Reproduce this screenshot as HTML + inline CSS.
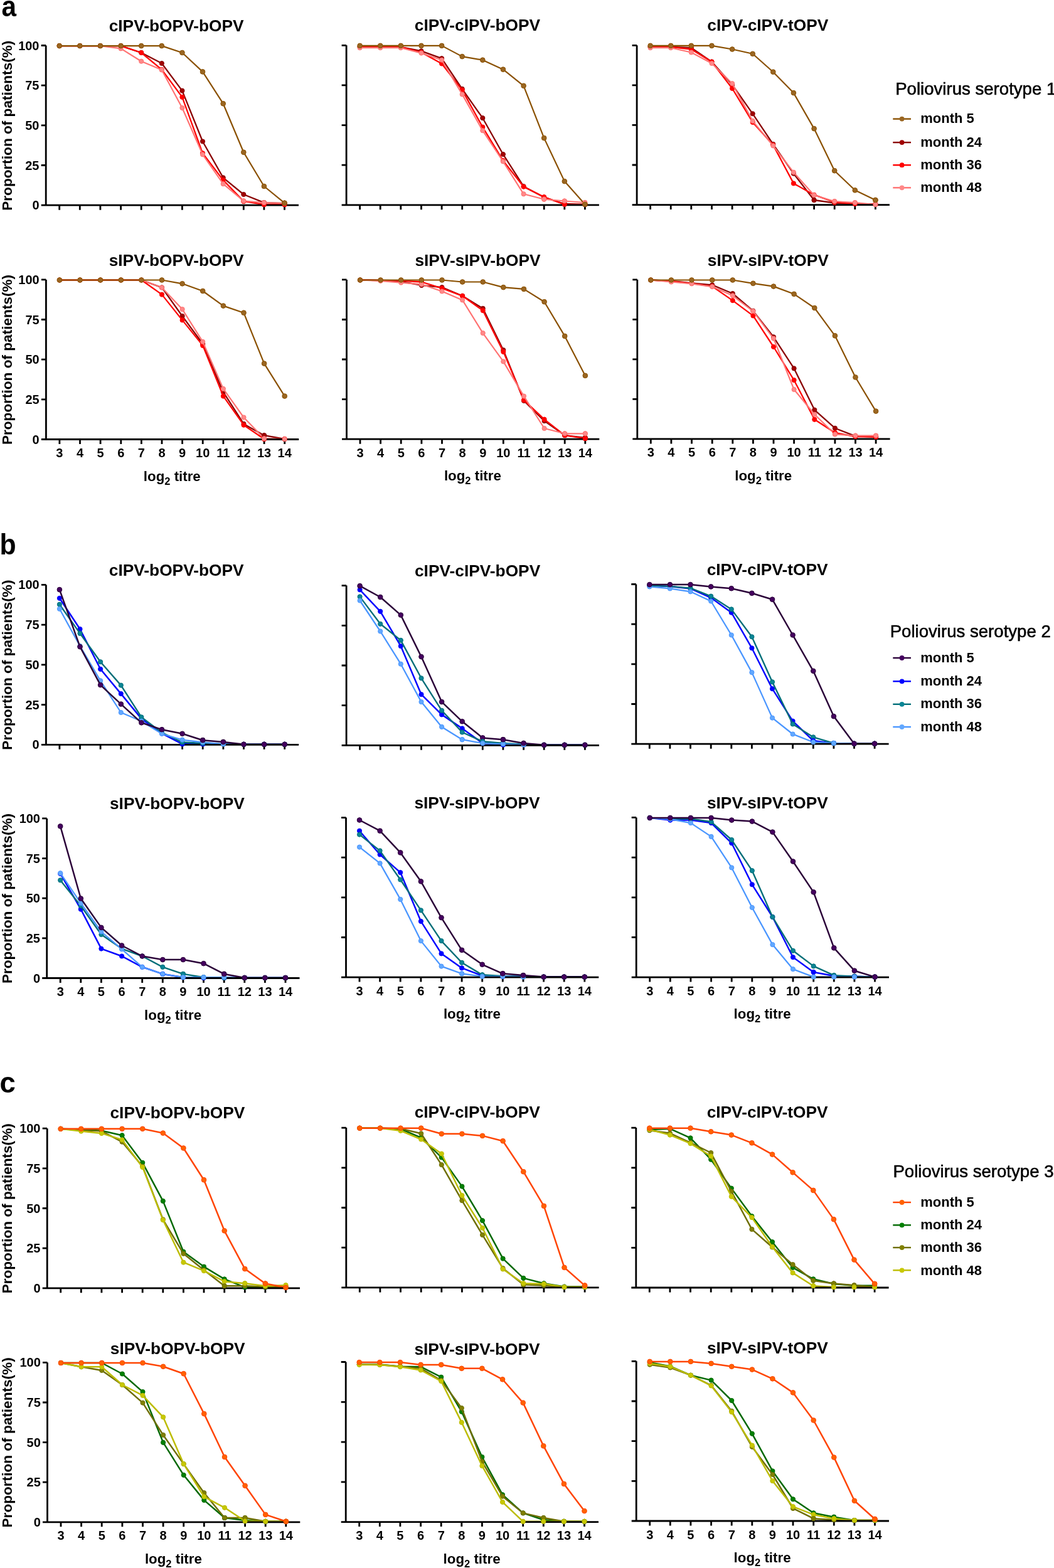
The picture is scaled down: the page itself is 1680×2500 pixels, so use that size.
<!DOCTYPE html><html><head><meta charset="utf-8"><style>html,body{margin:0;padding:0;background:#fff;}svg{display:block;}text{font-family:"Liberation Sans",Arial,sans-serif;}</style></head><body>
<svg width="1680" height="2500" viewBox="0 0 1680 2500">
<rect width="1680" height="2500" fill="#fff"/>
<g><text x="281.1" y="49.8" font-size="26.3" font-weight="bold" text-anchor="middle">cIPV-bOPV-bOPV</text><text x="62.5" y="79.5" font-size="20" font-weight="bold" text-anchor="end">100</text><text x="62.5" y="143.2" font-size="20" font-weight="bold" text-anchor="end">75</text><text x="62.5" y="206.8" font-size="20" font-weight="bold" text-anchor="end">50</text><text x="62.5" y="270.5" font-size="20" font-weight="bold" text-anchor="end">25</text><text x="62.5" y="334.2" font-size="20" font-weight="bold" text-anchor="end">0</text><text transform="translate(19 200.2) rotate(-90)" font-size="22.6" font-weight="bold" text-anchor="middle">Proportion of patients(%)</text><polyline points="94.7,73.1 127.3,73.1 159.9,73.1 192.6,73.1 225.2,84 257.8,101 290.4,144.6 323,225.5 355.7,283.3 388.3,310 420.9,323.1 453.5,324.2" fill="none" stroke="#8a0000" stroke-width="2.3" stroke-linejoin="round"/><circle cx="94.7" cy="73.1" r="3.5999999999999996" fill="#a00000" stroke="#8a0000" stroke-width="1"/><circle cx="127.3" cy="73.1" r="3.5999999999999996" fill="#a00000" stroke="#8a0000" stroke-width="1"/><circle cx="159.9" cy="73.1" r="3.5999999999999996" fill="#a00000" stroke="#8a0000" stroke-width="1"/><circle cx="192.6" cy="73.1" r="3.5999999999999996" fill="#a00000" stroke="#8a0000" stroke-width="1"/><circle cx="225.2" cy="84" r="3.5999999999999996" fill="#a00000" stroke="#8a0000" stroke-width="1"/><circle cx="257.8" cy="101" r="3.5999999999999996" fill="#a00000" stroke="#8a0000" stroke-width="1"/><circle cx="290.4" cy="144.6" r="3.5999999999999996" fill="#a00000" stroke="#8a0000" stroke-width="1"/><circle cx="323" cy="225.5" r="3.5999999999999996" fill="#a00000" stroke="#8a0000" stroke-width="1"/><circle cx="355.7" cy="283.3" r="3.5999999999999996" fill="#a00000" stroke="#8a0000" stroke-width="1"/><circle cx="388.3" cy="310" r="3.5999999999999996" fill="#a00000" stroke="#8a0000" stroke-width="1"/><circle cx="420.9" cy="323.1" r="3.5999999999999996" fill="#a00000" stroke="#8a0000" stroke-width="1"/><circle cx="453.5" cy="324.2" r="3.5999999999999996" fill="#a00000" stroke="#8a0000" stroke-width="1"/><polyline points="94.7,73.1 127.3,73.1 159.9,73.1 192.6,73.1 225.2,84 257.8,110.9 290.4,154.8 323,244.3 355.7,287.1 388.3,320.9 420.9,326.2 453.5,326.2" fill="none" stroke="#ff0000" stroke-width="2.3" stroke-linejoin="round"/><circle cx="94.7" cy="73.1" r="3.5999999999999996" fill="#ff0000" stroke="#ff0000" stroke-width="1"/><circle cx="127.3" cy="73.1" r="3.5999999999999996" fill="#ff0000" stroke="#ff0000" stroke-width="1"/><circle cx="159.9" cy="73.1" r="3.5999999999999996" fill="#ff0000" stroke="#ff0000" stroke-width="1"/><circle cx="192.6" cy="73.1" r="3.5999999999999996" fill="#ff0000" stroke="#ff0000" stroke-width="1"/><circle cx="225.2" cy="84" r="3.5999999999999996" fill="#ff0000" stroke="#ff0000" stroke-width="1"/><circle cx="257.8" cy="110.9" r="3.5999999999999996" fill="#ff0000" stroke="#ff0000" stroke-width="1"/><circle cx="290.4" cy="154.8" r="3.5999999999999996" fill="#ff0000" stroke="#ff0000" stroke-width="1"/><circle cx="323" cy="244.3" r="3.5999999999999996" fill="#ff0000" stroke="#ff0000" stroke-width="1"/><circle cx="355.7" cy="287.1" r="3.5999999999999996" fill="#ff0000" stroke="#ff0000" stroke-width="1"/><circle cx="388.3" cy="320.9" r="3.5999999999999996" fill="#ff0000" stroke="#ff0000" stroke-width="1"/><circle cx="420.9" cy="326.2" r="3.5999999999999996" fill="#ff0000" stroke="#ff0000" stroke-width="1"/><circle cx="453.5" cy="326.2" r="3.5999999999999996" fill="#ff0000" stroke="#ff0000" stroke-width="1"/><polyline points="94.7,73.1 127.3,73.1 159.9,73.1 192.6,77.4 225.2,97.7 257.8,111.4 290.4,172 323,246.3 355.7,293.2 388.3,320.4 420.9,323.1 453.5,324.2" fill="none" stroke="#ff7272" stroke-width="2.2" stroke-linejoin="round"/><circle cx="94.7" cy="73.1" r="3.5999999999999996" fill="#ff8888" stroke="#ff7272" stroke-width="1"/><circle cx="127.3" cy="73.1" r="3.5999999999999996" fill="#ff8888" stroke="#ff7272" stroke-width="1"/><circle cx="159.9" cy="73.1" r="3.5999999999999996" fill="#ff8888" stroke="#ff7272" stroke-width="1"/><circle cx="192.6" cy="77.4" r="3.5999999999999996" fill="#ff8888" stroke="#ff7272" stroke-width="1"/><circle cx="225.2" cy="97.7" r="3.5999999999999996" fill="#ff8888" stroke="#ff7272" stroke-width="1"/><circle cx="257.8" cy="111.4" r="3.5999999999999996" fill="#ff8888" stroke="#ff7272" stroke-width="1"/><circle cx="290.4" cy="172" r="3.5999999999999996" fill="#ff8888" stroke="#ff7272" stroke-width="1"/><circle cx="323" cy="246.3" r="3.5999999999999996" fill="#ff8888" stroke="#ff7272" stroke-width="1"/><circle cx="355.7" cy="293.2" r="3.5999999999999996" fill="#ff8888" stroke="#ff7272" stroke-width="1"/><circle cx="388.3" cy="320.4" r="3.5999999999999996" fill="#ff8888" stroke="#ff7272" stroke-width="1"/><circle cx="420.9" cy="323.1" r="3.5999999999999996" fill="#ff8888" stroke="#ff7272" stroke-width="1"/><circle cx="453.5" cy="324.2" r="3.5999999999999996" fill="#ff8888" stroke="#ff7272" stroke-width="1"/><polyline points="94.7,73.1 127.3,73.1 159.9,73.1 192.6,73.1 225.2,73.1 257.8,73.1 290.4,84 323,114.4 355.7,165.2 388.3,242.8 420.9,297 453.5,323.7" fill="none" stroke="#8a5000" stroke-width="2.2" stroke-linejoin="round"/><circle cx="94.7" cy="73.1" r="3.8499999999999996" fill="#9a6622" stroke="#8a5000" stroke-width="1"/><circle cx="127.3" cy="73.1" r="3.8499999999999996" fill="#9a6622" stroke="#8a5000" stroke-width="1"/><circle cx="159.9" cy="73.1" r="3.8499999999999996" fill="#9a6622" stroke="#8a5000" stroke-width="1"/><circle cx="192.6" cy="73.1" r="3.8499999999999996" fill="#9a6622" stroke="#8a5000" stroke-width="1"/><circle cx="225.2" cy="73.1" r="3.8499999999999996" fill="#9a6622" stroke="#8a5000" stroke-width="1"/><circle cx="257.8" cy="73.1" r="3.8499999999999996" fill="#9a6622" stroke="#8a5000" stroke-width="1"/><circle cx="290.4" cy="84" r="3.8499999999999996" fill="#9a6622" stroke="#8a5000" stroke-width="1"/><circle cx="323" cy="114.4" r="3.8499999999999996" fill="#9a6622" stroke="#8a5000" stroke-width="1"/><circle cx="355.7" cy="165.2" r="3.8499999999999996" fill="#9a6622" stroke="#8a5000" stroke-width="1"/><circle cx="388.3" cy="242.8" r="3.8499999999999996" fill="#9a6622" stroke="#8a5000" stroke-width="1"/><circle cx="420.9" cy="297" r="3.8499999999999996" fill="#9a6622" stroke="#8a5000" stroke-width="1"/><circle cx="453.5" cy="323.7" r="3.8499999999999996" fill="#9a6622" stroke="#8a5000" stroke-width="1"/><path d="M73.2 72.5V327.2M65.7 327.2H476M65.7 72.5H73.2M65.7 136.2H73.2M65.7 199.8H73.2M65.7 263.5H73.2M94.7 327.2V334.7M127.3 327.2V334.7M159.9 327.2V334.7M192.6 327.2V334.7M225.2 327.2V334.7M257.8 327.2V334.7M290.4 327.2V334.7M323 327.2V334.7M355.7 327.2V334.7M388.3 327.2V334.7M420.9 327.2V334.7M453.5 327.2V334.7" stroke="#000" stroke-width="2.8" fill="none"/><circle cx="420.9" cy="323.1" r="3.5999999999999996" fill="#a00000" stroke="#8a0000" stroke-width="1"/><circle cx="453.5" cy="324.2" r="3.5999999999999996" fill="#a00000" stroke="#8a0000" stroke-width="1"/><circle cx="388.3" cy="320.9" r="3.5999999999999996" fill="#ff0000" stroke="#ff0000" stroke-width="1"/><circle cx="420.9" cy="326.2" r="3.5999999999999996" fill="#ff0000" stroke="#ff0000" stroke-width="1"/><circle cx="453.5" cy="326.2" r="3.5999999999999996" fill="#ff0000" stroke="#ff0000" stroke-width="1"/><circle cx="388.3" cy="320.4" r="3.5999999999999996" fill="#ff8888" stroke="#ff7272" stroke-width="1"/><circle cx="420.9" cy="323.1" r="3.5999999999999996" fill="#ff8888" stroke="#ff7272" stroke-width="1"/><circle cx="453.5" cy="324.2" r="3.5999999999999996" fill="#ff8888" stroke="#ff7272" stroke-width="1"/><circle cx="453.5" cy="323.7" r="3.8499999999999996" fill="#9a6622" stroke="#8a5000" stroke-width="1"/></g>
<g><text x="760.9" y="48.9" font-size="26.3" font-weight="bold" text-anchor="middle">cIPV-cIPV-bOPV</text><polyline points="573.6,74.9 606.2,74.9 638.8,74.9 671.5,81.3 704.1,93.2 736.7,141.8 769.3,188.2 801.9,246 834.6,297.2 867.2,314.6 899.8,325 932.4,325.8" fill="none" stroke="#8a0000" stroke-width="2.3" stroke-linejoin="round"/><circle cx="573.6" cy="74.9" r="3.5999999999999996" fill="#a00000" stroke="#8a0000" stroke-width="1"/><circle cx="606.2" cy="74.9" r="3.5999999999999996" fill="#a00000" stroke="#8a0000" stroke-width="1"/><circle cx="638.8" cy="74.9" r="3.5999999999999996" fill="#a00000" stroke="#8a0000" stroke-width="1"/><circle cx="671.5" cy="81.3" r="3.5999999999999996" fill="#a00000" stroke="#8a0000" stroke-width="1"/><circle cx="704.1" cy="93.2" r="3.5999999999999996" fill="#a00000" stroke="#8a0000" stroke-width="1"/><circle cx="736.7" cy="141.8" r="3.5999999999999996" fill="#a00000" stroke="#8a0000" stroke-width="1"/><circle cx="769.3" cy="188.2" r="3.5999999999999996" fill="#a00000" stroke="#8a0000" stroke-width="1"/><circle cx="801.9" cy="246" r="3.5999999999999996" fill="#a00000" stroke="#8a0000" stroke-width="1"/><circle cx="834.6" cy="297.2" r="3.5999999999999996" fill="#a00000" stroke="#8a0000" stroke-width="1"/><circle cx="867.2" cy="314.6" r="3.5999999999999996" fill="#a00000" stroke="#8a0000" stroke-width="1"/><circle cx="899.8" cy="325" r="3.5999999999999996" fill="#a00000" stroke="#8a0000" stroke-width="1"/><circle cx="932.4" cy="325.8" r="3.5999999999999996" fill="#a00000" stroke="#8a0000" stroke-width="1"/><polyline points="573.6,74.9 606.2,74.9 638.8,74.9 671.5,83.5 704.1,101.5 736.7,143.6 769.3,202.6 801.9,256.1 834.6,297.7 867.2,314.1 899.8,325.8 932.4,325.8" fill="none" stroke="#ff0000" stroke-width="2.3" stroke-linejoin="round"/><circle cx="573.6" cy="74.9" r="3.5999999999999996" fill="#ff0000" stroke="#ff0000" stroke-width="1"/><circle cx="606.2" cy="74.9" r="3.5999999999999996" fill="#ff0000" stroke="#ff0000" stroke-width="1"/><circle cx="638.8" cy="74.9" r="3.5999999999999996" fill="#ff0000" stroke="#ff0000" stroke-width="1"/><circle cx="671.5" cy="83.5" r="3.5999999999999996" fill="#ff0000" stroke="#ff0000" stroke-width="1"/><circle cx="704.1" cy="101.5" r="3.5999999999999996" fill="#ff0000" stroke="#ff0000" stroke-width="1"/><circle cx="736.7" cy="143.6" r="3.5999999999999996" fill="#ff0000" stroke="#ff0000" stroke-width="1"/><circle cx="769.3" cy="202.6" r="3.5999999999999996" fill="#ff0000" stroke="#ff0000" stroke-width="1"/><circle cx="801.9" cy="256.1" r="3.5999999999999996" fill="#ff0000" stroke="#ff0000" stroke-width="1"/><circle cx="834.6" cy="297.7" r="3.5999999999999996" fill="#ff0000" stroke="#ff0000" stroke-width="1"/><circle cx="867.2" cy="314.1" r="3.5999999999999996" fill="#ff0000" stroke="#ff0000" stroke-width="1"/><circle cx="899.8" cy="325.8" r="3.5999999999999996" fill="#ff0000" stroke="#ff0000" stroke-width="1"/><circle cx="932.4" cy="325.8" r="3.5999999999999996" fill="#ff0000" stroke="#ff0000" stroke-width="1"/><polyline points="573.6,76.2 606.2,76.2 638.8,76.2 671.5,84.6 704.1,95.7 736.7,150.4 769.3,208.2 801.9,257.4 834.6,309.3 867.2,317.7 899.8,320.5 932.4,323" fill="none" stroke="#ff7272" stroke-width="2.2" stroke-linejoin="round"/><circle cx="573.6" cy="76.2" r="3.5999999999999996" fill="#ff8888" stroke="#ff7272" stroke-width="1"/><circle cx="606.2" cy="76.2" r="3.5999999999999996" fill="#ff8888" stroke="#ff7272" stroke-width="1"/><circle cx="638.8" cy="76.2" r="3.5999999999999996" fill="#ff8888" stroke="#ff7272" stroke-width="1"/><circle cx="671.5" cy="84.6" r="3.5999999999999996" fill="#ff8888" stroke="#ff7272" stroke-width="1"/><circle cx="704.1" cy="95.7" r="3.5999999999999996" fill="#ff8888" stroke="#ff7272" stroke-width="1"/><circle cx="736.7" cy="150.4" r="3.5999999999999996" fill="#ff8888" stroke="#ff7272" stroke-width="1"/><circle cx="769.3" cy="208.2" r="3.5999999999999996" fill="#ff8888" stroke="#ff7272" stroke-width="1"/><circle cx="801.9" cy="257.4" r="3.5999999999999996" fill="#ff8888" stroke="#ff7272" stroke-width="1"/><circle cx="834.6" cy="309.3" r="3.5999999999999996" fill="#ff8888" stroke="#ff7272" stroke-width="1"/><circle cx="867.2" cy="317.7" r="3.5999999999999996" fill="#ff8888" stroke="#ff7272" stroke-width="1"/><circle cx="899.8" cy="320.5" r="3.5999999999999996" fill="#ff8888" stroke="#ff7272" stroke-width="1"/><circle cx="932.4" cy="323" r="3.5999999999999996" fill="#ff8888" stroke="#ff7272" stroke-width="1"/><polyline points="573.6,72.9 606.2,72.9 638.8,72.9 671.5,72.9 704.1,72.9 736.7,90.1 769.3,95.7 801.9,110.7 834.6,136.8 867.2,220.1 899.8,289.1 932.4,325.8" fill="none" stroke="#8a5000" stroke-width="2.2" stroke-linejoin="round"/><circle cx="573.6" cy="72.9" r="3.8499999999999996" fill="#9a6622" stroke="#8a5000" stroke-width="1"/><circle cx="606.2" cy="72.9" r="3.8499999999999996" fill="#9a6622" stroke="#8a5000" stroke-width="1"/><circle cx="638.8" cy="72.9" r="3.8499999999999996" fill="#9a6622" stroke="#8a5000" stroke-width="1"/><circle cx="671.5" cy="72.9" r="3.8499999999999996" fill="#9a6622" stroke="#8a5000" stroke-width="1"/><circle cx="704.1" cy="72.9" r="3.8499999999999996" fill="#9a6622" stroke="#8a5000" stroke-width="1"/><circle cx="736.7" cy="90.1" r="3.8499999999999996" fill="#9a6622" stroke="#8a5000" stroke-width="1"/><circle cx="769.3" cy="95.7" r="3.8499999999999996" fill="#9a6622" stroke="#8a5000" stroke-width="1"/><circle cx="801.9" cy="110.7" r="3.8499999999999996" fill="#9a6622" stroke="#8a5000" stroke-width="1"/><circle cx="834.6" cy="136.8" r="3.8499999999999996" fill="#9a6622" stroke="#8a5000" stroke-width="1"/><circle cx="867.2" cy="220.1" r="3.8499999999999996" fill="#9a6622" stroke="#8a5000" stroke-width="1"/><circle cx="899.8" cy="289.1" r="3.8499999999999996" fill="#9a6622" stroke="#8a5000" stroke-width="1"/><circle cx="932.4" cy="325.8" r="3.8499999999999996" fill="#9a6622" stroke="#8a5000" stroke-width="1"/><path d="M552.1 72.3V326.8M544.6 326.8H954.9M544.6 72.3H552.1M544.6 135.9H552.1M544.6 199.6H552.1M544.6 263.2H552.1M573.6 326.8V334.3M606.2 326.8V334.3M638.8 326.8V334.3M671.5 326.8V334.3M704.1 326.8V334.3M736.7 326.8V334.3M769.3 326.8V334.3M801.9 326.8V334.3M834.6 326.8V334.3M867.2 326.8V334.3M899.8 326.8V334.3M932.4 326.8V334.3" stroke="#000" stroke-width="2.8" fill="none"/><circle cx="899.8" cy="325" r="3.5999999999999996" fill="#a00000" stroke="#8a0000" stroke-width="1"/><circle cx="932.4" cy="325.8" r="3.5999999999999996" fill="#a00000" stroke="#8a0000" stroke-width="1"/><circle cx="899.8" cy="325.8" r="3.5999999999999996" fill="#ff0000" stroke="#ff0000" stroke-width="1"/><circle cx="932.4" cy="325.8" r="3.5999999999999996" fill="#ff0000" stroke="#ff0000" stroke-width="1"/><circle cx="867.2" cy="317.7" r="3.5999999999999996" fill="#ff8888" stroke="#ff7272" stroke-width="1"/><circle cx="899.8" cy="320.5" r="3.5999999999999996" fill="#ff8888" stroke="#ff7272" stroke-width="1"/><circle cx="932.4" cy="323" r="3.5999999999999996" fill="#ff8888" stroke="#ff7272" stroke-width="1"/><circle cx="932.4" cy="325.8" r="3.8499999999999996" fill="#9a6622" stroke="#8a5000" stroke-width="1"/></g>
<g><text x="1223.8" y="48.9" font-size="26.3" font-weight="bold" text-anchor="middle">cIPV-cIPV-tOPV</text><polyline points="1036.6,74.9 1069.2,74.9 1101.8,76.2 1134.5,98.5 1167.1,134.9 1199.7,181.3 1232.3,229.9 1264.9,276.7 1297.6,319 1330.2,323.6 1362.8,324.8 1395.4,325.6" fill="none" stroke="#8a0000" stroke-width="2.3" stroke-linejoin="round"/><circle cx="1036.6" cy="74.9" r="3.5999999999999996" fill="#a00000" stroke="#8a0000" stroke-width="1"/><circle cx="1069.2" cy="74.9" r="3.5999999999999996" fill="#a00000" stroke="#8a0000" stroke-width="1"/><circle cx="1101.8" cy="76.2" r="3.5999999999999996" fill="#a00000" stroke="#8a0000" stroke-width="1"/><circle cx="1134.5" cy="98.5" r="3.5999999999999996" fill="#a00000" stroke="#8a0000" stroke-width="1"/><circle cx="1167.1" cy="134.9" r="3.5999999999999996" fill="#a00000" stroke="#8a0000" stroke-width="1"/><circle cx="1199.7" cy="181.3" r="3.5999999999999996" fill="#a00000" stroke="#8a0000" stroke-width="1"/><circle cx="1232.3" cy="229.9" r="3.5999999999999996" fill="#a00000" stroke="#8a0000" stroke-width="1"/><circle cx="1264.9" cy="276.7" r="3.5999999999999996" fill="#a00000" stroke="#8a0000" stroke-width="1"/><circle cx="1297.6" cy="319" r="3.5999999999999996" fill="#a00000" stroke="#8a0000" stroke-width="1"/><circle cx="1330.2" cy="323.6" r="3.5999999999999996" fill="#a00000" stroke="#8a0000" stroke-width="1"/><circle cx="1362.8" cy="324.8" r="3.5999999999999996" fill="#a00000" stroke="#8a0000" stroke-width="1"/><circle cx="1395.4" cy="325.6" r="3.5999999999999996" fill="#a00000" stroke="#8a0000" stroke-width="1"/><polyline points="1036.6,74.9 1069.2,74.9 1101.8,78.5 1134.5,98.5 1167.1,141 1199.7,194.9 1232.3,231.2 1264.9,292.4 1297.6,310.7 1330.2,322.3 1362.8,324.8 1395.4,325.6" fill="none" stroke="#ff0000" stroke-width="2.3" stroke-linejoin="round"/><circle cx="1036.6" cy="74.9" r="3.5999999999999996" fill="#ff0000" stroke="#ff0000" stroke-width="1"/><circle cx="1069.2" cy="74.9" r="3.5999999999999996" fill="#ff0000" stroke="#ff0000" stroke-width="1"/><circle cx="1101.8" cy="78.5" r="3.5999999999999996" fill="#ff0000" stroke="#ff0000" stroke-width="1"/><circle cx="1134.5" cy="98.5" r="3.5999999999999996" fill="#ff0000" stroke="#ff0000" stroke-width="1"/><circle cx="1167.1" cy="141" r="3.5999999999999996" fill="#ff0000" stroke="#ff0000" stroke-width="1"/><circle cx="1199.7" cy="194.9" r="3.5999999999999996" fill="#ff0000" stroke="#ff0000" stroke-width="1"/><circle cx="1232.3" cy="231.2" r="3.5999999999999996" fill="#ff0000" stroke="#ff0000" stroke-width="1"/><circle cx="1264.9" cy="292.4" r="3.5999999999999996" fill="#ff0000" stroke="#ff0000" stroke-width="1"/><circle cx="1297.6" cy="310.7" r="3.5999999999999996" fill="#ff0000" stroke="#ff0000" stroke-width="1"/><circle cx="1330.2" cy="322.3" r="3.5999999999999996" fill="#ff0000" stroke="#ff0000" stroke-width="1"/><circle cx="1362.8" cy="324.8" r="3.5999999999999996" fill="#ff0000" stroke="#ff0000" stroke-width="1"/><circle cx="1395.4" cy="325.6" r="3.5999999999999996" fill="#ff0000" stroke="#ff0000" stroke-width="1"/><polyline points="1036.6,76.2 1069.2,76.2 1101.8,83.5 1134.5,101 1167.1,133.2 1199.7,192.9 1232.3,232.4 1264.9,274.7 1297.6,311.2 1330.2,321 1362.8,323.1 1395.4,326.1" fill="none" stroke="#ff7272" stroke-width="2.2" stroke-linejoin="round"/><circle cx="1036.6" cy="76.2" r="3.5999999999999996" fill="#ff8888" stroke="#ff7272" stroke-width="1"/><circle cx="1069.2" cy="76.2" r="3.5999999999999996" fill="#ff8888" stroke="#ff7272" stroke-width="1"/><circle cx="1101.8" cy="83.5" r="3.5999999999999996" fill="#ff8888" stroke="#ff7272" stroke-width="1"/><circle cx="1134.5" cy="101" r="3.5999999999999996" fill="#ff8888" stroke="#ff7272" stroke-width="1"/><circle cx="1167.1" cy="133.2" r="3.5999999999999996" fill="#ff8888" stroke="#ff7272" stroke-width="1"/><circle cx="1199.7" cy="192.9" r="3.5999999999999996" fill="#ff8888" stroke="#ff7272" stroke-width="1"/><circle cx="1232.3" cy="232.4" r="3.5999999999999996" fill="#ff8888" stroke="#ff7272" stroke-width="1"/><circle cx="1264.9" cy="274.7" r="3.5999999999999996" fill="#ff8888" stroke="#ff7272" stroke-width="1"/><circle cx="1297.6" cy="311.2" r="3.5999999999999996" fill="#ff8888" stroke="#ff7272" stroke-width="1"/><circle cx="1330.2" cy="321" r="3.5999999999999996" fill="#ff8888" stroke="#ff7272" stroke-width="1"/><circle cx="1362.8" cy="323.1" r="3.5999999999999996" fill="#ff8888" stroke="#ff7272" stroke-width="1"/><circle cx="1395.4" cy="326.1" r="3.5999999999999996" fill="#ff8888" stroke="#ff7272" stroke-width="1"/><polyline points="1036.6,72.9 1069.2,72.9 1101.8,72.9 1134.5,72.9 1167.1,78.5 1199.7,85.8 1232.3,114.7 1264.9,148.1 1297.6,205.1 1330.2,272.2 1362.8,303.3 1395.4,319" fill="none" stroke="#8a5000" stroke-width="2.2" stroke-linejoin="round"/><circle cx="1036.6" cy="72.9" r="3.8499999999999996" fill="#9a6622" stroke="#8a5000" stroke-width="1"/><circle cx="1069.2" cy="72.9" r="3.8499999999999996" fill="#9a6622" stroke="#8a5000" stroke-width="1"/><circle cx="1101.8" cy="72.9" r="3.8499999999999996" fill="#9a6622" stroke="#8a5000" stroke-width="1"/><circle cx="1134.5" cy="72.9" r="3.8499999999999996" fill="#9a6622" stroke="#8a5000" stroke-width="1"/><circle cx="1167.1" cy="78.5" r="3.8499999999999996" fill="#9a6622" stroke="#8a5000" stroke-width="1"/><circle cx="1199.7" cy="85.8" r="3.8499999999999996" fill="#9a6622" stroke="#8a5000" stroke-width="1"/><circle cx="1232.3" cy="114.7" r="3.8499999999999996" fill="#9a6622" stroke="#8a5000" stroke-width="1"/><circle cx="1264.9" cy="148.1" r="3.8499999999999996" fill="#9a6622" stroke="#8a5000" stroke-width="1"/><circle cx="1297.6" cy="205.1" r="3.8499999999999996" fill="#9a6622" stroke="#8a5000" stroke-width="1"/><circle cx="1330.2" cy="272.2" r="3.8499999999999996" fill="#9a6622" stroke="#8a5000" stroke-width="1"/><circle cx="1362.8" cy="303.3" r="3.8499999999999996" fill="#9a6622" stroke="#8a5000" stroke-width="1"/><circle cx="1395.4" cy="319" r="3.8499999999999996" fill="#9a6622" stroke="#8a5000" stroke-width="1"/><path d="M1015.1 72.3V326.6M1007.6 326.6H1417.9M1007.6 72.3H1015.1M1007.6 135.9H1015.1M1007.6 199.4H1015.1M1007.6 263H1015.1M1036.6 326.6V334.1M1069.2 326.6V334.1M1101.8 326.6V334.1M1134.5 326.6V334.1M1167.1 326.6V334.1M1199.7 326.6V334.1M1232.3 326.6V334.1M1264.9 326.6V334.1M1297.6 326.6V334.1M1330.2 326.6V334.1M1362.8 326.6V334.1M1395.4 326.6V334.1" stroke="#000" stroke-width="2.8" fill="none"/><circle cx="1297.6" cy="319" r="3.5999999999999996" fill="#a00000" stroke="#8a0000" stroke-width="1"/><circle cx="1330.2" cy="323.6" r="3.5999999999999996" fill="#a00000" stroke="#8a0000" stroke-width="1"/><circle cx="1362.8" cy="324.8" r="3.5999999999999996" fill="#a00000" stroke="#8a0000" stroke-width="1"/><circle cx="1395.4" cy="325.6" r="3.5999999999999996" fill="#a00000" stroke="#8a0000" stroke-width="1"/><circle cx="1330.2" cy="322.3" r="3.5999999999999996" fill="#ff0000" stroke="#ff0000" stroke-width="1"/><circle cx="1362.8" cy="324.8" r="3.5999999999999996" fill="#ff0000" stroke="#ff0000" stroke-width="1"/><circle cx="1395.4" cy="325.6" r="3.5999999999999996" fill="#ff0000" stroke="#ff0000" stroke-width="1"/><circle cx="1330.2" cy="321" r="3.5999999999999996" fill="#ff8888" stroke="#ff7272" stroke-width="1"/><circle cx="1362.8" cy="323.1" r="3.5999999999999996" fill="#ff8888" stroke="#ff7272" stroke-width="1"/><circle cx="1395.4" cy="326.1" r="3.5999999999999996" fill="#ff8888" stroke="#ff7272" stroke-width="1"/><circle cx="1395.4" cy="319" r="3.8499999999999996" fill="#9a6622" stroke="#8a5000" stroke-width="1"/></g>
<g><text x="281.1" y="424.1" font-size="26.3" font-weight="bold" text-anchor="middle">sIPV-bOPV-bOPV</text><text x="62.7" y="452.9" font-size="20" font-weight="bold" text-anchor="end">100</text><text x="62.7" y="516.5" font-size="20" font-weight="bold" text-anchor="end">75</text><text x="62.7" y="580.2" font-size="20" font-weight="bold" text-anchor="end">50</text><text x="62.7" y="643.9" font-size="20" font-weight="bold" text-anchor="end">25</text><text x="62.7" y="707.5" font-size="20" font-weight="bold" text-anchor="end">0</text><text transform="translate(19 573.5) rotate(-90)" font-size="22.6" font-weight="bold" text-anchor="middle">Proportion of patients(%)</text><text x="94.9" y="729" font-size="20" font-weight="bold" text-anchor="middle">3</text><text x="127.5" y="729" font-size="20" font-weight="bold" text-anchor="middle">4</text><text x="160.1" y="729" font-size="20" font-weight="bold" text-anchor="middle">5</text><text x="192.8" y="729" font-size="20" font-weight="bold" text-anchor="middle">6</text><text x="225.4" y="729" font-size="20" font-weight="bold" text-anchor="middle">7</text><text x="258" y="729" font-size="20" font-weight="bold" text-anchor="middle">8</text><text x="290.6" y="729" font-size="20" font-weight="bold" text-anchor="middle">9</text><text x="323.2" y="729" font-size="20" font-weight="bold" text-anchor="middle">10</text><text x="355.9" y="729" font-size="20" font-weight="bold" text-anchor="middle">11</text><text x="388.5" y="729" font-size="20" font-weight="bold" text-anchor="middle">12</text><text x="421.1" y="729" font-size="20" font-weight="bold" text-anchor="middle">13</text><text x="453.7" y="729" font-size="20" font-weight="bold" text-anchor="middle">14</text><text x="274.3" y="766.7" font-size="22.3" font-weight="bold" text-anchor="middle">log<tspan font-size="16.5" dy="5.8">2</tspan><tspan dy="-5.8"> titre</tspan></text><polyline points="94.9,446.5 127.5,446.5 160.1,446.5 192.8,446.5 225.4,446.5 258,458.4 290.6,504 323.2,548.2 355.9,625.2 388.5,675.9 421.1,694.2 453.7,700" fill="none" stroke="#8a0000" stroke-width="2.3" stroke-linejoin="round"/><circle cx="94.9" cy="446.5" r="3.5999999999999996" fill="#a00000" stroke="#8a0000" stroke-width="1"/><circle cx="127.5" cy="446.5" r="3.5999999999999996" fill="#a00000" stroke="#8a0000" stroke-width="1"/><circle cx="160.1" cy="446.5" r="3.5999999999999996" fill="#a00000" stroke="#8a0000" stroke-width="1"/><circle cx="192.8" cy="446.5" r="3.5999999999999996" fill="#a00000" stroke="#8a0000" stroke-width="1"/><circle cx="225.4" cy="446.5" r="3.5999999999999996" fill="#a00000" stroke="#8a0000" stroke-width="1"/><circle cx="258" cy="458.4" r="3.5999999999999996" fill="#a00000" stroke="#8a0000" stroke-width="1"/><circle cx="290.6" cy="504" r="3.5999999999999996" fill="#a00000" stroke="#8a0000" stroke-width="1"/><circle cx="323.2" cy="548.2" r="3.5999999999999996" fill="#a00000" stroke="#8a0000" stroke-width="1"/><circle cx="355.9" cy="625.2" r="3.5999999999999996" fill="#a00000" stroke="#8a0000" stroke-width="1"/><circle cx="388.5" cy="675.9" r="3.5999999999999996" fill="#a00000" stroke="#8a0000" stroke-width="1"/><circle cx="421.1" cy="694.2" r="3.5999999999999996" fill="#a00000" stroke="#8a0000" stroke-width="1"/><circle cx="453.7" cy="700" r="3.5999999999999996" fill="#a00000" stroke="#8a0000" stroke-width="1"/><polyline points="94.9,446.5 127.5,446.5 160.1,446.5 192.8,446.5 225.4,446.5 258,469.6 290.6,510.4 323.2,550.9 355.9,631.6 388.5,677.7 421.1,700 453.7,700" fill="none" stroke="#ff0000" stroke-width="2.3" stroke-linejoin="round"/><circle cx="94.9" cy="446.5" r="3.5999999999999996" fill="#ff0000" stroke="#ff0000" stroke-width="1"/><circle cx="127.5" cy="446.5" r="3.5999999999999996" fill="#ff0000" stroke="#ff0000" stroke-width="1"/><circle cx="160.1" cy="446.5" r="3.5999999999999996" fill="#ff0000" stroke="#ff0000" stroke-width="1"/><circle cx="192.8" cy="446.5" r="3.5999999999999996" fill="#ff0000" stroke="#ff0000" stroke-width="1"/><circle cx="225.4" cy="446.5" r="3.5999999999999996" fill="#ff0000" stroke="#ff0000" stroke-width="1"/><circle cx="258" cy="469.6" r="3.5999999999999996" fill="#ff0000" stroke="#ff0000" stroke-width="1"/><circle cx="290.6" cy="510.4" r="3.5999999999999996" fill="#ff0000" stroke="#ff0000" stroke-width="1"/><circle cx="323.2" cy="550.9" r="3.5999999999999996" fill="#ff0000" stroke="#ff0000" stroke-width="1"/><circle cx="355.9" cy="631.6" r="3.5999999999999996" fill="#ff0000" stroke="#ff0000" stroke-width="1"/><circle cx="388.5" cy="677.7" r="3.5999999999999996" fill="#ff0000" stroke="#ff0000" stroke-width="1"/><circle cx="421.1" cy="700" r="3.5999999999999996" fill="#ff0000" stroke="#ff0000" stroke-width="1"/><circle cx="453.7" cy="700" r="3.5999999999999996" fill="#ff0000" stroke="#ff0000" stroke-width="1"/><polyline points="94.9,446.5 127.5,446.5 160.1,446.5 192.8,446.5 225.4,446.5 258,458.4 290.6,493.1 323.2,544.9 355.9,619.9 388.5,665.5 421.1,699.2 453.7,700" fill="none" stroke="#ff7272" stroke-width="2.2" stroke-linejoin="round"/><circle cx="94.9" cy="446.5" r="3.5999999999999996" fill="#ff8888" stroke="#ff7272" stroke-width="1"/><circle cx="127.5" cy="446.5" r="3.5999999999999996" fill="#ff8888" stroke="#ff7272" stroke-width="1"/><circle cx="160.1" cy="446.5" r="3.5999999999999996" fill="#ff8888" stroke="#ff7272" stroke-width="1"/><circle cx="192.8" cy="446.5" r="3.5999999999999996" fill="#ff8888" stroke="#ff7272" stroke-width="1"/><circle cx="225.4" cy="446.5" r="3.5999999999999996" fill="#ff8888" stroke="#ff7272" stroke-width="1"/><circle cx="258" cy="458.4" r="3.5999999999999996" fill="#ff8888" stroke="#ff7272" stroke-width="1"/><circle cx="290.6" cy="493.1" r="3.5999999999999996" fill="#ff8888" stroke="#ff7272" stroke-width="1"/><circle cx="323.2" cy="544.9" r="3.5999999999999996" fill="#ff8888" stroke="#ff7272" stroke-width="1"/><circle cx="355.9" cy="619.9" r="3.5999999999999996" fill="#ff8888" stroke="#ff7272" stroke-width="1"/><circle cx="388.5" cy="665.5" r="3.5999999999999996" fill="#ff8888" stroke="#ff7272" stroke-width="1"/><circle cx="421.1" cy="699.2" r="3.5999999999999996" fill="#ff8888" stroke="#ff7272" stroke-width="1"/><circle cx="453.7" cy="700" r="3.5999999999999996" fill="#ff8888" stroke="#ff7272" stroke-width="1"/><polyline points="94.9,446.5 127.5,446.5 160.1,446.5 192.8,446.5 225.4,446.5 258,446.5 290.6,452.3 323.2,464 355.9,487.6 388.5,498.7 421.1,579.6 453.7,631.6" fill="none" stroke="#8a5000" stroke-width="2.2" stroke-linejoin="round"/><circle cx="94.9" cy="446.5" r="3.8499999999999996" fill="#9a6622" stroke="#8a5000" stroke-width="1"/><circle cx="127.5" cy="446.5" r="3.8499999999999996" fill="#9a6622" stroke="#8a5000" stroke-width="1"/><circle cx="160.1" cy="446.5" r="3.8499999999999996" fill="#9a6622" stroke="#8a5000" stroke-width="1"/><circle cx="192.8" cy="446.5" r="3.8499999999999996" fill="#9a6622" stroke="#8a5000" stroke-width="1"/><circle cx="225.4" cy="446.5" r="3.8499999999999996" fill="#9a6622" stroke="#8a5000" stroke-width="1"/><circle cx="258" cy="446.5" r="3.8499999999999996" fill="#9a6622" stroke="#8a5000" stroke-width="1"/><circle cx="290.6" cy="452.3" r="3.8499999999999996" fill="#9a6622" stroke="#8a5000" stroke-width="1"/><circle cx="323.2" cy="464" r="3.8499999999999996" fill="#9a6622" stroke="#8a5000" stroke-width="1"/><circle cx="355.9" cy="487.6" r="3.8499999999999996" fill="#9a6622" stroke="#8a5000" stroke-width="1"/><circle cx="388.5" cy="498.7" r="3.8499999999999996" fill="#9a6622" stroke="#8a5000" stroke-width="1"/><circle cx="421.1" cy="579.6" r="3.8499999999999996" fill="#9a6622" stroke="#8a5000" stroke-width="1"/><circle cx="453.7" cy="631.6" r="3.8499999999999996" fill="#9a6622" stroke="#8a5000" stroke-width="1"/><path d="M73.4 445.9V700.5M65.9 700.5H476.2M65.9 445.9H73.4M65.9 509.5H73.4M65.9 573.2H73.4M65.9 636.9H73.4M94.9 700.5V708M127.5 700.5V708M160.1 700.5V708M192.8 700.5V708M225.4 700.5V708M258 700.5V708M290.6 700.5V708M323.2 700.5V708M355.9 700.5V708M388.5 700.5V708M421.1 700.5V708M453.7 700.5V708" stroke="#000" stroke-width="2.8" fill="none"/><circle cx="421.1" cy="694.2" r="3.5999999999999996" fill="#a00000" stroke="#8a0000" stroke-width="1"/><circle cx="453.7" cy="700" r="3.5999999999999996" fill="#a00000" stroke="#8a0000" stroke-width="1"/><circle cx="421.1" cy="700" r="3.5999999999999996" fill="#ff0000" stroke="#ff0000" stroke-width="1"/><circle cx="453.7" cy="700" r="3.5999999999999996" fill="#ff0000" stroke="#ff0000" stroke-width="1"/><circle cx="421.1" cy="699.2" r="3.5999999999999996" fill="#ff8888" stroke="#ff7272" stroke-width="1"/><circle cx="453.7" cy="700" r="3.5999999999999996" fill="#ff8888" stroke="#ff7272" stroke-width="1"/></g>
<g><text x="761.5" y="424.3" font-size="26.3" font-weight="bold" text-anchor="middle">sIPV-sIPV-bOPV</text><text x="574" y="728.7" font-size="20" font-weight="bold" text-anchor="middle">3</text><text x="606.6" y="728.7" font-size="20" font-weight="bold" text-anchor="middle">4</text><text x="639.2" y="728.7" font-size="20" font-weight="bold" text-anchor="middle">5</text><text x="671.9" y="728.7" font-size="20" font-weight="bold" text-anchor="middle">6</text><text x="704.5" y="728.7" font-size="20" font-weight="bold" text-anchor="middle">7</text><text x="737.1" y="728.7" font-size="20" font-weight="bold" text-anchor="middle">8</text><text x="769.7" y="728.7" font-size="20" font-weight="bold" text-anchor="middle">9</text><text x="802.3" y="728.7" font-size="20" font-weight="bold" text-anchor="middle">10</text><text x="835" y="728.7" font-size="20" font-weight="bold" text-anchor="middle">11</text><text x="867.6" y="728.7" font-size="20" font-weight="bold" text-anchor="middle">12</text><text x="900.2" y="728.7" font-size="20" font-weight="bold" text-anchor="middle">13</text><text x="932.8" y="728.7" font-size="20" font-weight="bold" text-anchor="middle">14</text><text x="753.4" y="766.4" font-size="22.3" font-weight="bold" text-anchor="middle">log<tspan font-size="16.5" dy="5.8">2</tspan><tspan dy="-5.8"> titre</tspan></text><polyline points="574,446.5 606.6,447 639.2,448.8 671.9,454.9 704.5,458.1 737.1,471.8 769.7,491.8 802.3,558.2 835,638.9 867.6,671.1 900.2,694.1 932.8,697.9" fill="none" stroke="#8a0000" stroke-width="2.3" stroke-linejoin="round"/><circle cx="574" cy="446.5" r="3.5999999999999996" fill="#a00000" stroke="#8a0000" stroke-width="1"/><circle cx="606.6" cy="447" r="3.5999999999999996" fill="#a00000" stroke="#8a0000" stroke-width="1"/><circle cx="639.2" cy="448.8" r="3.5999999999999996" fill="#a00000" stroke="#8a0000" stroke-width="1"/><circle cx="671.9" cy="454.9" r="3.5999999999999996" fill="#a00000" stroke="#8a0000" stroke-width="1"/><circle cx="704.5" cy="458.1" r="3.5999999999999996" fill="#a00000" stroke="#8a0000" stroke-width="1"/><circle cx="737.1" cy="471.8" r="3.5999999999999996" fill="#a00000" stroke="#8a0000" stroke-width="1"/><circle cx="769.7" cy="491.8" r="3.5999999999999996" fill="#a00000" stroke="#8a0000" stroke-width="1"/><circle cx="802.3" cy="558.2" r="3.5999999999999996" fill="#a00000" stroke="#8a0000" stroke-width="1"/><circle cx="835" cy="638.9" r="3.5999999999999996" fill="#a00000" stroke="#8a0000" stroke-width="1"/><circle cx="867.6" cy="671.1" r="3.5999999999999996" fill="#a00000" stroke="#8a0000" stroke-width="1"/><circle cx="900.2" cy="694.1" r="3.5999999999999996" fill="#a00000" stroke="#8a0000" stroke-width="1"/><circle cx="932.8" cy="697.9" r="3.5999999999999996" fill="#a00000" stroke="#8a0000" stroke-width="1"/><polyline points="574,446.5 606.6,447 639.2,447.5 671.9,449.5 704.5,459.7 737.1,471.8 769.7,495.1 802.3,560.9 835,637.9 867.6,668.6 900.2,694.1 932.8,699.2" fill="none" stroke="#ff0000" stroke-width="2.3" stroke-linejoin="round"/><circle cx="574" cy="446.5" r="3.5999999999999996" fill="#ff0000" stroke="#ff0000" stroke-width="1"/><circle cx="606.6" cy="447" r="3.5999999999999996" fill="#ff0000" stroke="#ff0000" stroke-width="1"/><circle cx="639.2" cy="447.5" r="3.5999999999999996" fill="#ff0000" stroke="#ff0000" stroke-width="1"/><circle cx="671.9" cy="449.5" r="3.5999999999999996" fill="#ff0000" stroke="#ff0000" stroke-width="1"/><circle cx="704.5" cy="459.7" r="3.5999999999999996" fill="#ff0000" stroke="#ff0000" stroke-width="1"/><circle cx="737.1" cy="471.8" r="3.5999999999999996" fill="#ff0000" stroke="#ff0000" stroke-width="1"/><circle cx="769.7" cy="495.1" r="3.5999999999999996" fill="#ff0000" stroke="#ff0000" stroke-width="1"/><circle cx="802.3" cy="560.9" r="3.5999999999999996" fill="#ff0000" stroke="#ff0000" stroke-width="1"/><circle cx="835" cy="637.9" r="3.5999999999999996" fill="#ff0000" stroke="#ff0000" stroke-width="1"/><circle cx="867.6" cy="668.6" r="3.5999999999999996" fill="#ff0000" stroke="#ff0000" stroke-width="1"/><circle cx="900.2" cy="694.1" r="3.5999999999999996" fill="#ff0000" stroke="#ff0000" stroke-width="1"/><circle cx="932.8" cy="699.2" r="3.5999999999999996" fill="#ff0000" stroke="#ff0000" stroke-width="1"/><polyline points="574,446.5 606.6,447.8 639.2,450.6 671.9,453.3 704.5,464.5 737.1,478.4 769.7,531.1 802.3,576.4 835,631.6 867.6,683 900.2,691.3 932.8,691.3" fill="none" stroke="#ff7272" stroke-width="2.2" stroke-linejoin="round"/><circle cx="574" cy="446.5" r="3.5999999999999996" fill="#ff8888" stroke="#ff7272" stroke-width="1"/><circle cx="606.6" cy="447.8" r="3.5999999999999996" fill="#ff8888" stroke="#ff7272" stroke-width="1"/><circle cx="639.2" cy="450.6" r="3.5999999999999996" fill="#ff8888" stroke="#ff7272" stroke-width="1"/><circle cx="671.9" cy="453.3" r="3.5999999999999996" fill="#ff8888" stroke="#ff7272" stroke-width="1"/><circle cx="704.5" cy="464.5" r="3.5999999999999996" fill="#ff8888" stroke="#ff7272" stroke-width="1"/><circle cx="737.1" cy="478.4" r="3.5999999999999996" fill="#ff8888" stroke="#ff7272" stroke-width="1"/><circle cx="769.7" cy="531.1" r="3.5999999999999996" fill="#ff8888" stroke="#ff7272" stroke-width="1"/><circle cx="802.3" cy="576.4" r="3.5999999999999996" fill="#ff8888" stroke="#ff7272" stroke-width="1"/><circle cx="835" cy="631.6" r="3.5999999999999996" fill="#ff8888" stroke="#ff7272" stroke-width="1"/><circle cx="867.6" cy="683" r="3.5999999999999996" fill="#ff8888" stroke="#ff7272" stroke-width="1"/><circle cx="900.2" cy="691.3" r="3.5999999999999996" fill="#ff8888" stroke="#ff7272" stroke-width="1"/><circle cx="932.8" cy="691.3" r="3.5999999999999996" fill="#ff8888" stroke="#ff7272" stroke-width="1"/><polyline points="574,446.5 606.6,446.5 639.2,446.5 671.9,446.5 704.5,446.5 737.1,449.5 769.7,449.5 802.3,458.1 835,460.9 867.6,481.2 900.2,535.9 932.8,598.9" fill="none" stroke="#8a5000" stroke-width="2.2" stroke-linejoin="round"/><circle cx="574" cy="446.5" r="3.8499999999999996" fill="#9a6622" stroke="#8a5000" stroke-width="1"/><circle cx="606.6" cy="446.5" r="3.8499999999999996" fill="#9a6622" stroke="#8a5000" stroke-width="1"/><circle cx="639.2" cy="446.5" r="3.8499999999999996" fill="#9a6622" stroke="#8a5000" stroke-width="1"/><circle cx="671.9" cy="446.5" r="3.8499999999999996" fill="#9a6622" stroke="#8a5000" stroke-width="1"/><circle cx="704.5" cy="446.5" r="3.8499999999999996" fill="#9a6622" stroke="#8a5000" stroke-width="1"/><circle cx="737.1" cy="449.5" r="3.8499999999999996" fill="#9a6622" stroke="#8a5000" stroke-width="1"/><circle cx="769.7" cy="449.5" r="3.8499999999999996" fill="#9a6622" stroke="#8a5000" stroke-width="1"/><circle cx="802.3" cy="458.1" r="3.8499999999999996" fill="#9a6622" stroke="#8a5000" stroke-width="1"/><circle cx="835" cy="460.9" r="3.8499999999999996" fill="#9a6622" stroke="#8a5000" stroke-width="1"/><circle cx="867.6" cy="481.2" r="3.8499999999999996" fill="#9a6622" stroke="#8a5000" stroke-width="1"/><circle cx="900.2" cy="535.9" r="3.8499999999999996" fill="#9a6622" stroke="#8a5000" stroke-width="1"/><circle cx="932.8" cy="598.9" r="3.8499999999999996" fill="#9a6622" stroke="#8a5000" stroke-width="1"/><path d="M552.5 445.9V700.2M545 700.2H955.3M545 445.9H552.5M545 509.5H552.5M545 573H552.5M545 636.6H552.5M574 700.2V707.7M606.6 700.2V707.7M639.2 700.2V707.7M671.9 700.2V707.7M704.5 700.2V707.7M737.1 700.2V707.7M769.7 700.2V707.7M802.3 700.2V707.7M835 700.2V707.7M867.6 700.2V707.7M900.2 700.2V707.7M932.8 700.2V707.7" stroke="#000" stroke-width="2.8" fill="none"/><circle cx="900.2" cy="694.1" r="3.5999999999999996" fill="#a00000" stroke="#8a0000" stroke-width="1"/><circle cx="932.8" cy="697.9" r="3.5999999999999996" fill="#a00000" stroke="#8a0000" stroke-width="1"/><circle cx="900.2" cy="694.1" r="3.5999999999999996" fill="#ff0000" stroke="#ff0000" stroke-width="1"/><circle cx="932.8" cy="699.2" r="3.5999999999999996" fill="#ff0000" stroke="#ff0000" stroke-width="1"/><circle cx="900.2" cy="691.3" r="3.5999999999999996" fill="#ff8888" stroke="#ff7272" stroke-width="1"/><circle cx="932.8" cy="691.3" r="3.5999999999999996" fill="#ff8888" stroke="#ff7272" stroke-width="1"/></g>
<g><text x="1224.3" y="424.3" font-size="26.3" font-weight="bold" text-anchor="middle">sIPV-sIPV-tOPV</text><text x="1037.3" y="728.4" font-size="20" font-weight="bold" text-anchor="middle">3</text><text x="1069.9" y="728.4" font-size="20" font-weight="bold" text-anchor="middle">4</text><text x="1102.5" y="728.4" font-size="20" font-weight="bold" text-anchor="middle">5</text><text x="1135.2" y="728.4" font-size="20" font-weight="bold" text-anchor="middle">6</text><text x="1167.8" y="728.4" font-size="20" font-weight="bold" text-anchor="middle">7</text><text x="1200.4" y="728.4" font-size="20" font-weight="bold" text-anchor="middle">8</text><text x="1233" y="728.4" font-size="20" font-weight="bold" text-anchor="middle">9</text><text x="1265.6" y="728.4" font-size="20" font-weight="bold" text-anchor="middle">10</text><text x="1298.3" y="728.4" font-size="20" font-weight="bold" text-anchor="middle">11</text><text x="1330.9" y="728.4" font-size="20" font-weight="bold" text-anchor="middle">12</text><text x="1363.5" y="728.4" font-size="20" font-weight="bold" text-anchor="middle">13</text><text x="1396.1" y="728.4" font-size="20" font-weight="bold" text-anchor="middle">14</text><text x="1216.7" y="766.1" font-size="22.3" font-weight="bold" text-anchor="middle">log<tspan font-size="16.5" dy="5.8">2</tspan><tspan dy="-5.8"> titre</tspan></text><polyline points="1037.3,446.5 1069.9,447.8 1102.5,451.3 1135.2,454.3 1167.8,468 1200.4,495.6 1233,537.3 1265.6,587.4 1298.3,653.6 1330.9,682.7 1363.5,695.4 1396.1,696.6" fill="none" stroke="#8a0000" stroke-width="2.3" stroke-linejoin="round"/><circle cx="1037.3" cy="446.5" r="3.5999999999999996" fill="#a00000" stroke="#8a0000" stroke-width="1"/><circle cx="1069.9" cy="447.8" r="3.5999999999999996" fill="#a00000" stroke="#8a0000" stroke-width="1"/><circle cx="1102.5" cy="451.3" r="3.5999999999999996" fill="#a00000" stroke="#8a0000" stroke-width="1"/><circle cx="1135.2" cy="454.3" r="3.5999999999999996" fill="#a00000" stroke="#8a0000" stroke-width="1"/><circle cx="1167.8" cy="468" r="3.5999999999999996" fill="#a00000" stroke="#8a0000" stroke-width="1"/><circle cx="1200.4" cy="495.6" r="3.5999999999999996" fill="#a00000" stroke="#8a0000" stroke-width="1"/><circle cx="1233" cy="537.3" r="3.5999999999999996" fill="#a00000" stroke="#8a0000" stroke-width="1"/><circle cx="1265.6" cy="587.4" r="3.5999999999999996" fill="#a00000" stroke="#8a0000" stroke-width="1"/><circle cx="1298.3" cy="653.6" r="3.5999999999999996" fill="#a00000" stroke="#8a0000" stroke-width="1"/><circle cx="1330.9" cy="682.7" r="3.5999999999999996" fill="#a00000" stroke="#8a0000" stroke-width="1"/><circle cx="1363.5" cy="695.4" r="3.5999999999999996" fill="#a00000" stroke="#8a0000" stroke-width="1"/><circle cx="1396.1" cy="696.6" r="3.5999999999999996" fill="#a00000" stroke="#8a0000" stroke-width="1"/><polyline points="1037.3,446.5 1069.9,448.5 1102.5,451.8 1135.2,456.6 1167.8,479.1 1200.4,503.4 1233,553 1265.6,606.1 1298.3,668.8 1330.9,690 1363.5,696.1 1396.1,696.6" fill="none" stroke="#ff0000" stroke-width="2.3" stroke-linejoin="round"/><circle cx="1037.3" cy="446.5" r="3.5999999999999996" fill="#ff0000" stroke="#ff0000" stroke-width="1"/><circle cx="1069.9" cy="448.5" r="3.5999999999999996" fill="#ff0000" stroke="#ff0000" stroke-width="1"/><circle cx="1102.5" cy="451.8" r="3.5999999999999996" fill="#ff0000" stroke="#ff0000" stroke-width="1"/><circle cx="1135.2" cy="456.6" r="3.5999999999999996" fill="#ff0000" stroke="#ff0000" stroke-width="1"/><circle cx="1167.8" cy="479.1" r="3.5999999999999996" fill="#ff0000" stroke="#ff0000" stroke-width="1"/><circle cx="1200.4" cy="503.4" r="3.5999999999999996" fill="#ff0000" stroke="#ff0000" stroke-width="1"/><circle cx="1233" cy="553" r="3.5999999999999996" fill="#ff0000" stroke="#ff0000" stroke-width="1"/><circle cx="1265.6" cy="606.1" r="3.5999999999999996" fill="#ff0000" stroke="#ff0000" stroke-width="1"/><circle cx="1298.3" cy="668.8" r="3.5999999999999996" fill="#ff0000" stroke="#ff0000" stroke-width="1"/><circle cx="1330.9" cy="690" r="3.5999999999999996" fill="#ff0000" stroke="#ff0000" stroke-width="1"/><circle cx="1363.5" cy="696.1" r="3.5999999999999996" fill="#ff0000" stroke="#ff0000" stroke-width="1"/><circle cx="1396.1" cy="696.6" r="3.5999999999999996" fill="#ff0000" stroke="#ff0000" stroke-width="1"/><polyline points="1037.3,446.5 1069.9,449.5 1102.5,452.3 1135.2,457.1 1167.8,471.3 1200.4,496.1 1233,539.6 1265.6,621 1298.3,660.7 1330.9,692.3 1363.5,694.6 1396.1,694.6" fill="none" stroke="#ff7272" stroke-width="2.2" stroke-linejoin="round"/><circle cx="1037.3" cy="446.5" r="3.5999999999999996" fill="#ff8888" stroke="#ff7272" stroke-width="1"/><circle cx="1069.9" cy="449.5" r="3.5999999999999996" fill="#ff8888" stroke="#ff7272" stroke-width="1"/><circle cx="1102.5" cy="452.3" r="3.5999999999999996" fill="#ff8888" stroke="#ff7272" stroke-width="1"/><circle cx="1135.2" cy="457.1" r="3.5999999999999996" fill="#ff8888" stroke="#ff7272" stroke-width="1"/><circle cx="1167.8" cy="471.3" r="3.5999999999999996" fill="#ff8888" stroke="#ff7272" stroke-width="1"/><circle cx="1200.4" cy="496.1" r="3.5999999999999996" fill="#ff8888" stroke="#ff7272" stroke-width="1"/><circle cx="1233" cy="539.6" r="3.5999999999999996" fill="#ff8888" stroke="#ff7272" stroke-width="1"/><circle cx="1265.6" cy="621" r="3.5999999999999996" fill="#ff8888" stroke="#ff7272" stroke-width="1"/><circle cx="1298.3" cy="660.7" r="3.5999999999999996" fill="#ff8888" stroke="#ff7272" stroke-width="1"/><circle cx="1330.9" cy="692.3" r="3.5999999999999996" fill="#ff8888" stroke="#ff7272" stroke-width="1"/><circle cx="1363.5" cy="694.6" r="3.5999999999999996" fill="#ff8888" stroke="#ff7272" stroke-width="1"/><circle cx="1396.1" cy="694.6" r="3.5999999999999996" fill="#ff8888" stroke="#ff7272" stroke-width="1"/><polyline points="1037.3,446.5 1069.9,446.5 1102.5,446.5 1135.2,446.5 1167.8,446.5 1200.4,451.8 1233,456.6 1265.6,468.8 1298.3,491 1330.9,535.3 1363.5,601.5 1396.1,655.6" fill="none" stroke="#8a5000" stroke-width="2.2" stroke-linejoin="round"/><circle cx="1037.3" cy="446.5" r="3.8499999999999996" fill="#9a6622" stroke="#8a5000" stroke-width="1"/><circle cx="1069.9" cy="446.5" r="3.8499999999999996" fill="#9a6622" stroke="#8a5000" stroke-width="1"/><circle cx="1102.5" cy="446.5" r="3.8499999999999996" fill="#9a6622" stroke="#8a5000" stroke-width="1"/><circle cx="1135.2" cy="446.5" r="3.8499999999999996" fill="#9a6622" stroke="#8a5000" stroke-width="1"/><circle cx="1167.8" cy="446.5" r="3.8499999999999996" fill="#9a6622" stroke="#8a5000" stroke-width="1"/><circle cx="1200.4" cy="451.8" r="3.8499999999999996" fill="#9a6622" stroke="#8a5000" stroke-width="1"/><circle cx="1233" cy="456.6" r="3.8499999999999996" fill="#9a6622" stroke="#8a5000" stroke-width="1"/><circle cx="1265.6" cy="468.8" r="3.8499999999999996" fill="#9a6622" stroke="#8a5000" stroke-width="1"/><circle cx="1298.3" cy="491" r="3.8499999999999996" fill="#9a6622" stroke="#8a5000" stroke-width="1"/><circle cx="1330.9" cy="535.3" r="3.8499999999999996" fill="#9a6622" stroke="#8a5000" stroke-width="1"/><circle cx="1363.5" cy="601.5" r="3.8499999999999996" fill="#9a6622" stroke="#8a5000" stroke-width="1"/><circle cx="1396.1" cy="655.6" r="3.8499999999999996" fill="#9a6622" stroke="#8a5000" stroke-width="1"/><path d="M1015.8 445.9V699.9M1008.3 699.9H1418.6M1008.3 445.9H1015.8M1008.3 509.4H1015.8M1008.3 572.9H1015.8M1008.3 636.4H1015.8M1037.3 699.9V707.4M1069.9 699.9V707.4M1102.5 699.9V707.4M1135.2 699.9V707.4M1167.8 699.9V707.4M1200.4 699.9V707.4M1233 699.9V707.4M1265.6 699.9V707.4M1298.3 699.9V707.4M1330.9 699.9V707.4M1363.5 699.9V707.4M1396.1 699.9V707.4" stroke="#000" stroke-width="2.8" fill="none"/><circle cx="1363.5" cy="695.4" r="3.5999999999999996" fill="#a00000" stroke="#8a0000" stroke-width="1"/><circle cx="1396.1" cy="696.6" r="3.5999999999999996" fill="#a00000" stroke="#8a0000" stroke-width="1"/><circle cx="1330.9" cy="690" r="3.5999999999999996" fill="#ff0000" stroke="#ff0000" stroke-width="1"/><circle cx="1363.5" cy="696.1" r="3.5999999999999996" fill="#ff0000" stroke="#ff0000" stroke-width="1"/><circle cx="1396.1" cy="696.6" r="3.5999999999999996" fill="#ff0000" stroke="#ff0000" stroke-width="1"/><circle cx="1330.9" cy="692.3" r="3.5999999999999996" fill="#ff8888" stroke="#ff7272" stroke-width="1"/><circle cx="1363.5" cy="694.6" r="3.5999999999999996" fill="#ff8888" stroke="#ff7272" stroke-width="1"/><circle cx="1396.1" cy="694.6" r="3.5999999999999996" fill="#ff8888" stroke="#ff7272" stroke-width="1"/></g>
<g><text x="281.2" y="917.8" font-size="26.3" font-weight="bold" text-anchor="middle">cIPV-bOPV-bOPV</text><text x="62.7" y="939.4" font-size="20" font-weight="bold" text-anchor="end">100</text><text x="62.7" y="1003.1" font-size="20" font-weight="bold" text-anchor="end">75</text><text x="62.7" y="1066.8" font-size="20" font-weight="bold" text-anchor="end">50</text><text x="62.7" y="1130.6" font-size="20" font-weight="bold" text-anchor="end">25</text><text x="62.7" y="1194.3" font-size="20" font-weight="bold" text-anchor="end">0</text><text transform="translate(19 1060.1) rotate(-90)" font-size="22.6" font-weight="bold" text-anchor="middle">Proportion of patients(%)</text><polyline points="94.9,953.8 127.5,1003 160.1,1066.8 192.8,1106.1 225.4,1145.9 258,1169.3 290.6,1186.3 323.2,1186.3 355.9,1186.3 388.5,1186.8 421.1,1186.8 453.7,1186.8" fill="none" stroke="#0000ff" stroke-width="2.5" stroke-linejoin="round"/><circle cx="94.9" cy="953.8" r="3.5999999999999996" fill="#0000ff" stroke="#0000ff" stroke-width="1"/><circle cx="127.5" cy="1003" r="3.5999999999999996" fill="#0000ff" stroke="#0000ff" stroke-width="1"/><circle cx="160.1" cy="1066.8" r="3.5999999999999996" fill="#0000ff" stroke="#0000ff" stroke-width="1"/><circle cx="192.8" cy="1106.1" r="3.5999999999999996" fill="#0000ff" stroke="#0000ff" stroke-width="1"/><circle cx="225.4" cy="1145.9" r="3.5999999999999996" fill="#0000ff" stroke="#0000ff" stroke-width="1"/><circle cx="258" cy="1169.3" r="3.5999999999999996" fill="#0000ff" stroke="#0000ff" stroke-width="1"/><circle cx="290.6" cy="1186.3" r="3.5999999999999996" fill="#0000ff" stroke="#0000ff" stroke-width="1"/><circle cx="323.2" cy="1186.3" r="3.5999999999999996" fill="#0000ff" stroke="#0000ff" stroke-width="1"/><circle cx="355.9" cy="1186.3" r="3.5999999999999996" fill="#0000ff" stroke="#0000ff" stroke-width="1"/><circle cx="388.5" cy="1186.8" r="3.5999999999999996" fill="#0000ff" stroke="#0000ff" stroke-width="1"/><circle cx="421.1" cy="1186.8" r="3.5999999999999996" fill="#0000ff" stroke="#0000ff" stroke-width="1"/><circle cx="453.7" cy="1186.8" r="3.5999999999999996" fill="#0000ff" stroke="#0000ff" stroke-width="1"/><polyline points="94.9,963.7 127.5,1009.9 160.1,1055.3 192.8,1092.6 225.4,1143.4 258,1168 290.6,1183.5 323.2,1185 355.9,1186.3 388.5,1186.8 421.1,1186.8 453.7,1186.8" fill="none" stroke="#006e78" stroke-width="2.4" stroke-linejoin="round"/><circle cx="94.9" cy="963.7" r="3.5999999999999996" fill="#0a8595" stroke="#006e78" stroke-width="1"/><circle cx="127.5" cy="1009.9" r="3.5999999999999996" fill="#0a8595" stroke="#006e78" stroke-width="1"/><circle cx="160.1" cy="1055.3" r="3.5999999999999996" fill="#0a8595" stroke="#006e78" stroke-width="1"/><circle cx="192.8" cy="1092.6" r="3.5999999999999996" fill="#0a8595" stroke="#006e78" stroke-width="1"/><circle cx="225.4" cy="1143.4" r="3.5999999999999996" fill="#0a8595" stroke="#006e78" stroke-width="1"/><circle cx="258" cy="1168" r="3.5999999999999996" fill="#0a8595" stroke="#006e78" stroke-width="1"/><circle cx="290.6" cy="1183.5" r="3.5999999999999996" fill="#0a8595" stroke="#006e78" stroke-width="1"/><circle cx="323.2" cy="1185" r="3.5999999999999996" fill="#0a8595" stroke="#006e78" stroke-width="1"/><circle cx="355.9" cy="1186.3" r="3.5999999999999996" fill="#0a8595" stroke="#006e78" stroke-width="1"/><circle cx="388.5" cy="1186.8" r="3.5999999999999996" fill="#0a8595" stroke="#006e78" stroke-width="1"/><circle cx="421.1" cy="1186.8" r="3.5999999999999996" fill="#0a8595" stroke="#006e78" stroke-width="1"/><circle cx="453.7" cy="1186.8" r="3.5999999999999996" fill="#0a8595" stroke="#006e78" stroke-width="1"/><polyline points="94.9,970.8 127.5,1030 160.1,1085.3 192.8,1136 225.4,1149.7 258,1170 290.6,1179.7 323.2,1183.5 355.9,1186.3 388.5,1186.8 421.1,1186.8 453.7,1186.8" fill="none" stroke="#4a96ff" stroke-width="2.3" stroke-linejoin="round"/><circle cx="94.9" cy="970.8" r="3.5999999999999996" fill="#62a8ff" stroke="#4a96ff" stroke-width="1"/><circle cx="127.5" cy="1030" r="3.5999999999999996" fill="#62a8ff" stroke="#4a96ff" stroke-width="1"/><circle cx="160.1" cy="1085.3" r="3.5999999999999996" fill="#62a8ff" stroke="#4a96ff" stroke-width="1"/><circle cx="192.8" cy="1136" r="3.5999999999999996" fill="#62a8ff" stroke="#4a96ff" stroke-width="1"/><circle cx="225.4" cy="1149.7" r="3.5999999999999996" fill="#62a8ff" stroke="#4a96ff" stroke-width="1"/><circle cx="258" cy="1170" r="3.5999999999999996" fill="#62a8ff" stroke="#4a96ff" stroke-width="1"/><circle cx="290.6" cy="1179.7" r="3.5999999999999996" fill="#62a8ff" stroke="#4a96ff" stroke-width="1"/><circle cx="323.2" cy="1183.5" r="3.5999999999999996" fill="#62a8ff" stroke="#4a96ff" stroke-width="1"/><circle cx="355.9" cy="1186.3" r="3.5999999999999996" fill="#62a8ff" stroke="#4a96ff" stroke-width="1"/><circle cx="388.5" cy="1186.8" r="3.5999999999999996" fill="#62a8ff" stroke="#4a96ff" stroke-width="1"/><circle cx="421.1" cy="1186.8" r="3.5999999999999996" fill="#62a8ff" stroke="#4a96ff" stroke-width="1"/><circle cx="453.7" cy="1186.8" r="3.5999999999999996" fill="#62a8ff" stroke="#4a96ff" stroke-width="1"/><polyline points="94.9,940.1 127.5,1031.2 160.1,1092.1 192.8,1122.6 225.4,1152.3 258,1163.2 290.6,1169.8 323.2,1180.2 355.9,1183 388.5,1186.8 421.1,1186.8 453.7,1186.8" fill="none" stroke="#2a0038" stroke-width="2.5" stroke-linejoin="round"/><circle cx="94.9" cy="940.1" r="3.8499999999999996" fill="#45005f" stroke="#2a0038" stroke-width="1"/><circle cx="127.5" cy="1031.2" r="3.8499999999999996" fill="#45005f" stroke="#2a0038" stroke-width="1"/><circle cx="160.1" cy="1092.1" r="3.8499999999999996" fill="#45005f" stroke="#2a0038" stroke-width="1"/><circle cx="192.8" cy="1122.6" r="3.8499999999999996" fill="#45005f" stroke="#2a0038" stroke-width="1"/><circle cx="225.4" cy="1152.3" r="3.8499999999999996" fill="#45005f" stroke="#2a0038" stroke-width="1"/><circle cx="258" cy="1163.2" r="3.8499999999999996" fill="#45005f" stroke="#2a0038" stroke-width="1"/><circle cx="290.6" cy="1169.8" r="3.8499999999999996" fill="#45005f" stroke="#2a0038" stroke-width="1"/><circle cx="323.2" cy="1180.2" r="3.8499999999999996" fill="#45005f" stroke="#2a0038" stroke-width="1"/><circle cx="355.9" cy="1183" r="3.8499999999999996" fill="#45005f" stroke="#2a0038" stroke-width="1"/><circle cx="388.5" cy="1186.8" r="3.8499999999999996" fill="#45005f" stroke="#2a0038" stroke-width="1"/><circle cx="421.1" cy="1186.8" r="3.8499999999999996" fill="#45005f" stroke="#2a0038" stroke-width="1"/><circle cx="453.7" cy="1186.8" r="3.8499999999999996" fill="#45005f" stroke="#2a0038" stroke-width="1"/><path d="M73.4 932.4V1187.3M65.9 1187.3H476.2M65.9 932.4H73.4M65.9 996.1H73.4M65.9 1059.8H73.4M65.9 1123.6H73.4M94.9 1187.3V1194.8M127.5 1187.3V1194.8M160.1 1187.3V1194.8M192.8 1187.3V1194.8M225.4 1187.3V1194.8M258 1187.3V1194.8M290.6 1187.3V1194.8M323.2 1187.3V1194.8M355.9 1187.3V1194.8M388.5 1187.3V1194.8M421.1 1187.3V1194.8M453.7 1187.3V1194.8" stroke="#000" stroke-width="2.8" fill="none"/><circle cx="290.6" cy="1186.3" r="3.5999999999999996" fill="#0000ff" stroke="#0000ff" stroke-width="1"/><circle cx="323.2" cy="1186.3" r="3.5999999999999996" fill="#0000ff" stroke="#0000ff" stroke-width="1"/><circle cx="355.9" cy="1186.3" r="3.5999999999999996" fill="#0000ff" stroke="#0000ff" stroke-width="1"/><circle cx="388.5" cy="1186.8" r="3.5999999999999996" fill="#0000ff" stroke="#0000ff" stroke-width="1"/><circle cx="421.1" cy="1186.8" r="3.5999999999999996" fill="#0000ff" stroke="#0000ff" stroke-width="1"/><circle cx="453.7" cy="1186.8" r="3.5999999999999996" fill="#0000ff" stroke="#0000ff" stroke-width="1"/><circle cx="290.6" cy="1183.5" r="3.5999999999999996" fill="#0a8595" stroke="#006e78" stroke-width="1"/><circle cx="323.2" cy="1185" r="3.5999999999999996" fill="#0a8595" stroke="#006e78" stroke-width="1"/><circle cx="355.9" cy="1186.3" r="3.5999999999999996" fill="#0a8595" stroke="#006e78" stroke-width="1"/><circle cx="388.5" cy="1186.8" r="3.5999999999999996" fill="#0a8595" stroke="#006e78" stroke-width="1"/><circle cx="421.1" cy="1186.8" r="3.5999999999999996" fill="#0a8595" stroke="#006e78" stroke-width="1"/><circle cx="453.7" cy="1186.8" r="3.5999999999999996" fill="#0a8595" stroke="#006e78" stroke-width="1"/><circle cx="290.6" cy="1179.7" r="3.5999999999999996" fill="#62a8ff" stroke="#4a96ff" stroke-width="1"/><circle cx="323.2" cy="1183.5" r="3.5999999999999996" fill="#62a8ff" stroke="#4a96ff" stroke-width="1"/><circle cx="355.9" cy="1186.3" r="3.5999999999999996" fill="#62a8ff" stroke="#4a96ff" stroke-width="1"/><circle cx="388.5" cy="1186.8" r="3.5999999999999996" fill="#62a8ff" stroke="#4a96ff" stroke-width="1"/><circle cx="421.1" cy="1186.8" r="3.5999999999999996" fill="#62a8ff" stroke="#4a96ff" stroke-width="1"/><circle cx="453.7" cy="1186.8" r="3.5999999999999996" fill="#62a8ff" stroke="#4a96ff" stroke-width="1"/><circle cx="323.2" cy="1180.2" r="3.8499999999999996" fill="#45005f" stroke="#2a0038" stroke-width="1"/><circle cx="355.9" cy="1183" r="3.8499999999999996" fill="#45005f" stroke="#2a0038" stroke-width="1"/><circle cx="388.5" cy="1186.8" r="3.8499999999999996" fill="#45005f" stroke="#2a0038" stroke-width="1"/><circle cx="421.1" cy="1186.8" r="3.8499999999999996" fill="#45005f" stroke="#2a0038" stroke-width="1"/><circle cx="453.7" cy="1186.8" r="3.8499999999999996" fill="#45005f" stroke="#2a0038" stroke-width="1"/></g>
<g><text x="761.1" y="919.2" font-size="26.3" font-weight="bold" text-anchor="middle">cIPV-cIPV-bOPV</text><polyline points="573.6,940.3 606.2,974.8 638.8,1030.1 671.5,1107.2 704.1,1139.4 736.7,1161.4 769.3,1185 801.9,1187.5 834.6,1187.5 867.2,1187.8 899.8,1187.8 932.4,1187.8" fill="none" stroke="#0000ff" stroke-width="2.5" stroke-linejoin="round"/><circle cx="573.6" cy="940.3" r="3.5999999999999996" fill="#0000ff" stroke="#0000ff" stroke-width="1"/><circle cx="606.2" cy="974.8" r="3.5999999999999996" fill="#0000ff" stroke="#0000ff" stroke-width="1"/><circle cx="638.8" cy="1030.1" r="3.5999999999999996" fill="#0000ff" stroke="#0000ff" stroke-width="1"/><circle cx="671.5" cy="1107.2" r="3.5999999999999996" fill="#0000ff" stroke="#0000ff" stroke-width="1"/><circle cx="704.1" cy="1139.4" r="3.5999999999999996" fill="#0000ff" stroke="#0000ff" stroke-width="1"/><circle cx="736.7" cy="1161.4" r="3.5999999999999996" fill="#0000ff" stroke="#0000ff" stroke-width="1"/><circle cx="769.3" cy="1185" r="3.5999999999999996" fill="#0000ff" stroke="#0000ff" stroke-width="1"/><circle cx="801.9" cy="1187.5" r="3.5999999999999996" fill="#0000ff" stroke="#0000ff" stroke-width="1"/><circle cx="834.6" cy="1187.5" r="3.5999999999999996" fill="#0000ff" stroke="#0000ff" stroke-width="1"/><circle cx="867.2" cy="1187.8" r="3.5999999999999996" fill="#0000ff" stroke="#0000ff" stroke-width="1"/><circle cx="899.8" cy="1187.8" r="3.5999999999999996" fill="#0000ff" stroke="#0000ff" stroke-width="1"/><circle cx="932.4" cy="1187.8" r="3.5999999999999996" fill="#0000ff" stroke="#0000ff" stroke-width="1"/><polyline points="573.6,951.4 606.2,994.8 638.8,1020.9 671.5,1081.3 704.1,1132.8 736.7,1167.5 769.3,1182.2 801.9,1185 834.6,1186.8 867.2,1187.8 899.8,1187.8 932.4,1187.8" fill="none" stroke="#006e78" stroke-width="2.4" stroke-linejoin="round"/><circle cx="573.6" cy="951.4" r="3.5999999999999996" fill="#0a8595" stroke="#006e78" stroke-width="1"/><circle cx="606.2" cy="994.8" r="3.5999999999999996" fill="#0a8595" stroke="#006e78" stroke-width="1"/><circle cx="638.8" cy="1020.9" r="3.5999999999999996" fill="#0a8595" stroke="#006e78" stroke-width="1"/><circle cx="671.5" cy="1081.3" r="3.5999999999999996" fill="#0a8595" stroke="#006e78" stroke-width="1"/><circle cx="704.1" cy="1132.8" r="3.5999999999999996" fill="#0a8595" stroke="#006e78" stroke-width="1"/><circle cx="736.7" cy="1167.5" r="3.5999999999999996" fill="#0a8595" stroke="#006e78" stroke-width="1"/><circle cx="769.3" cy="1182.2" r="3.5999999999999996" fill="#0a8595" stroke="#006e78" stroke-width="1"/><circle cx="801.9" cy="1185" r="3.5999999999999996" fill="#0a8595" stroke="#006e78" stroke-width="1"/><circle cx="834.6" cy="1186.8" r="3.5999999999999996" fill="#0a8595" stroke="#006e78" stroke-width="1"/><circle cx="867.2" cy="1187.8" r="3.5999999999999996" fill="#0a8595" stroke="#006e78" stroke-width="1"/><circle cx="899.8" cy="1187.8" r="3.5999999999999996" fill="#0a8595" stroke="#006e78" stroke-width="1"/><circle cx="932.4" cy="1187.8" r="3.5999999999999996" fill="#0a8595" stroke="#006e78" stroke-width="1"/><polyline points="573.6,957.5 606.2,1006.5 638.8,1058.7 671.5,1119.1 704.1,1158.9 736.7,1179.2 769.3,1185 801.9,1186.3 834.6,1187.5 867.2,1187.8 899.8,1187.8 932.4,1187.8" fill="none" stroke="#4a96ff" stroke-width="2.3" stroke-linejoin="round"/><circle cx="573.6" cy="957.5" r="3.5999999999999996" fill="#62a8ff" stroke="#4a96ff" stroke-width="1"/><circle cx="606.2" cy="1006.5" r="3.5999999999999996" fill="#62a8ff" stroke="#4a96ff" stroke-width="1"/><circle cx="638.8" cy="1058.7" r="3.5999999999999996" fill="#62a8ff" stroke="#4a96ff" stroke-width="1"/><circle cx="671.5" cy="1119.1" r="3.5999999999999996" fill="#62a8ff" stroke="#4a96ff" stroke-width="1"/><circle cx="704.1" cy="1158.9" r="3.5999999999999996" fill="#62a8ff" stroke="#4a96ff" stroke-width="1"/><circle cx="736.7" cy="1179.2" r="3.5999999999999996" fill="#62a8ff" stroke="#4a96ff" stroke-width="1"/><circle cx="769.3" cy="1185" r="3.5999999999999996" fill="#62a8ff" stroke="#4a96ff" stroke-width="1"/><circle cx="801.9" cy="1186.3" r="3.5999999999999996" fill="#62a8ff" stroke="#4a96ff" stroke-width="1"/><circle cx="834.6" cy="1187.5" r="3.5999999999999996" fill="#62a8ff" stroke="#4a96ff" stroke-width="1"/><circle cx="867.2" cy="1187.8" r="3.5999999999999996" fill="#62a8ff" stroke="#4a96ff" stroke-width="1"/><circle cx="899.8" cy="1187.8" r="3.5999999999999996" fill="#62a8ff" stroke="#4a96ff" stroke-width="1"/><circle cx="932.4" cy="1187.8" r="3.5999999999999996" fill="#62a8ff" stroke="#4a96ff" stroke-width="1"/><polyline points="573.6,934.2 606.2,952 638.8,980.6 671.5,1047.1 704.1,1119.1 736.7,1150.3 769.3,1176.4 801.9,1179.2 834.6,1185 867.2,1187.8 899.8,1187.8 932.4,1187.8" fill="none" stroke="#2a0038" stroke-width="2.5" stroke-linejoin="round"/><circle cx="573.6" cy="934.2" r="3.8499999999999996" fill="#45005f" stroke="#2a0038" stroke-width="1"/><circle cx="606.2" cy="952" r="3.8499999999999996" fill="#45005f" stroke="#2a0038" stroke-width="1"/><circle cx="638.8" cy="980.6" r="3.8499999999999996" fill="#45005f" stroke="#2a0038" stroke-width="1"/><circle cx="671.5" cy="1047.1" r="3.8499999999999996" fill="#45005f" stroke="#2a0038" stroke-width="1"/><circle cx="704.1" cy="1119.1" r="3.8499999999999996" fill="#45005f" stroke="#2a0038" stroke-width="1"/><circle cx="736.7" cy="1150.3" r="3.8499999999999996" fill="#45005f" stroke="#2a0038" stroke-width="1"/><circle cx="769.3" cy="1176.4" r="3.8499999999999996" fill="#45005f" stroke="#2a0038" stroke-width="1"/><circle cx="801.9" cy="1179.2" r="3.8499999999999996" fill="#45005f" stroke="#2a0038" stroke-width="1"/><circle cx="834.6" cy="1185" r="3.8499999999999996" fill="#45005f" stroke="#2a0038" stroke-width="1"/><circle cx="867.2" cy="1187.8" r="3.8499999999999996" fill="#45005f" stroke="#2a0038" stroke-width="1"/><circle cx="899.8" cy="1187.8" r="3.8499999999999996" fill="#45005f" stroke="#2a0038" stroke-width="1"/><circle cx="932.4" cy="1187.8" r="3.8499999999999996" fill="#45005f" stroke="#2a0038" stroke-width="1"/><path d="M552.1 933.6V1188.3M544.6 1188.3H954.9M544.6 933.6H552.1M544.6 997.3H552.1M544.6 1061H552.1M544.6 1124.6H552.1M573.6 1188.3V1195.8M606.2 1188.3V1195.8M638.8 1188.3V1195.8M671.5 1188.3V1195.8M704.1 1188.3V1195.8M736.7 1188.3V1195.8M769.3 1188.3V1195.8M801.9 1188.3V1195.8M834.6 1188.3V1195.8M867.2 1188.3V1195.8M899.8 1188.3V1195.8M932.4 1188.3V1195.8" stroke="#000" stroke-width="2.8" fill="none"/><circle cx="769.3" cy="1185" r="3.5999999999999996" fill="#0000ff" stroke="#0000ff" stroke-width="1"/><circle cx="801.9" cy="1187.5" r="3.5999999999999996" fill="#0000ff" stroke="#0000ff" stroke-width="1"/><circle cx="834.6" cy="1187.5" r="3.5999999999999996" fill="#0000ff" stroke="#0000ff" stroke-width="1"/><circle cx="867.2" cy="1187.8" r="3.5999999999999996" fill="#0000ff" stroke="#0000ff" stroke-width="1"/><circle cx="899.8" cy="1187.8" r="3.5999999999999996" fill="#0000ff" stroke="#0000ff" stroke-width="1"/><circle cx="932.4" cy="1187.8" r="3.5999999999999996" fill="#0000ff" stroke="#0000ff" stroke-width="1"/><circle cx="769.3" cy="1182.2" r="3.5999999999999996" fill="#0a8595" stroke="#006e78" stroke-width="1"/><circle cx="801.9" cy="1185" r="3.5999999999999996" fill="#0a8595" stroke="#006e78" stroke-width="1"/><circle cx="834.6" cy="1186.8" r="3.5999999999999996" fill="#0a8595" stroke="#006e78" stroke-width="1"/><circle cx="867.2" cy="1187.8" r="3.5999999999999996" fill="#0a8595" stroke="#006e78" stroke-width="1"/><circle cx="899.8" cy="1187.8" r="3.5999999999999996" fill="#0a8595" stroke="#006e78" stroke-width="1"/><circle cx="932.4" cy="1187.8" r="3.5999999999999996" fill="#0a8595" stroke="#006e78" stroke-width="1"/><circle cx="736.7" cy="1179.2" r="3.5999999999999996" fill="#62a8ff" stroke="#4a96ff" stroke-width="1"/><circle cx="769.3" cy="1185" r="3.5999999999999996" fill="#62a8ff" stroke="#4a96ff" stroke-width="1"/><circle cx="801.9" cy="1186.3" r="3.5999999999999996" fill="#62a8ff" stroke="#4a96ff" stroke-width="1"/><circle cx="834.6" cy="1187.5" r="3.5999999999999996" fill="#62a8ff" stroke="#4a96ff" stroke-width="1"/><circle cx="867.2" cy="1187.8" r="3.5999999999999996" fill="#62a8ff" stroke="#4a96ff" stroke-width="1"/><circle cx="899.8" cy="1187.8" r="3.5999999999999996" fill="#62a8ff" stroke="#4a96ff" stroke-width="1"/><circle cx="932.4" cy="1187.8" r="3.5999999999999996" fill="#62a8ff" stroke="#4a96ff" stroke-width="1"/><circle cx="801.9" cy="1179.2" r="3.8499999999999996" fill="#45005f" stroke="#2a0038" stroke-width="1"/><circle cx="834.6" cy="1185" r="3.8499999999999996" fill="#45005f" stroke="#2a0038" stroke-width="1"/><circle cx="867.2" cy="1187.8" r="3.8499999999999996" fill="#45005f" stroke="#2a0038" stroke-width="1"/><circle cx="899.8" cy="1187.8" r="3.8499999999999996" fill="#45005f" stroke="#2a0038" stroke-width="1"/><circle cx="932.4" cy="1187.8" r="3.8499999999999996" fill="#45005f" stroke="#2a0038" stroke-width="1"/></g>
<g><text x="1223.1" y="917.3" font-size="26.3" font-weight="bold" text-anchor="middle">cIPV-cIPV-tOPV</text><polyline points="1035.3,933.6 1067.9,934.9 1100.5,938.4 1133.2,953.1 1165.8,976.7 1198.4,1033.3 1231,1098.2 1263.6,1149.7 1296.3,1181.1 1328.9,1184.9 1361.5,1185.7 1394.1,1185.7" fill="none" stroke="#0000ff" stroke-width="2.5" stroke-linejoin="round"/><circle cx="1035.3" cy="933.6" r="3.5999999999999996" fill="#0000ff" stroke="#0000ff" stroke-width="1"/><circle cx="1067.9" cy="934.9" r="3.5999999999999996" fill="#0000ff" stroke="#0000ff" stroke-width="1"/><circle cx="1100.5" cy="938.4" r="3.5999999999999996" fill="#0000ff" stroke="#0000ff" stroke-width="1"/><circle cx="1133.2" cy="953.1" r="3.5999999999999996" fill="#0000ff" stroke="#0000ff" stroke-width="1"/><circle cx="1165.8" cy="976.7" r="3.5999999999999996" fill="#0000ff" stroke="#0000ff" stroke-width="1"/><circle cx="1198.4" cy="1033.3" r="3.5999999999999996" fill="#0000ff" stroke="#0000ff" stroke-width="1"/><circle cx="1231" cy="1098.2" r="3.5999999999999996" fill="#0000ff" stroke="#0000ff" stroke-width="1"/><circle cx="1263.6" cy="1149.7" r="3.5999999999999996" fill="#0000ff" stroke="#0000ff" stroke-width="1"/><circle cx="1296.3" cy="1181.1" r="3.5999999999999996" fill="#0000ff" stroke="#0000ff" stroke-width="1"/><circle cx="1328.9" cy="1184.9" r="3.5999999999999996" fill="#0000ff" stroke="#0000ff" stroke-width="1"/><circle cx="1361.5" cy="1185.7" r="3.5999999999999996" fill="#0000ff" stroke="#0000ff" stroke-width="1"/><circle cx="1394.1" cy="1185.7" r="3.5999999999999996" fill="#0000ff" stroke="#0000ff" stroke-width="1"/><polyline points="1035.3,933.6 1067.9,934.9 1100.5,937.7 1133.2,950.6 1165.8,971.4 1198.4,1015.3 1231,1087.3 1263.6,1154.5 1296.3,1175.3 1328.9,1184.9 1361.5,1185.7 1394.1,1185.7" fill="none" stroke="#006e78" stroke-width="2.4" stroke-linejoin="round"/><circle cx="1035.3" cy="933.6" r="3.5999999999999996" fill="#0a8595" stroke="#006e78" stroke-width="1"/><circle cx="1067.9" cy="934.9" r="3.5999999999999996" fill="#0a8595" stroke="#006e78" stroke-width="1"/><circle cx="1100.5" cy="937.7" r="3.5999999999999996" fill="#0a8595" stroke="#006e78" stroke-width="1"/><circle cx="1133.2" cy="950.6" r="3.5999999999999996" fill="#0a8595" stroke="#006e78" stroke-width="1"/><circle cx="1165.8" cy="971.4" r="3.5999999999999996" fill="#0a8595" stroke="#006e78" stroke-width="1"/><circle cx="1198.4" cy="1015.3" r="3.5999999999999996" fill="#0a8595" stroke="#006e78" stroke-width="1"/><circle cx="1231" cy="1087.3" r="3.5999999999999996" fill="#0a8595" stroke="#006e78" stroke-width="1"/><circle cx="1263.6" cy="1154.5" r="3.5999999999999996" fill="#0a8595" stroke="#006e78" stroke-width="1"/><circle cx="1296.3" cy="1175.3" r="3.5999999999999996" fill="#0a8595" stroke="#006e78" stroke-width="1"/><circle cx="1328.9" cy="1184.9" r="3.5999999999999996" fill="#0a8595" stroke="#006e78" stroke-width="1"/><circle cx="1361.5" cy="1185.7" r="3.5999999999999996" fill="#0a8595" stroke="#006e78" stroke-width="1"/><circle cx="1394.1" cy="1185.7" r="3.5999999999999996" fill="#0a8595" stroke="#006e78" stroke-width="1"/><polyline points="1035.3,935.4 1067.9,938.4 1100.5,943.3 1133.2,958.5 1165.8,1012.5 1198.4,1072.1 1231,1144.6 1263.6,1170.5 1296.3,1183.2 1328.9,1184.9 1361.5,1185.7 1394.1,1185.7" fill="none" stroke="#4a96ff" stroke-width="2.3" stroke-linejoin="round"/><circle cx="1035.3" cy="935.4" r="3.5999999999999996" fill="#62a8ff" stroke="#4a96ff" stroke-width="1"/><circle cx="1067.9" cy="938.4" r="3.5999999999999996" fill="#62a8ff" stroke="#4a96ff" stroke-width="1"/><circle cx="1100.5" cy="943.3" r="3.5999999999999996" fill="#62a8ff" stroke="#4a96ff" stroke-width="1"/><circle cx="1133.2" cy="958.5" r="3.5999999999999996" fill="#62a8ff" stroke="#4a96ff" stroke-width="1"/><circle cx="1165.8" cy="1012.5" r="3.5999999999999996" fill="#62a8ff" stroke="#4a96ff" stroke-width="1"/><circle cx="1198.4" cy="1072.1" r="3.5999999999999996" fill="#62a8ff" stroke="#4a96ff" stroke-width="1"/><circle cx="1231" cy="1144.6" r="3.5999999999999996" fill="#62a8ff" stroke="#4a96ff" stroke-width="1"/><circle cx="1263.6" cy="1170.5" r="3.5999999999999996" fill="#62a8ff" stroke="#4a96ff" stroke-width="1"/><circle cx="1296.3" cy="1183.2" r="3.5999999999999996" fill="#62a8ff" stroke="#4a96ff" stroke-width="1"/><circle cx="1328.9" cy="1184.9" r="3.5999999999999996" fill="#62a8ff" stroke="#4a96ff" stroke-width="1"/><circle cx="1361.5" cy="1185.7" r="3.5999999999999996" fill="#62a8ff" stroke="#4a96ff" stroke-width="1"/><circle cx="1394.1" cy="1185.7" r="3.5999999999999996" fill="#62a8ff" stroke="#4a96ff" stroke-width="1"/><polyline points="1035.3,932.1 1067.9,932.1 1100.5,932.1 1133.2,935.4 1165.8,938.2 1198.4,945.8 1231,955.7 1263.6,1012.5 1296.3,1069.8 1328.9,1142.1 1361.5,1185.7 1394.1,1185.7" fill="none" stroke="#2a0038" stroke-width="2.5" stroke-linejoin="round"/><circle cx="1035.3" cy="932.1" r="3.8499999999999996" fill="#45005f" stroke="#2a0038" stroke-width="1"/><circle cx="1067.9" cy="932.1" r="3.8499999999999996" fill="#45005f" stroke="#2a0038" stroke-width="1"/><circle cx="1100.5" cy="932.1" r="3.8499999999999996" fill="#45005f" stroke="#2a0038" stroke-width="1"/><circle cx="1133.2" cy="935.4" r="3.8499999999999996" fill="#45005f" stroke="#2a0038" stroke-width="1"/><circle cx="1165.8" cy="938.2" r="3.8499999999999996" fill="#45005f" stroke="#2a0038" stroke-width="1"/><circle cx="1198.4" cy="945.8" r="3.8499999999999996" fill="#45005f" stroke="#2a0038" stroke-width="1"/><circle cx="1231" cy="955.7" r="3.8499999999999996" fill="#45005f" stroke="#2a0038" stroke-width="1"/><circle cx="1263.6" cy="1012.5" r="3.8499999999999996" fill="#45005f" stroke="#2a0038" stroke-width="1"/><circle cx="1296.3" cy="1069.8" r="3.8499999999999996" fill="#45005f" stroke="#2a0038" stroke-width="1"/><circle cx="1328.9" cy="1142.1" r="3.8499999999999996" fill="#45005f" stroke="#2a0038" stroke-width="1"/><circle cx="1361.5" cy="1185.7" r="3.8499999999999996" fill="#45005f" stroke="#2a0038" stroke-width="1"/><circle cx="1394.1" cy="1185.7" r="3.8499999999999996" fill="#45005f" stroke="#2a0038" stroke-width="1"/><path d="M1013.8 931.5V1186.2M1006.3 1186.2H1416.6M1006.3 931.5H1013.8M1006.3 995.2H1013.8M1006.3 1058.8H1013.8M1006.3 1122.5H1013.8M1035.3 1186.2V1193.7M1067.9 1186.2V1193.7M1100.5 1186.2V1193.7M1133.2 1186.2V1193.7M1165.8 1186.2V1193.7M1198.4 1186.2V1193.7M1231 1186.2V1193.7M1263.6 1186.2V1193.7M1296.3 1186.2V1193.7M1328.9 1186.2V1193.7M1361.5 1186.2V1193.7M1394.1 1186.2V1193.7" stroke="#000" stroke-width="2.8" fill="none"/><circle cx="1296.3" cy="1181.1" r="3.5999999999999996" fill="#0000ff" stroke="#0000ff" stroke-width="1"/><circle cx="1328.9" cy="1184.9" r="3.5999999999999996" fill="#0000ff" stroke="#0000ff" stroke-width="1"/><circle cx="1361.5" cy="1185.7" r="3.5999999999999996" fill="#0000ff" stroke="#0000ff" stroke-width="1"/><circle cx="1394.1" cy="1185.7" r="3.5999999999999996" fill="#0000ff" stroke="#0000ff" stroke-width="1"/><circle cx="1328.9" cy="1184.9" r="3.5999999999999996" fill="#0a8595" stroke="#006e78" stroke-width="1"/><circle cx="1361.5" cy="1185.7" r="3.5999999999999996" fill="#0a8595" stroke="#006e78" stroke-width="1"/><circle cx="1394.1" cy="1185.7" r="3.5999999999999996" fill="#0a8595" stroke="#006e78" stroke-width="1"/><circle cx="1296.3" cy="1183.2" r="3.5999999999999996" fill="#62a8ff" stroke="#4a96ff" stroke-width="1"/><circle cx="1328.9" cy="1184.9" r="3.5999999999999996" fill="#62a8ff" stroke="#4a96ff" stroke-width="1"/><circle cx="1361.5" cy="1185.7" r="3.5999999999999996" fill="#62a8ff" stroke="#4a96ff" stroke-width="1"/><circle cx="1394.1" cy="1185.7" r="3.5999999999999996" fill="#62a8ff" stroke="#4a96ff" stroke-width="1"/><circle cx="1361.5" cy="1185.7" r="3.8499999999999996" fill="#45005f" stroke="#2a0038" stroke-width="1"/><circle cx="1394.1" cy="1185.7" r="3.8499999999999996" fill="#45005f" stroke="#2a0038" stroke-width="1"/></g>
<g><text x="282.4" y="1290.3" font-size="26.3" font-weight="bold" text-anchor="middle">sIPV-bOPV-bOPV</text><text x="64" y="1311.9" font-size="20" font-weight="bold" text-anchor="end">100</text><text x="64" y="1375.6" font-size="20" font-weight="bold" text-anchor="end">75</text><text x="64" y="1439.2" font-size="20" font-weight="bold" text-anchor="end">50</text><text x="64" y="1502.8" font-size="20" font-weight="bold" text-anchor="end">25</text><text x="64" y="1566.5" font-size="20" font-weight="bold" text-anchor="end">0</text><text transform="translate(19 1432.5) rotate(-90)" font-size="22.6" font-weight="bold" text-anchor="middle">Proportion of patients(%)</text><text x="96.2" y="1588" font-size="20" font-weight="bold" text-anchor="middle">3</text><text x="128.8" y="1588" font-size="20" font-weight="bold" text-anchor="middle">4</text><text x="161.4" y="1588" font-size="20" font-weight="bold" text-anchor="middle">5</text><text x="194.1" y="1588" font-size="20" font-weight="bold" text-anchor="middle">6</text><text x="226.7" y="1588" font-size="20" font-weight="bold" text-anchor="middle">7</text><text x="259.3" y="1588" font-size="20" font-weight="bold" text-anchor="middle">8</text><text x="291.9" y="1588" font-size="20" font-weight="bold" text-anchor="middle">9</text><text x="324.5" y="1588" font-size="20" font-weight="bold" text-anchor="middle">10</text><text x="357.2" y="1588" font-size="20" font-weight="bold" text-anchor="middle">11</text><text x="389.8" y="1588" font-size="20" font-weight="bold" text-anchor="middle">12</text><text x="422.4" y="1588" font-size="20" font-weight="bold" text-anchor="middle">13</text><text x="455" y="1588" font-size="20" font-weight="bold" text-anchor="middle">14</text><text x="275.6" y="1625.7" font-size="22.3" font-weight="bold" text-anchor="middle">log<tspan font-size="16.5" dy="5.8">2</tspan><tspan dy="-5.8"> titre</tspan></text><polyline points="96.2,1393 128.8,1449.7 161.4,1512.6 194.1,1524.5 226.7,1541.8 259.3,1552.9 291.9,1558.2 324.5,1559 357.2,1559 389.8,1559 422.4,1559 455,1559" fill="none" stroke="#0000ff" stroke-width="2.5" stroke-linejoin="round"/><circle cx="96.2" cy="1393" r="3.5999999999999996" fill="#0000ff" stroke="#0000ff" stroke-width="1"/><circle cx="128.8" cy="1449.7" r="3.5999999999999996" fill="#0000ff" stroke="#0000ff" stroke-width="1"/><circle cx="161.4" cy="1512.6" r="3.5999999999999996" fill="#0000ff" stroke="#0000ff" stroke-width="1"/><circle cx="194.1" cy="1524.5" r="3.5999999999999996" fill="#0000ff" stroke="#0000ff" stroke-width="1"/><circle cx="226.7" cy="1541.8" r="3.5999999999999996" fill="#0000ff" stroke="#0000ff" stroke-width="1"/><circle cx="259.3" cy="1552.9" r="3.5999999999999996" fill="#0000ff" stroke="#0000ff" stroke-width="1"/><circle cx="291.9" cy="1558.2" r="3.5999999999999996" fill="#0000ff" stroke="#0000ff" stroke-width="1"/><circle cx="324.5" cy="1559" r="3.5999999999999996" fill="#0000ff" stroke="#0000ff" stroke-width="1"/><circle cx="357.2" cy="1559" r="3.5999999999999996" fill="#0000ff" stroke="#0000ff" stroke-width="1"/><circle cx="389.8" cy="1559" r="3.5999999999999996" fill="#0000ff" stroke="#0000ff" stroke-width="1"/><circle cx="422.4" cy="1559" r="3.5999999999999996" fill="#0000ff" stroke="#0000ff" stroke-width="1"/><circle cx="455" cy="1559" r="3.5999999999999996" fill="#0000ff" stroke="#0000ff" stroke-width="1"/><polyline points="96.2,1403.4 128.8,1444.2 161.4,1490 194.1,1512.6 226.7,1524.5 259.3,1541.8 291.9,1552.9 324.5,1558.2 357.2,1559 389.8,1559 422.4,1559 455,1559" fill="none" stroke="#006e78" stroke-width="2.4" stroke-linejoin="round"/><circle cx="96.2" cy="1403.4" r="3.5999999999999996" fill="#0a8595" stroke="#006e78" stroke-width="1"/><circle cx="128.8" cy="1444.2" r="3.5999999999999996" fill="#0a8595" stroke="#006e78" stroke-width="1"/><circle cx="161.4" cy="1490" r="3.5999999999999996" fill="#0a8595" stroke="#006e78" stroke-width="1"/><circle cx="194.1" cy="1512.6" r="3.5999999999999996" fill="#0a8595" stroke="#006e78" stroke-width="1"/><circle cx="226.7" cy="1524.5" r="3.5999999999999996" fill="#0a8595" stroke="#006e78" stroke-width="1"/><circle cx="259.3" cy="1541.8" r="3.5999999999999996" fill="#0a8595" stroke="#006e78" stroke-width="1"/><circle cx="291.9" cy="1552.9" r="3.5999999999999996" fill="#0a8595" stroke="#006e78" stroke-width="1"/><circle cx="324.5" cy="1558.2" r="3.5999999999999996" fill="#0a8595" stroke="#006e78" stroke-width="1"/><circle cx="357.2" cy="1559" r="3.5999999999999996" fill="#0a8595" stroke="#006e78" stroke-width="1"/><circle cx="389.8" cy="1559" r="3.5999999999999996" fill="#0a8595" stroke="#006e78" stroke-width="1"/><circle cx="422.4" cy="1559" r="3.5999999999999996" fill="#0a8595" stroke="#006e78" stroke-width="1"/><circle cx="455" cy="1559" r="3.5999999999999996" fill="#0a8595" stroke="#006e78" stroke-width="1"/><polyline points="96.2,1392.2 128.8,1439.9 161.4,1485.5 194.1,1513.4 226.7,1541.8 259.3,1552.9 291.9,1558.2 324.5,1558.2 357.2,1558.2 389.8,1559 422.4,1559 455,1559" fill="none" stroke="#4a96ff" stroke-width="2.3" stroke-linejoin="round"/><circle cx="96.2" cy="1392.2" r="3.5999999999999996" fill="#62a8ff" stroke="#4a96ff" stroke-width="1"/><circle cx="128.8" cy="1439.9" r="3.5999999999999996" fill="#62a8ff" stroke="#4a96ff" stroke-width="1"/><circle cx="161.4" cy="1485.5" r="3.5999999999999996" fill="#62a8ff" stroke="#4a96ff" stroke-width="1"/><circle cx="194.1" cy="1513.4" r="3.5999999999999996" fill="#62a8ff" stroke="#4a96ff" stroke-width="1"/><circle cx="226.7" cy="1541.8" r="3.5999999999999996" fill="#62a8ff" stroke="#4a96ff" stroke-width="1"/><circle cx="259.3" cy="1552.9" r="3.5999999999999996" fill="#62a8ff" stroke="#4a96ff" stroke-width="1"/><circle cx="291.9" cy="1558.2" r="3.5999999999999996" fill="#62a8ff" stroke="#4a96ff" stroke-width="1"/><circle cx="324.5" cy="1558.2" r="3.5999999999999996" fill="#62a8ff" stroke="#4a96ff" stroke-width="1"/><circle cx="357.2" cy="1558.2" r="3.5999999999999996" fill="#62a8ff" stroke="#4a96ff" stroke-width="1"/><circle cx="389.8" cy="1559" r="3.5999999999999996" fill="#62a8ff" stroke="#4a96ff" stroke-width="1"/><circle cx="422.4" cy="1559" r="3.5999999999999996" fill="#62a8ff" stroke="#4a96ff" stroke-width="1"/><circle cx="455" cy="1559" r="3.5999999999999996" fill="#62a8ff" stroke="#4a96ff" stroke-width="1"/><polyline points="96.2,1317.4 128.8,1432.5 161.4,1478.9 194.1,1507.5 226.7,1524.5 259.3,1530.1 291.9,1530.1 324.5,1536.2 357.2,1552.9 389.8,1559 422.4,1559 455,1559" fill="none" stroke="#2a0038" stroke-width="2.5" stroke-linejoin="round"/><circle cx="96.2" cy="1317.4" r="3.8499999999999996" fill="#45005f" stroke="#2a0038" stroke-width="1"/><circle cx="128.8" cy="1432.5" r="3.8499999999999996" fill="#45005f" stroke="#2a0038" stroke-width="1"/><circle cx="161.4" cy="1478.9" r="3.8499999999999996" fill="#45005f" stroke="#2a0038" stroke-width="1"/><circle cx="194.1" cy="1507.5" r="3.8499999999999996" fill="#45005f" stroke="#2a0038" stroke-width="1"/><circle cx="226.7" cy="1524.5" r="3.8499999999999996" fill="#45005f" stroke="#2a0038" stroke-width="1"/><circle cx="259.3" cy="1530.1" r="3.8499999999999996" fill="#45005f" stroke="#2a0038" stroke-width="1"/><circle cx="291.9" cy="1530.1" r="3.8499999999999996" fill="#45005f" stroke="#2a0038" stroke-width="1"/><circle cx="324.5" cy="1536.2" r="3.8499999999999996" fill="#45005f" stroke="#2a0038" stroke-width="1"/><circle cx="357.2" cy="1552.9" r="3.8499999999999996" fill="#45005f" stroke="#2a0038" stroke-width="1"/><circle cx="389.8" cy="1559" r="3.8499999999999996" fill="#45005f" stroke="#2a0038" stroke-width="1"/><circle cx="422.4" cy="1559" r="3.8499999999999996" fill="#45005f" stroke="#2a0038" stroke-width="1"/><circle cx="455" cy="1559" r="3.8499999999999996" fill="#45005f" stroke="#2a0038" stroke-width="1"/><path d="M74.7 1304.9V1559.5M67.2 1559.5H477.5M67.2 1304.9H74.7M67.2 1368.6H74.7M67.2 1432.2H74.7M67.2 1495.8H74.7M96.2 1559.5V1567M128.8 1559.5V1567M161.4 1559.5V1567M194.1 1559.5V1567M226.7 1559.5V1567M259.3 1559.5V1567M291.9 1559.5V1567M324.5 1559.5V1567M357.2 1559.5V1567M389.8 1559.5V1567M422.4 1559.5V1567M455 1559.5V1567" stroke="#000" stroke-width="2.8" fill="none"/><circle cx="259.3" cy="1552.9" r="3.5999999999999996" fill="#0000ff" stroke="#0000ff" stroke-width="1"/><circle cx="291.9" cy="1558.2" r="3.5999999999999996" fill="#0000ff" stroke="#0000ff" stroke-width="1"/><circle cx="324.5" cy="1559" r="3.5999999999999996" fill="#0000ff" stroke="#0000ff" stroke-width="1"/><circle cx="357.2" cy="1559" r="3.5999999999999996" fill="#0000ff" stroke="#0000ff" stroke-width="1"/><circle cx="389.8" cy="1559" r="3.5999999999999996" fill="#0000ff" stroke="#0000ff" stroke-width="1"/><circle cx="422.4" cy="1559" r="3.5999999999999996" fill="#0000ff" stroke="#0000ff" stroke-width="1"/><circle cx="455" cy="1559" r="3.5999999999999996" fill="#0000ff" stroke="#0000ff" stroke-width="1"/><circle cx="291.9" cy="1552.9" r="3.5999999999999996" fill="#0a8595" stroke="#006e78" stroke-width="1"/><circle cx="324.5" cy="1558.2" r="3.5999999999999996" fill="#0a8595" stroke="#006e78" stroke-width="1"/><circle cx="357.2" cy="1559" r="3.5999999999999996" fill="#0a8595" stroke="#006e78" stroke-width="1"/><circle cx="389.8" cy="1559" r="3.5999999999999996" fill="#0a8595" stroke="#006e78" stroke-width="1"/><circle cx="422.4" cy="1559" r="3.5999999999999996" fill="#0a8595" stroke="#006e78" stroke-width="1"/><circle cx="455" cy="1559" r="3.5999999999999996" fill="#0a8595" stroke="#006e78" stroke-width="1"/><circle cx="259.3" cy="1552.9" r="3.5999999999999996" fill="#62a8ff" stroke="#4a96ff" stroke-width="1"/><circle cx="291.9" cy="1558.2" r="3.5999999999999996" fill="#62a8ff" stroke="#4a96ff" stroke-width="1"/><circle cx="324.5" cy="1558.2" r="3.5999999999999996" fill="#62a8ff" stroke="#4a96ff" stroke-width="1"/><circle cx="357.2" cy="1558.2" r="3.5999999999999996" fill="#62a8ff" stroke="#4a96ff" stroke-width="1"/><circle cx="389.8" cy="1559" r="3.5999999999999996" fill="#62a8ff" stroke="#4a96ff" stroke-width="1"/><circle cx="422.4" cy="1559" r="3.5999999999999996" fill="#62a8ff" stroke="#4a96ff" stroke-width="1"/><circle cx="455" cy="1559" r="3.5999999999999996" fill="#62a8ff" stroke="#4a96ff" stroke-width="1"/><circle cx="357.2" cy="1552.9" r="3.8499999999999996" fill="#45005f" stroke="#2a0038" stroke-width="1"/><circle cx="389.8" cy="1559" r="3.8499999999999996" fill="#45005f" stroke="#2a0038" stroke-width="1"/><circle cx="422.4" cy="1559" r="3.8499999999999996" fill="#45005f" stroke="#2a0038" stroke-width="1"/><circle cx="455" cy="1559" r="3.8499999999999996" fill="#45005f" stroke="#2a0038" stroke-width="1"/></g>
<g><text x="760.5" y="1289.3" font-size="26.3" font-weight="bold" text-anchor="middle">sIPV-sIPV-bOPV</text><text x="573" y="1586.6" font-size="20" font-weight="bold" text-anchor="middle">3</text><text x="605.6" y="1586.6" font-size="20" font-weight="bold" text-anchor="middle">4</text><text x="638.2" y="1586.6" font-size="20" font-weight="bold" text-anchor="middle">5</text><text x="670.9" y="1586.6" font-size="20" font-weight="bold" text-anchor="middle">6</text><text x="703.5" y="1586.6" font-size="20" font-weight="bold" text-anchor="middle">7</text><text x="736.1" y="1586.6" font-size="20" font-weight="bold" text-anchor="middle">8</text><text x="768.7" y="1586.6" font-size="20" font-weight="bold" text-anchor="middle">9</text><text x="801.3" y="1586.6" font-size="20" font-weight="bold" text-anchor="middle">10</text><text x="834" y="1586.6" font-size="20" font-weight="bold" text-anchor="middle">11</text><text x="866.6" y="1586.6" font-size="20" font-weight="bold" text-anchor="middle">12</text><text x="899.2" y="1586.6" font-size="20" font-weight="bold" text-anchor="middle">13</text><text x="931.8" y="1586.6" font-size="20" font-weight="bold" text-anchor="middle">14</text><text x="752.4" y="1624.3" font-size="22.3" font-weight="bold" text-anchor="middle">log<tspan font-size="16.5" dy="5.8">2</tspan><tspan dy="-5.8"> titre</tspan></text><polyline points="573,1324.7 605.6,1362.5 638.2,1391.1 670.9,1468.9 703.5,1520.4 736.1,1543.4 768.7,1555.6 801.3,1556.8 834,1556.8 866.6,1557.6 899.2,1557.6 931.8,1557.6" fill="none" stroke="#0000ff" stroke-width="2.5" stroke-linejoin="round"/><circle cx="573" cy="1324.7" r="3.5999999999999996" fill="#0000ff" stroke="#0000ff" stroke-width="1"/><circle cx="605.6" cy="1362.5" r="3.5999999999999996" fill="#0000ff" stroke="#0000ff" stroke-width="1"/><circle cx="638.2" cy="1391.1" r="3.5999999999999996" fill="#0000ff" stroke="#0000ff" stroke-width="1"/><circle cx="670.9" cy="1468.9" r="3.5999999999999996" fill="#0000ff" stroke="#0000ff" stroke-width="1"/><circle cx="703.5" cy="1520.4" r="3.5999999999999996" fill="#0000ff" stroke="#0000ff" stroke-width="1"/><circle cx="736.1" cy="1543.4" r="3.5999999999999996" fill="#0000ff" stroke="#0000ff" stroke-width="1"/><circle cx="768.7" cy="1555.6" r="3.5999999999999996" fill="#0000ff" stroke="#0000ff" stroke-width="1"/><circle cx="801.3" cy="1556.8" r="3.5999999999999996" fill="#0000ff" stroke="#0000ff" stroke-width="1"/><circle cx="834" cy="1556.8" r="3.5999999999999996" fill="#0000ff" stroke="#0000ff" stroke-width="1"/><circle cx="866.6" cy="1557.6" r="3.5999999999999996" fill="#0000ff" stroke="#0000ff" stroke-width="1"/><circle cx="899.2" cy="1557.6" r="3.5999999999999996" fill="#0000ff" stroke="#0000ff" stroke-width="1"/><circle cx="931.8" cy="1557.6" r="3.5999999999999996" fill="#0000ff" stroke="#0000ff" stroke-width="1"/><polyline points="573,1330.6 605.6,1356.4 638.2,1402.5 670.9,1451.4 703.5,1500.1 736.1,1534.8 768.7,1554.3 801.3,1556.1 834,1556.8 866.6,1557.6 899.2,1557.6 931.8,1557.6" fill="none" stroke="#006e78" stroke-width="2.4" stroke-linejoin="round"/><circle cx="573" cy="1330.6" r="3.5999999999999996" fill="#0a8595" stroke="#006e78" stroke-width="1"/><circle cx="605.6" cy="1356.4" r="3.5999999999999996" fill="#0a8595" stroke="#006e78" stroke-width="1"/><circle cx="638.2" cy="1402.5" r="3.5999999999999996" fill="#0a8595" stroke="#006e78" stroke-width="1"/><circle cx="670.9" cy="1451.4" r="3.5999999999999996" fill="#0a8595" stroke="#006e78" stroke-width="1"/><circle cx="703.5" cy="1500.1" r="3.5999999999999996" fill="#0a8595" stroke="#006e78" stroke-width="1"/><circle cx="736.1" cy="1534.8" r="3.5999999999999996" fill="#0a8595" stroke="#006e78" stroke-width="1"/><circle cx="768.7" cy="1554.3" r="3.5999999999999996" fill="#0a8595" stroke="#006e78" stroke-width="1"/><circle cx="801.3" cy="1556.1" r="3.5999999999999996" fill="#0a8595" stroke="#006e78" stroke-width="1"/><circle cx="834" cy="1556.8" r="3.5999999999999996" fill="#0a8595" stroke="#006e78" stroke-width="1"/><circle cx="866.6" cy="1557.6" r="3.5999999999999996" fill="#0a8595" stroke="#006e78" stroke-width="1"/><circle cx="899.2" cy="1557.6" r="3.5999999999999996" fill="#0a8595" stroke="#006e78" stroke-width="1"/><circle cx="931.8" cy="1557.6" r="3.5999999999999996" fill="#0a8595" stroke="#006e78" stroke-width="1"/><polyline points="573,1350.6 605.6,1376.4 638.2,1433.9 670.9,1500.1 703.5,1540.6 736.1,1552.3 768.7,1556.8 801.3,1556.8 834,1557.6 866.6,1557.6 899.2,1557.6 931.8,1557.6" fill="none" stroke="#4a96ff" stroke-width="2.3" stroke-linejoin="round"/><circle cx="573" cy="1350.6" r="3.5999999999999996" fill="#62a8ff" stroke="#4a96ff" stroke-width="1"/><circle cx="605.6" cy="1376.4" r="3.5999999999999996" fill="#62a8ff" stroke="#4a96ff" stroke-width="1"/><circle cx="638.2" cy="1433.9" r="3.5999999999999996" fill="#62a8ff" stroke="#4a96ff" stroke-width="1"/><circle cx="670.9" cy="1500.1" r="3.5999999999999996" fill="#62a8ff" stroke="#4a96ff" stroke-width="1"/><circle cx="703.5" cy="1540.6" r="3.5999999999999996" fill="#62a8ff" stroke="#4a96ff" stroke-width="1"/><circle cx="736.1" cy="1552.3" r="3.5999999999999996" fill="#62a8ff" stroke="#4a96ff" stroke-width="1"/><circle cx="768.7" cy="1556.8" r="3.5999999999999996" fill="#62a8ff" stroke="#4a96ff" stroke-width="1"/><circle cx="801.3" cy="1556.8" r="3.5999999999999996" fill="#62a8ff" stroke="#4a96ff" stroke-width="1"/><circle cx="834" cy="1557.6" r="3.5999999999999996" fill="#62a8ff" stroke="#4a96ff" stroke-width="1"/><circle cx="866.6" cy="1557.6" r="3.5999999999999996" fill="#62a8ff" stroke="#4a96ff" stroke-width="1"/><circle cx="899.2" cy="1557.6" r="3.5999999999999996" fill="#62a8ff" stroke="#4a96ff" stroke-width="1"/><circle cx="931.8" cy="1557.6" r="3.5999999999999996" fill="#62a8ff" stroke="#4a96ff" stroke-width="1"/><polyline points="573,1307.5 605.6,1324.7 638.2,1359.4 670.9,1405.3 703.5,1463.1 736.1,1514.8 768.7,1537.8 801.3,1552.3 834,1555.1 866.6,1557.6 899.2,1557.6 931.8,1557.6" fill="none" stroke="#2a0038" stroke-width="2.5" stroke-linejoin="round"/><circle cx="573" cy="1307.5" r="3.8499999999999996" fill="#45005f" stroke="#2a0038" stroke-width="1"/><circle cx="605.6" cy="1324.7" r="3.8499999999999996" fill="#45005f" stroke="#2a0038" stroke-width="1"/><circle cx="638.2" cy="1359.4" r="3.8499999999999996" fill="#45005f" stroke="#2a0038" stroke-width="1"/><circle cx="670.9" cy="1405.3" r="3.8499999999999996" fill="#45005f" stroke="#2a0038" stroke-width="1"/><circle cx="703.5" cy="1463.1" r="3.8499999999999996" fill="#45005f" stroke="#2a0038" stroke-width="1"/><circle cx="736.1" cy="1514.8" r="3.8499999999999996" fill="#45005f" stroke="#2a0038" stroke-width="1"/><circle cx="768.7" cy="1537.8" r="3.8499999999999996" fill="#45005f" stroke="#2a0038" stroke-width="1"/><circle cx="801.3" cy="1552.3" r="3.8499999999999996" fill="#45005f" stroke="#2a0038" stroke-width="1"/><circle cx="834" cy="1555.1" r="3.8499999999999996" fill="#45005f" stroke="#2a0038" stroke-width="1"/><circle cx="866.6" cy="1557.6" r="3.8499999999999996" fill="#45005f" stroke="#2a0038" stroke-width="1"/><circle cx="899.2" cy="1557.6" r="3.8499999999999996" fill="#45005f" stroke="#2a0038" stroke-width="1"/><circle cx="931.8" cy="1557.6" r="3.8499999999999996" fill="#45005f" stroke="#2a0038" stroke-width="1"/><path d="M551.5 1303.6V1558.1M544 1558.1H954.3M544 1303.6H551.5M544 1367.2H551.5M544 1430.8H551.5M544 1494.5H551.5M573 1558.1V1565.6M605.6 1558.1V1565.6M638.2 1558.1V1565.6M670.9 1558.1V1565.6M703.5 1558.1V1565.6M736.1 1558.1V1565.6M768.7 1558.1V1565.6M801.3 1558.1V1565.6M834 1558.1V1565.6M866.6 1558.1V1565.6M899.2 1558.1V1565.6M931.8 1558.1V1565.6" stroke="#000" stroke-width="2.8" fill="none"/><circle cx="768.7" cy="1555.6" r="3.5999999999999996" fill="#0000ff" stroke="#0000ff" stroke-width="1"/><circle cx="801.3" cy="1556.8" r="3.5999999999999996" fill="#0000ff" stroke="#0000ff" stroke-width="1"/><circle cx="834" cy="1556.8" r="3.5999999999999996" fill="#0000ff" stroke="#0000ff" stroke-width="1"/><circle cx="866.6" cy="1557.6" r="3.5999999999999996" fill="#0000ff" stroke="#0000ff" stroke-width="1"/><circle cx="899.2" cy="1557.6" r="3.5999999999999996" fill="#0000ff" stroke="#0000ff" stroke-width="1"/><circle cx="931.8" cy="1557.6" r="3.5999999999999996" fill="#0000ff" stroke="#0000ff" stroke-width="1"/><circle cx="768.7" cy="1554.3" r="3.5999999999999996" fill="#0a8595" stroke="#006e78" stroke-width="1"/><circle cx="801.3" cy="1556.1" r="3.5999999999999996" fill="#0a8595" stroke="#006e78" stroke-width="1"/><circle cx="834" cy="1556.8" r="3.5999999999999996" fill="#0a8595" stroke="#006e78" stroke-width="1"/><circle cx="866.6" cy="1557.6" r="3.5999999999999996" fill="#0a8595" stroke="#006e78" stroke-width="1"/><circle cx="899.2" cy="1557.6" r="3.5999999999999996" fill="#0a8595" stroke="#006e78" stroke-width="1"/><circle cx="931.8" cy="1557.6" r="3.5999999999999996" fill="#0a8595" stroke="#006e78" stroke-width="1"/><circle cx="736.1" cy="1552.3" r="3.5999999999999996" fill="#62a8ff" stroke="#4a96ff" stroke-width="1"/><circle cx="768.7" cy="1556.8" r="3.5999999999999996" fill="#62a8ff" stroke="#4a96ff" stroke-width="1"/><circle cx="801.3" cy="1556.8" r="3.5999999999999996" fill="#62a8ff" stroke="#4a96ff" stroke-width="1"/><circle cx="834" cy="1557.6" r="3.5999999999999996" fill="#62a8ff" stroke="#4a96ff" stroke-width="1"/><circle cx="866.6" cy="1557.6" r="3.5999999999999996" fill="#62a8ff" stroke="#4a96ff" stroke-width="1"/><circle cx="899.2" cy="1557.6" r="3.5999999999999996" fill="#62a8ff" stroke="#4a96ff" stroke-width="1"/><circle cx="931.8" cy="1557.6" r="3.5999999999999996" fill="#62a8ff" stroke="#4a96ff" stroke-width="1"/><circle cx="801.3" cy="1552.3" r="3.8499999999999996" fill="#45005f" stroke="#2a0038" stroke-width="1"/><circle cx="834" cy="1555.1" r="3.8499999999999996" fill="#45005f" stroke="#2a0038" stroke-width="1"/><circle cx="866.6" cy="1557.6" r="3.8499999999999996" fill="#45005f" stroke="#2a0038" stroke-width="1"/><circle cx="899.2" cy="1557.6" r="3.8499999999999996" fill="#45005f" stroke="#2a0038" stroke-width="1"/><circle cx="931.8" cy="1557.6" r="3.8499999999999996" fill="#45005f" stroke="#2a0038" stroke-width="1"/></g>
<g><text x="1223.4" y="1289.3" font-size="26.3" font-weight="bold" text-anchor="middle">sIPV-sIPV-tOPV</text><text x="1035.7" y="1586.6" font-size="20" font-weight="bold" text-anchor="middle">3</text><text x="1068.3" y="1586.6" font-size="20" font-weight="bold" text-anchor="middle">4</text><text x="1100.9" y="1586.6" font-size="20" font-weight="bold" text-anchor="middle">5</text><text x="1133.6" y="1586.6" font-size="20" font-weight="bold" text-anchor="middle">6</text><text x="1166.2" y="1586.6" font-size="20" font-weight="bold" text-anchor="middle">7</text><text x="1198.8" y="1586.6" font-size="20" font-weight="bold" text-anchor="middle">8</text><text x="1231.4" y="1586.6" font-size="20" font-weight="bold" text-anchor="middle">9</text><text x="1264" y="1586.6" font-size="20" font-weight="bold" text-anchor="middle">10</text><text x="1296.7" y="1586.6" font-size="20" font-weight="bold" text-anchor="middle">11</text><text x="1329.3" y="1586.6" font-size="20" font-weight="bold" text-anchor="middle">12</text><text x="1361.9" y="1586.6" font-size="20" font-weight="bold" text-anchor="middle">13</text><text x="1394.5" y="1586.6" font-size="20" font-weight="bold" text-anchor="middle">14</text><text x="1215.1" y="1624.3" font-size="22.3" font-weight="bold" text-anchor="middle">log<tspan font-size="16.5" dy="5.8">2</tspan><tspan dy="-5.8"> titre</tspan></text><polyline points="1035.7,1304 1068.3,1307.6 1100.9,1307.6 1133.6,1312.1 1166.2,1344.3 1198.8,1410.3 1231.4,1462 1264,1526.2 1296.7,1550 1329.3,1556.1 1361.9,1556.8 1394.5,1557.6" fill="none" stroke="#0000ff" stroke-width="2.5" stroke-linejoin="round"/><circle cx="1035.7" cy="1304" r="3.5999999999999996" fill="#0000ff" stroke="#0000ff" stroke-width="1"/><circle cx="1068.3" cy="1307.6" r="3.5999999999999996" fill="#0000ff" stroke="#0000ff" stroke-width="1"/><circle cx="1100.9" cy="1307.6" r="3.5999999999999996" fill="#0000ff" stroke="#0000ff" stroke-width="1"/><circle cx="1133.6" cy="1312.1" r="3.5999999999999996" fill="#0000ff" stroke="#0000ff" stroke-width="1"/><circle cx="1166.2" cy="1344.3" r="3.5999999999999996" fill="#0000ff" stroke="#0000ff" stroke-width="1"/><circle cx="1198.8" cy="1410.3" r="3.5999999999999996" fill="#0000ff" stroke="#0000ff" stroke-width="1"/><circle cx="1231.4" cy="1462" r="3.5999999999999996" fill="#0000ff" stroke="#0000ff" stroke-width="1"/><circle cx="1264" cy="1526.2" r="3.5999999999999996" fill="#0000ff" stroke="#0000ff" stroke-width="1"/><circle cx="1296.7" cy="1550" r="3.5999999999999996" fill="#0000ff" stroke="#0000ff" stroke-width="1"/><circle cx="1329.3" cy="1556.1" r="3.5999999999999996" fill="#0000ff" stroke="#0000ff" stroke-width="1"/><circle cx="1361.9" cy="1556.8" r="3.5999999999999996" fill="#0000ff" stroke="#0000ff" stroke-width="1"/><circle cx="1394.5" cy="1557.6" r="3.5999999999999996" fill="#0000ff" stroke="#0000ff" stroke-width="1"/><polyline points="1035.7,1304 1068.3,1305.5 1100.9,1305.5 1133.6,1310.3 1166.2,1339 1198.8,1388.2 1231.4,1462 1264,1515.8 1296.7,1540.4 1329.3,1555.1 1361.9,1556.8 1394.5,1557.6" fill="none" stroke="#006e78" stroke-width="2.4" stroke-linejoin="round"/><circle cx="1035.7" cy="1304" r="3.5999999999999996" fill="#0a8595" stroke="#006e78" stroke-width="1"/><circle cx="1068.3" cy="1305.5" r="3.5999999999999996" fill="#0a8595" stroke="#006e78" stroke-width="1"/><circle cx="1100.9" cy="1305.5" r="3.5999999999999996" fill="#0a8595" stroke="#006e78" stroke-width="1"/><circle cx="1133.6" cy="1310.3" r="3.5999999999999996" fill="#0a8595" stroke="#006e78" stroke-width="1"/><circle cx="1166.2" cy="1339" r="3.5999999999999996" fill="#0a8595" stroke="#006e78" stroke-width="1"/><circle cx="1198.8" cy="1388.2" r="3.5999999999999996" fill="#0a8595" stroke="#006e78" stroke-width="1"/><circle cx="1231.4" cy="1462" r="3.5999999999999996" fill="#0a8595" stroke="#006e78" stroke-width="1"/><circle cx="1264" cy="1515.8" r="3.5999999999999996" fill="#0a8595" stroke="#006e78" stroke-width="1"/><circle cx="1296.7" cy="1540.4" r="3.5999999999999996" fill="#0a8595" stroke="#006e78" stroke-width="1"/><circle cx="1329.3" cy="1555.1" r="3.5999999999999996" fill="#0a8595" stroke="#006e78" stroke-width="1"/><circle cx="1361.9" cy="1556.8" r="3.5999999999999996" fill="#0a8595" stroke="#006e78" stroke-width="1"/><circle cx="1394.5" cy="1557.6" r="3.5999999999999996" fill="#0a8595" stroke="#006e78" stroke-width="1"/><polyline points="1035.7,1304 1068.3,1306 1100.9,1312.1 1133.6,1333.9 1166.2,1383.4 1198.8,1447 1231.4,1506.1 1264,1545.2 1296.7,1557.6 1329.3,1557.6 1361.9,1557.6 1394.5,1557.6" fill="none" stroke="#4a96ff" stroke-width="2.3" stroke-linejoin="round"/><circle cx="1035.7" cy="1304" r="3.5999999999999996" fill="#62a8ff" stroke="#4a96ff" stroke-width="1"/><circle cx="1068.3" cy="1306" r="3.5999999999999996" fill="#62a8ff" stroke="#4a96ff" stroke-width="1"/><circle cx="1100.9" cy="1312.1" r="3.5999999999999996" fill="#62a8ff" stroke="#4a96ff" stroke-width="1"/><circle cx="1133.6" cy="1333.9" r="3.5999999999999996" fill="#62a8ff" stroke="#4a96ff" stroke-width="1"/><circle cx="1166.2" cy="1383.4" r="3.5999999999999996" fill="#62a8ff" stroke="#4a96ff" stroke-width="1"/><circle cx="1198.8" cy="1447" r="3.5999999999999996" fill="#62a8ff" stroke="#4a96ff" stroke-width="1"/><circle cx="1231.4" cy="1506.1" r="3.5999999999999996" fill="#62a8ff" stroke="#4a96ff" stroke-width="1"/><circle cx="1264" cy="1545.2" r="3.5999999999999996" fill="#62a8ff" stroke="#4a96ff" stroke-width="1"/><circle cx="1296.7" cy="1557.6" r="3.5999999999999996" fill="#62a8ff" stroke="#4a96ff" stroke-width="1"/><circle cx="1329.3" cy="1557.6" r="3.5999999999999996" fill="#62a8ff" stroke="#4a96ff" stroke-width="1"/><circle cx="1361.9" cy="1557.6" r="3.5999999999999996" fill="#62a8ff" stroke="#4a96ff" stroke-width="1"/><circle cx="1394.5" cy="1557.6" r="3.5999999999999996" fill="#62a8ff" stroke="#4a96ff" stroke-width="1"/><polyline points="1035.7,1304 1068.3,1304 1100.9,1304 1133.6,1304 1166.2,1307.6 1198.8,1309.6 1231.4,1326.6 1264,1373.5 1296.7,1422.4 1329.3,1511.4 1361.9,1547.7 1394.5,1557.6" fill="none" stroke="#2a0038" stroke-width="2.5" stroke-linejoin="round"/><circle cx="1035.7" cy="1304" r="3.8499999999999996" fill="#45005f" stroke="#2a0038" stroke-width="1"/><circle cx="1068.3" cy="1304" r="3.8499999999999996" fill="#45005f" stroke="#2a0038" stroke-width="1"/><circle cx="1100.9" cy="1304" r="3.8499999999999996" fill="#45005f" stroke="#2a0038" stroke-width="1"/><circle cx="1133.6" cy="1304" r="3.8499999999999996" fill="#45005f" stroke="#2a0038" stroke-width="1"/><circle cx="1166.2" cy="1307.6" r="3.8499999999999996" fill="#45005f" stroke="#2a0038" stroke-width="1"/><circle cx="1198.8" cy="1309.6" r="3.8499999999999996" fill="#45005f" stroke="#2a0038" stroke-width="1"/><circle cx="1231.4" cy="1326.6" r="3.8499999999999996" fill="#45005f" stroke="#2a0038" stroke-width="1"/><circle cx="1264" cy="1373.5" r="3.8499999999999996" fill="#45005f" stroke="#2a0038" stroke-width="1"/><circle cx="1296.7" cy="1422.4" r="3.8499999999999996" fill="#45005f" stroke="#2a0038" stroke-width="1"/><circle cx="1329.3" cy="1511.4" r="3.8499999999999996" fill="#45005f" stroke="#2a0038" stroke-width="1"/><circle cx="1361.9" cy="1547.7" r="3.8499999999999996" fill="#45005f" stroke="#2a0038" stroke-width="1"/><circle cx="1394.5" cy="1557.6" r="3.8499999999999996" fill="#45005f" stroke="#2a0038" stroke-width="1"/><path d="M1014.2 1303.4V1558.1M1006.7 1558.1H1417M1006.7 1303.4H1014.2M1006.7 1367.1H1014.2M1006.7 1430.8H1014.2M1006.7 1494.4H1014.2M1035.7 1558.1V1565.6M1068.3 1558.1V1565.6M1100.9 1558.1V1565.6M1133.6 1558.1V1565.6M1166.2 1558.1V1565.6M1198.8 1558.1V1565.6M1231.4 1558.1V1565.6M1264 1558.1V1565.6M1296.7 1558.1V1565.6M1329.3 1558.1V1565.6M1361.9 1558.1V1565.6M1394.5 1558.1V1565.6" stroke="#000" stroke-width="2.8" fill="none"/><circle cx="1296.7" cy="1550" r="3.5999999999999996" fill="#0000ff" stroke="#0000ff" stroke-width="1"/><circle cx="1329.3" cy="1556.1" r="3.5999999999999996" fill="#0000ff" stroke="#0000ff" stroke-width="1"/><circle cx="1361.9" cy="1556.8" r="3.5999999999999996" fill="#0000ff" stroke="#0000ff" stroke-width="1"/><circle cx="1394.5" cy="1557.6" r="3.5999999999999996" fill="#0000ff" stroke="#0000ff" stroke-width="1"/><circle cx="1329.3" cy="1555.1" r="3.5999999999999996" fill="#0a8595" stroke="#006e78" stroke-width="1"/><circle cx="1361.9" cy="1556.8" r="3.5999999999999996" fill="#0a8595" stroke="#006e78" stroke-width="1"/><circle cx="1394.5" cy="1557.6" r="3.5999999999999996" fill="#0a8595" stroke="#006e78" stroke-width="1"/><circle cx="1296.7" cy="1557.6" r="3.5999999999999996" fill="#62a8ff" stroke="#4a96ff" stroke-width="1"/><circle cx="1329.3" cy="1557.6" r="3.5999999999999996" fill="#62a8ff" stroke="#4a96ff" stroke-width="1"/><circle cx="1361.9" cy="1557.6" r="3.5999999999999996" fill="#62a8ff" stroke="#4a96ff" stroke-width="1"/><circle cx="1394.5" cy="1557.6" r="3.5999999999999996" fill="#62a8ff" stroke="#4a96ff" stroke-width="1"/><circle cx="1394.5" cy="1557.6" r="3.8499999999999996" fill="#45005f" stroke="#2a0038" stroke-width="1"/></g>
<g><text x="282.9" y="1782.6" font-size="26.3" font-weight="bold" text-anchor="middle">cIPV-bOPV-bOPV</text><text x="64.5" y="1806.2" font-size="20" font-weight="bold" text-anchor="end">100</text><text x="64.5" y="1869.9" font-size="20" font-weight="bold" text-anchor="end">75</text><text x="64.5" y="1933.5" font-size="20" font-weight="bold" text-anchor="end">50</text><text x="64.5" y="1997.2" font-size="20" font-weight="bold" text-anchor="end">25</text><text x="64.5" y="2060.8" font-size="20" font-weight="bold" text-anchor="end">0</text><text transform="translate(19 1926.8) rotate(-90)" font-size="22.6" font-weight="bold" text-anchor="middle">Proportion of patients(%)</text><polyline points="96.7,1799.8 129.3,1801.1 161.9,1802.8 194.6,1810.2 227.2,1853.8 259.8,1914.9 292.4,1995.8 325,2019.6 357.7,2039.4 390.3,2052.3 422.9,2052.3 455.5,2052.3" fill="none" stroke="#006800" stroke-width="2.5" stroke-linejoin="round"/><circle cx="96.7" cy="1799.8" r="3.5999999999999996" fill="#008000" stroke="#006800" stroke-width="1"/><circle cx="129.3" cy="1801.1" r="3.5999999999999996" fill="#008000" stroke="#006800" stroke-width="1"/><circle cx="161.9" cy="1802.8" r="3.5999999999999996" fill="#008000" stroke="#006800" stroke-width="1"/><circle cx="194.6" cy="1810.2" r="3.5999999999999996" fill="#008000" stroke="#006800" stroke-width="1"/><circle cx="227.2" cy="1853.8" r="3.5999999999999996" fill="#008000" stroke="#006800" stroke-width="1"/><circle cx="259.8" cy="1914.9" r="3.5999999999999996" fill="#008000" stroke="#006800" stroke-width="1"/><circle cx="292.4" cy="1995.8" r="3.5999999999999996" fill="#008000" stroke="#006800" stroke-width="1"/><circle cx="325" cy="2019.6" r="3.5999999999999996" fill="#008000" stroke="#006800" stroke-width="1"/><circle cx="357.7" cy="2039.4" r="3.5999999999999996" fill="#008000" stroke="#006800" stroke-width="1"/><circle cx="390.3" cy="2052.3" r="3.5999999999999996" fill="#008000" stroke="#006800" stroke-width="1"/><circle cx="422.9" cy="2052.3" r="3.5999999999999996" fill="#008000" stroke="#006800" stroke-width="1"/><circle cx="455.5" cy="2052.3" r="3.5999999999999996" fill="#008000" stroke="#006800" stroke-width="1"/><polyline points="96.7,1799.8 129.3,1802.3 161.9,1803.3 194.6,1820.6 227.2,1859.6 259.8,1944.3 292.4,1998.8 325,2024.9 357.7,2050.3 390.3,2050.3 422.9,2051.8 455.5,2051.8" fill="none" stroke="#6e6e00" stroke-width="2.5" stroke-linejoin="round"/><circle cx="96.7" cy="1799.8" r="3.5999999999999996" fill="#808000" stroke="#6e6e00" stroke-width="1"/><circle cx="129.3" cy="1802.3" r="3.5999999999999996" fill="#808000" stroke="#6e6e00" stroke-width="1"/><circle cx="161.9" cy="1803.3" r="3.5999999999999996" fill="#808000" stroke="#6e6e00" stroke-width="1"/><circle cx="194.6" cy="1820.6" r="3.5999999999999996" fill="#808000" stroke="#6e6e00" stroke-width="1"/><circle cx="227.2" cy="1859.6" r="3.5999999999999996" fill="#808000" stroke="#6e6e00" stroke-width="1"/><circle cx="259.8" cy="1944.3" r="3.5999999999999996" fill="#808000" stroke="#6e6e00" stroke-width="1"/><circle cx="292.4" cy="1998.8" r="3.5999999999999996" fill="#808000" stroke="#6e6e00" stroke-width="1"/><circle cx="325" cy="2024.9" r="3.5999999999999996" fill="#808000" stroke="#6e6e00" stroke-width="1"/><circle cx="357.7" cy="2050.3" r="3.5999999999999996" fill="#808000" stroke="#6e6e00" stroke-width="1"/><circle cx="390.3" cy="2050.3" r="3.5999999999999996" fill="#808000" stroke="#6e6e00" stroke-width="1"/><circle cx="422.9" cy="2051.8" r="3.5999999999999996" fill="#808000" stroke="#6e6e00" stroke-width="1"/><circle cx="455.5" cy="2051.8" r="3.5999999999999996" fill="#808000" stroke="#6e6e00" stroke-width="1"/><polyline points="96.7,1799.8 129.3,1803.6 161.9,1806.9 194.6,1817.3 227.2,1860.9 259.8,1945.1 292.4,2012.7 325,2026.2 357.7,2043.2 390.3,2046.2 422.9,2050.3 455.5,2049.2" fill="none" stroke="#bcbc00" stroke-width="2.5" stroke-linejoin="round"/><circle cx="96.7" cy="1799.8" r="3.5999999999999996" fill="#c8c800" stroke="#bcbc00" stroke-width="1"/><circle cx="129.3" cy="1803.6" r="3.5999999999999996" fill="#c8c800" stroke="#bcbc00" stroke-width="1"/><circle cx="161.9" cy="1806.9" r="3.5999999999999996" fill="#c8c800" stroke="#bcbc00" stroke-width="1"/><circle cx="194.6" cy="1817.3" r="3.5999999999999996" fill="#c8c800" stroke="#bcbc00" stroke-width="1"/><circle cx="227.2" cy="1860.9" r="3.5999999999999996" fill="#c8c800" stroke="#bcbc00" stroke-width="1"/><circle cx="259.8" cy="1945.1" r="3.5999999999999996" fill="#c8c800" stroke="#bcbc00" stroke-width="1"/><circle cx="292.4" cy="2012.7" r="3.5999999999999996" fill="#c8c800" stroke="#bcbc00" stroke-width="1"/><circle cx="325" cy="2026.2" r="3.5999999999999996" fill="#c8c800" stroke="#bcbc00" stroke-width="1"/><circle cx="357.7" cy="2043.2" r="3.5999999999999996" fill="#c8c800" stroke="#bcbc00" stroke-width="1"/><circle cx="390.3" cy="2046.2" r="3.5999999999999996" fill="#c8c800" stroke="#bcbc00" stroke-width="1"/><circle cx="422.9" cy="2050.3" r="3.5999999999999996" fill="#c8c800" stroke="#bcbc00" stroke-width="1"/><circle cx="455.5" cy="2049.2" r="3.5999999999999996" fill="#c8c800" stroke="#bcbc00" stroke-width="1"/><polyline points="96.7,1799.8 129.3,1799.8 161.9,1799.8 194.6,1799.8 227.2,1799.8 259.8,1806.6 292.4,1830.5 325,1881.2 357.7,1962.3 390.3,2023.1 422.9,2046.5 455.5,2052.8" fill="none" stroke="#ff4400" stroke-width="2.5" stroke-linejoin="round"/><circle cx="96.7" cy="1799.8" r="3.8499999999999996" fill="#ff6200" stroke="#ff4400" stroke-width="1"/><circle cx="129.3" cy="1799.8" r="3.8499999999999996" fill="#ff6200" stroke="#ff4400" stroke-width="1"/><circle cx="161.9" cy="1799.8" r="3.8499999999999996" fill="#ff6200" stroke="#ff4400" stroke-width="1"/><circle cx="194.6" cy="1799.8" r="3.8499999999999996" fill="#ff6200" stroke="#ff4400" stroke-width="1"/><circle cx="227.2" cy="1799.8" r="3.8499999999999996" fill="#ff6200" stroke="#ff4400" stroke-width="1"/><circle cx="259.8" cy="1806.6" r="3.8499999999999996" fill="#ff6200" stroke="#ff4400" stroke-width="1"/><circle cx="292.4" cy="1830.5" r="3.8499999999999996" fill="#ff6200" stroke="#ff4400" stroke-width="1"/><circle cx="325" cy="1881.2" r="3.8499999999999996" fill="#ff6200" stroke="#ff4400" stroke-width="1"/><circle cx="357.7" cy="1962.3" r="3.8499999999999996" fill="#ff6200" stroke="#ff4400" stroke-width="1"/><circle cx="390.3" cy="2023.1" r="3.8499999999999996" fill="#ff6200" stroke="#ff4400" stroke-width="1"/><circle cx="422.9" cy="2046.5" r="3.8499999999999996" fill="#ff6200" stroke="#ff4400" stroke-width="1"/><circle cx="455.5" cy="2052.8" r="3.8499999999999996" fill="#ff6200" stroke="#ff4400" stroke-width="1"/><path d="M75.2 1799.2V2053.8M67.7 2053.8H478M67.7 1799.2H75.2M67.7 1862.9H75.2M67.7 1926.5H75.2M67.7 1990.2H75.2M96.7 2053.8V2061.3M129.3 2053.8V2061.3M161.9 2053.8V2061.3M194.6 2053.8V2061.3M227.2 2053.8V2061.3M259.8 2053.8V2061.3M292.4 2053.8V2061.3M325 2053.8V2061.3M357.7 2053.8V2061.3M390.3 2053.8V2061.3M422.9 2053.8V2061.3M455.5 2053.8V2061.3" stroke="#000" stroke-width="2.8" fill="none"/><circle cx="390.3" cy="2052.3" r="3.5999999999999996" fill="#008000" stroke="#006800" stroke-width="1"/><circle cx="422.9" cy="2052.3" r="3.5999999999999996" fill="#008000" stroke="#006800" stroke-width="1"/><circle cx="455.5" cy="2052.3" r="3.5999999999999996" fill="#008000" stroke="#006800" stroke-width="1"/><circle cx="357.7" cy="2050.3" r="3.5999999999999996" fill="#808000" stroke="#6e6e00" stroke-width="1"/><circle cx="390.3" cy="2050.3" r="3.5999999999999996" fill="#808000" stroke="#6e6e00" stroke-width="1"/><circle cx="422.9" cy="2051.8" r="3.5999999999999996" fill="#808000" stroke="#6e6e00" stroke-width="1"/><circle cx="455.5" cy="2051.8" r="3.5999999999999996" fill="#808000" stroke="#6e6e00" stroke-width="1"/><circle cx="390.3" cy="2046.2" r="3.5999999999999996" fill="#c8c800" stroke="#bcbc00" stroke-width="1"/><circle cx="422.9" cy="2050.3" r="3.5999999999999996" fill="#c8c800" stroke="#bcbc00" stroke-width="1"/><circle cx="455.5" cy="2049.2" r="3.5999999999999996" fill="#c8c800" stroke="#bcbc00" stroke-width="1"/><circle cx="422.9" cy="2046.5" r="3.8499999999999996" fill="#ff6200" stroke="#ff4400" stroke-width="1"/><circle cx="455.5" cy="2052.8" r="3.8499999999999996" fill="#ff6200" stroke="#ff4400" stroke-width="1"/></g>
<g><text x="760.8" y="1782.3" font-size="26.3" font-weight="bold" text-anchor="middle">cIPV-cIPV-bOPV</text><polyline points="573.3,1798.7 605.9,1798.7 638.5,1800 671.2,1813.9 703.8,1845.4 736.4,1891.6 769,1946.1 801.6,2006.7 834.3,2037.9 866.9,2046.3 899.5,2051.6 932.1,2051.6" fill="none" stroke="#006800" stroke-width="2.5" stroke-linejoin="round"/><circle cx="573.3" cy="1798.7" r="3.5999999999999996" fill="#008000" stroke="#006800" stroke-width="1"/><circle cx="605.9" cy="1798.7" r="3.5999999999999996" fill="#008000" stroke="#006800" stroke-width="1"/><circle cx="638.5" cy="1800" r="3.5999999999999996" fill="#008000" stroke="#006800" stroke-width="1"/><circle cx="671.2" cy="1813.9" r="3.5999999999999996" fill="#008000" stroke="#006800" stroke-width="1"/><circle cx="703.8" cy="1845.4" r="3.5999999999999996" fill="#008000" stroke="#006800" stroke-width="1"/><circle cx="736.4" cy="1891.6" r="3.5999999999999996" fill="#008000" stroke="#006800" stroke-width="1"/><circle cx="769" cy="1946.1" r="3.5999999999999996" fill="#008000" stroke="#006800" stroke-width="1"/><circle cx="801.6" cy="2006.7" r="3.5999999999999996" fill="#008000" stroke="#006800" stroke-width="1"/><circle cx="834.3" cy="2037.9" r="3.5999999999999996" fill="#008000" stroke="#006800" stroke-width="1"/><circle cx="866.9" cy="2046.3" r="3.5999999999999996" fill="#008000" stroke="#006800" stroke-width="1"/><circle cx="899.5" cy="2051.6" r="3.5999999999999996" fill="#008000" stroke="#006800" stroke-width="1"/><circle cx="932.1" cy="2051.6" r="3.5999999999999996" fill="#008000" stroke="#006800" stroke-width="1"/><polyline points="573.3,1798.7 605.9,1798.7 638.5,1799.5 671.2,1807.3 703.8,1857.1 736.4,1914.1 769,1968.9 801.6,2022.2 834.3,2048.3 866.9,2049.6 899.5,2052.1 932.1,2052.1" fill="none" stroke="#6e6e00" stroke-width="2.5" stroke-linejoin="round"/><circle cx="573.3" cy="1798.7" r="3.5999999999999996" fill="#808000" stroke="#6e6e00" stroke-width="1"/><circle cx="605.9" cy="1798.7" r="3.5999999999999996" fill="#808000" stroke="#6e6e00" stroke-width="1"/><circle cx="638.5" cy="1799.5" r="3.5999999999999996" fill="#808000" stroke="#6e6e00" stroke-width="1"/><circle cx="671.2" cy="1807.3" r="3.5999999999999996" fill="#808000" stroke="#6e6e00" stroke-width="1"/><circle cx="703.8" cy="1857.1" r="3.5999999999999996" fill="#808000" stroke="#6e6e00" stroke-width="1"/><circle cx="736.4" cy="1914.1" r="3.5999999999999996" fill="#808000" stroke="#6e6e00" stroke-width="1"/><circle cx="769" cy="1968.9" r="3.5999999999999996" fill="#808000" stroke="#6e6e00" stroke-width="1"/><circle cx="801.6" cy="2022.2" r="3.5999999999999996" fill="#808000" stroke="#6e6e00" stroke-width="1"/><circle cx="834.3" cy="2048.3" r="3.5999999999999996" fill="#808000" stroke="#6e6e00" stroke-width="1"/><circle cx="866.9" cy="2049.6" r="3.5999999999999996" fill="#808000" stroke="#6e6e00" stroke-width="1"/><circle cx="899.5" cy="2052.1" r="3.5999999999999996" fill="#808000" stroke="#6e6e00" stroke-width="1"/><circle cx="932.1" cy="2052.1" r="3.5999999999999996" fill="#808000" stroke="#6e6e00" stroke-width="1"/><polyline points="573.3,1798.7 605.9,1798.7 638.5,1802.8 671.2,1816.5 703.8,1839.5 736.4,1906 769,1957.8 801.6,2023.5 834.3,2046.3 866.9,2047.1 899.5,2052.1 932.1,2052.1" fill="none" stroke="#bcbc00" stroke-width="2.5" stroke-linejoin="round"/><circle cx="573.3" cy="1798.7" r="3.5999999999999996" fill="#c8c800" stroke="#bcbc00" stroke-width="1"/><circle cx="605.9" cy="1798.7" r="3.5999999999999996" fill="#c8c800" stroke="#bcbc00" stroke-width="1"/><circle cx="638.5" cy="1802.8" r="3.5999999999999996" fill="#c8c800" stroke="#bcbc00" stroke-width="1"/><circle cx="671.2" cy="1816.5" r="3.5999999999999996" fill="#c8c800" stroke="#bcbc00" stroke-width="1"/><circle cx="703.8" cy="1839.5" r="3.5999999999999996" fill="#c8c800" stroke="#bcbc00" stroke-width="1"/><circle cx="736.4" cy="1906" r="3.5999999999999996" fill="#c8c800" stroke="#bcbc00" stroke-width="1"/><circle cx="769" cy="1957.8" r="3.5999999999999996" fill="#c8c800" stroke="#bcbc00" stroke-width="1"/><circle cx="801.6" cy="2023.5" r="3.5999999999999996" fill="#c8c800" stroke="#bcbc00" stroke-width="1"/><circle cx="834.3" cy="2046.3" r="3.5999999999999996" fill="#c8c800" stroke="#bcbc00" stroke-width="1"/><circle cx="866.9" cy="2047.1" r="3.5999999999999996" fill="#c8c800" stroke="#bcbc00" stroke-width="1"/><circle cx="899.5" cy="2052.1" r="3.5999999999999996" fill="#c8c800" stroke="#bcbc00" stroke-width="1"/><circle cx="932.1" cy="2052.1" r="3.5999999999999996" fill="#c8c800" stroke="#bcbc00" stroke-width="1"/><polyline points="573.3,1798.7 605.9,1798.7 638.5,1798.7 671.2,1798.7 703.8,1807.8 736.4,1807.8 769,1810.9 801.6,1819.2 834.3,1868.2 866.9,1922.8 899.5,2020.9 932.1,2049.6" fill="none" stroke="#ff4400" stroke-width="2.5" stroke-linejoin="round"/><circle cx="573.3" cy="1798.7" r="3.8499999999999996" fill="#ff6200" stroke="#ff4400" stroke-width="1"/><circle cx="605.9" cy="1798.7" r="3.8499999999999996" fill="#ff6200" stroke="#ff4400" stroke-width="1"/><circle cx="638.5" cy="1798.7" r="3.8499999999999996" fill="#ff6200" stroke="#ff4400" stroke-width="1"/><circle cx="671.2" cy="1798.7" r="3.8499999999999996" fill="#ff6200" stroke="#ff4400" stroke-width="1"/><circle cx="703.8" cy="1807.8" r="3.8499999999999996" fill="#ff6200" stroke="#ff4400" stroke-width="1"/><circle cx="736.4" cy="1807.8" r="3.8499999999999996" fill="#ff6200" stroke="#ff4400" stroke-width="1"/><circle cx="769" cy="1810.9" r="3.8499999999999996" fill="#ff6200" stroke="#ff4400" stroke-width="1"/><circle cx="801.6" cy="1819.2" r="3.8499999999999996" fill="#ff6200" stroke="#ff4400" stroke-width="1"/><circle cx="834.3" cy="1868.2" r="3.8499999999999996" fill="#ff6200" stroke="#ff4400" stroke-width="1"/><circle cx="866.9" cy="1922.8" r="3.8499999999999996" fill="#ff6200" stroke="#ff4400" stroke-width="1"/><circle cx="899.5" cy="2020.9" r="3.8499999999999996" fill="#ff6200" stroke="#ff4400" stroke-width="1"/><circle cx="932.1" cy="2049.6" r="3.8499999999999996" fill="#ff6200" stroke="#ff4400" stroke-width="1"/><path d="M551.8 1798.1V2052.9M544.3 2052.9H954.6M544.3 1798.1H551.8M544.3 1861.8H551.8M544.3 1925.5H551.8M544.3 1989.2H551.8M573.3 2052.9V2060.4M605.9 2052.9V2060.4M638.5 2052.9V2060.4M671.2 2052.9V2060.4M703.8 2052.9V2060.4M736.4 2052.9V2060.4M769 2052.9V2060.4M801.6 2052.9V2060.4M834.3 2052.9V2060.4M866.9 2052.9V2060.4M899.5 2052.9V2060.4M932.1 2052.9V2060.4" stroke="#000" stroke-width="2.8" fill="none"/><circle cx="866.9" cy="2046.3" r="3.5999999999999996" fill="#008000" stroke="#006800" stroke-width="1"/><circle cx="899.5" cy="2051.6" r="3.5999999999999996" fill="#008000" stroke="#006800" stroke-width="1"/><circle cx="932.1" cy="2051.6" r="3.5999999999999996" fill="#008000" stroke="#006800" stroke-width="1"/><circle cx="834.3" cy="2048.3" r="3.5999999999999996" fill="#808000" stroke="#6e6e00" stroke-width="1"/><circle cx="866.9" cy="2049.6" r="3.5999999999999996" fill="#808000" stroke="#6e6e00" stroke-width="1"/><circle cx="899.5" cy="2052.1" r="3.5999999999999996" fill="#808000" stroke="#6e6e00" stroke-width="1"/><circle cx="932.1" cy="2052.1" r="3.5999999999999996" fill="#808000" stroke="#6e6e00" stroke-width="1"/><circle cx="834.3" cy="2046.3" r="3.5999999999999996" fill="#c8c800" stroke="#bcbc00" stroke-width="1"/><circle cx="866.9" cy="2047.1" r="3.5999999999999996" fill="#c8c800" stroke="#bcbc00" stroke-width="1"/><circle cx="899.5" cy="2052.1" r="3.5999999999999996" fill="#c8c800" stroke="#bcbc00" stroke-width="1"/><circle cx="932.1" cy="2052.1" r="3.5999999999999996" fill="#c8c800" stroke="#bcbc00" stroke-width="1"/><circle cx="932.1" cy="2049.6" r="3.8499999999999996" fill="#ff6200" stroke="#ff4400" stroke-width="1"/></g>
<g><text x="1223.1" y="1782.3" font-size="26.3" font-weight="bold" text-anchor="middle">cIPV-cIPV-tOPV</text><polyline points="1035.3,1801 1067.9,1799.7 1100.5,1814.4 1133.2,1848.7 1165.8,1894.6 1198.4,1939.1 1231,1980.2 1263.6,2021 1296.3,2039.3 1328.9,2046.9 1361.5,2049.7 1394.1,2049.7" fill="none" stroke="#006800" stroke-width="2.5" stroke-linejoin="round"/><circle cx="1035.3" cy="1801" r="3.5999999999999996" fill="#008000" stroke="#006800" stroke-width="1"/><circle cx="1067.9" cy="1799.7" r="3.5999999999999996" fill="#008000" stroke="#006800" stroke-width="1"/><circle cx="1100.5" cy="1814.4" r="3.5999999999999996" fill="#008000" stroke="#006800" stroke-width="1"/><circle cx="1133.2" cy="1848.7" r="3.5999999999999996" fill="#008000" stroke="#006800" stroke-width="1"/><circle cx="1165.8" cy="1894.6" r="3.5999999999999996" fill="#008000" stroke="#006800" stroke-width="1"/><circle cx="1198.4" cy="1939.1" r="3.5999999999999996" fill="#008000" stroke="#006800" stroke-width="1"/><circle cx="1231" cy="1980.2" r="3.5999999999999996" fill="#008000" stroke="#006800" stroke-width="1"/><circle cx="1263.6" cy="2021" r="3.5999999999999996" fill="#008000" stroke="#006800" stroke-width="1"/><circle cx="1296.3" cy="2039.3" r="3.5999999999999996" fill="#008000" stroke="#006800" stroke-width="1"/><circle cx="1328.9" cy="2046.9" r="3.5999999999999996" fill="#008000" stroke="#006800" stroke-width="1"/><circle cx="1361.5" cy="2049.7" r="3.5999999999999996" fill="#008000" stroke="#006800" stroke-width="1"/><circle cx="1394.1" cy="2049.7" r="3.5999999999999996" fill="#008000" stroke="#006800" stroke-width="1"/><polyline points="1035.3,1802.3 1067.9,1806.8 1100.5,1821.8 1133.2,1838 1165.8,1899.5 1198.4,1959.9 1231,1988.5 1263.6,2016.2 1296.3,2041.8 1328.9,2046.4 1361.5,2049.2 1394.1,2051.7" fill="none" stroke="#6e6e00" stroke-width="2.5" stroke-linejoin="round"/><circle cx="1035.3" cy="1802.3" r="3.5999999999999996" fill="#808000" stroke="#6e6e00" stroke-width="1"/><circle cx="1067.9" cy="1806.8" r="3.5999999999999996" fill="#808000" stroke="#6e6e00" stroke-width="1"/><circle cx="1100.5" cy="1821.8" r="3.5999999999999996" fill="#808000" stroke="#6e6e00" stroke-width="1"/><circle cx="1133.2" cy="1838" r="3.5999999999999996" fill="#808000" stroke="#6e6e00" stroke-width="1"/><circle cx="1165.8" cy="1899.5" r="3.5999999999999996" fill="#808000" stroke="#6e6e00" stroke-width="1"/><circle cx="1198.4" cy="1959.9" r="3.5999999999999996" fill="#808000" stroke="#6e6e00" stroke-width="1"/><circle cx="1231" cy="1988.5" r="3.5999999999999996" fill="#808000" stroke="#6e6e00" stroke-width="1"/><circle cx="1263.6" cy="2016.2" r="3.5999999999999996" fill="#808000" stroke="#6e6e00" stroke-width="1"/><circle cx="1296.3" cy="2041.8" r="3.5999999999999996" fill="#808000" stroke="#6e6e00" stroke-width="1"/><circle cx="1328.9" cy="2046.4" r="3.5999999999999996" fill="#808000" stroke="#6e6e00" stroke-width="1"/><circle cx="1361.5" cy="2049.2" r="3.5999999999999996" fill="#808000" stroke="#6e6e00" stroke-width="1"/><circle cx="1394.1" cy="2051.7" r="3.5999999999999996" fill="#808000" stroke="#6e6e00" stroke-width="1"/><polyline points="1035.3,1801 1067.9,1809.6 1100.5,1823.1 1133.2,1843.4 1165.8,1907.8 1198.4,1941.1 1231,1988 1263.6,2029.4 1296.3,2050.2 1328.9,2052.2 1361.5,2052.2 1394.1,2052.2" fill="none" stroke="#bcbc00" stroke-width="2.5" stroke-linejoin="round"/><circle cx="1035.3" cy="1801" r="3.5999999999999996" fill="#c8c800" stroke="#bcbc00" stroke-width="1"/><circle cx="1067.9" cy="1809.6" r="3.5999999999999996" fill="#c8c800" stroke="#bcbc00" stroke-width="1"/><circle cx="1100.5" cy="1823.1" r="3.5999999999999996" fill="#c8c800" stroke="#bcbc00" stroke-width="1"/><circle cx="1133.2" cy="1843.4" r="3.5999999999999996" fill="#c8c800" stroke="#bcbc00" stroke-width="1"/><circle cx="1165.8" cy="1907.8" r="3.5999999999999996" fill="#c8c800" stroke="#bcbc00" stroke-width="1"/><circle cx="1198.4" cy="1941.1" r="3.5999999999999996" fill="#c8c800" stroke="#bcbc00" stroke-width="1"/><circle cx="1231" cy="1988" r="3.5999999999999996" fill="#c8c800" stroke="#bcbc00" stroke-width="1"/><circle cx="1263.6" cy="2029.4" r="3.5999999999999996" fill="#c8c800" stroke="#bcbc00" stroke-width="1"/><circle cx="1296.3" cy="2050.2" r="3.5999999999999996" fill="#c8c800" stroke="#bcbc00" stroke-width="1"/><circle cx="1328.9" cy="2052.2" r="3.5999999999999996" fill="#c8c800" stroke="#bcbc00" stroke-width="1"/><circle cx="1361.5" cy="2052.2" r="3.5999999999999996" fill="#c8c800" stroke="#bcbc00" stroke-width="1"/><circle cx="1394.1" cy="2052.2" r="3.5999999999999996" fill="#c8c800" stroke="#bcbc00" stroke-width="1"/><polyline points="1035.3,1798.7 1067.9,1798.7 1100.5,1798.7 1133.2,1804.3 1165.8,1809.6 1198.4,1822.3 1231,1840.6 1263.6,1869.3 1296.3,1897.9 1328.9,1944.1 1361.5,2008.6 1394.1,2046.9" fill="none" stroke="#ff4400" stroke-width="2.5" stroke-linejoin="round"/><circle cx="1035.3" cy="1798.7" r="3.8499999999999996" fill="#ff6200" stroke="#ff4400" stroke-width="1"/><circle cx="1067.9" cy="1798.7" r="3.8499999999999996" fill="#ff6200" stroke="#ff4400" stroke-width="1"/><circle cx="1100.5" cy="1798.7" r="3.8499999999999996" fill="#ff6200" stroke="#ff4400" stroke-width="1"/><circle cx="1133.2" cy="1804.3" r="3.8499999999999996" fill="#ff6200" stroke="#ff4400" stroke-width="1"/><circle cx="1165.8" cy="1809.6" r="3.8499999999999996" fill="#ff6200" stroke="#ff4400" stroke-width="1"/><circle cx="1198.4" cy="1822.3" r="3.8499999999999996" fill="#ff6200" stroke="#ff4400" stroke-width="1"/><circle cx="1231" cy="1840.6" r="3.8499999999999996" fill="#ff6200" stroke="#ff4400" stroke-width="1"/><circle cx="1263.6" cy="1869.3" r="3.8499999999999996" fill="#ff6200" stroke="#ff4400" stroke-width="1"/><circle cx="1296.3" cy="1897.9" r="3.8499999999999996" fill="#ff6200" stroke="#ff4400" stroke-width="1"/><circle cx="1328.9" cy="1944.1" r="3.8499999999999996" fill="#ff6200" stroke="#ff4400" stroke-width="1"/><circle cx="1361.5" cy="2008.6" r="3.8499999999999996" fill="#ff6200" stroke="#ff4400" stroke-width="1"/><circle cx="1394.1" cy="2046.9" r="3.8499999999999996" fill="#ff6200" stroke="#ff4400" stroke-width="1"/><path d="M1013.8 1798.1V2053M1006.3 2053H1416.6M1006.3 1798.1H1013.8M1006.3 1861.8H1013.8M1006.3 1925.5H1013.8M1006.3 1989.3H1013.8M1035.3 2053V2060.5M1067.9 2053V2060.5M1100.5 2053V2060.5M1133.2 2053V2060.5M1165.8 2053V2060.5M1198.4 2053V2060.5M1231 2053V2060.5M1263.6 2053V2060.5M1296.3 2053V2060.5M1328.9 2053V2060.5M1361.5 2053V2060.5M1394.1 2053V2060.5" stroke="#000" stroke-width="2.8" fill="none"/><circle cx="1328.9" cy="2046.9" r="3.5999999999999996" fill="#008000" stroke="#006800" stroke-width="1"/><circle cx="1361.5" cy="2049.7" r="3.5999999999999996" fill="#008000" stroke="#006800" stroke-width="1"/><circle cx="1394.1" cy="2049.7" r="3.5999999999999996" fill="#008000" stroke="#006800" stroke-width="1"/><circle cx="1328.9" cy="2046.4" r="3.5999999999999996" fill="#808000" stroke="#6e6e00" stroke-width="1"/><circle cx="1361.5" cy="2049.2" r="3.5999999999999996" fill="#808000" stroke="#6e6e00" stroke-width="1"/><circle cx="1394.1" cy="2051.7" r="3.5999999999999996" fill="#808000" stroke="#6e6e00" stroke-width="1"/><circle cx="1296.3" cy="2050.2" r="3.5999999999999996" fill="#c8c800" stroke="#bcbc00" stroke-width="1"/><circle cx="1328.9" cy="2052.2" r="3.5999999999999996" fill="#c8c800" stroke="#bcbc00" stroke-width="1"/><circle cx="1361.5" cy="2052.2" r="3.5999999999999996" fill="#c8c800" stroke="#bcbc00" stroke-width="1"/><circle cx="1394.1" cy="2052.2" r="3.5999999999999996" fill="#c8c800" stroke="#bcbc00" stroke-width="1"/><circle cx="1394.1" cy="2046.9" r="3.8499999999999996" fill="#ff6200" stroke="#ff4400" stroke-width="1"/></g>
<g><text x="283.2" y="2159.4" font-size="26.3" font-weight="bold" text-anchor="middle">sIPV-bOPV-bOPV</text><text x="64.8" y="2179.4" font-size="20" font-weight="bold" text-anchor="end">100</text><text x="64.8" y="2243" font-size="20" font-weight="bold" text-anchor="end">75</text><text x="64.8" y="2306.6" font-size="20" font-weight="bold" text-anchor="end">50</text><text x="64.8" y="2370.2" font-size="20" font-weight="bold" text-anchor="end">25</text><text x="64.8" y="2433.8" font-size="20" font-weight="bold" text-anchor="end">0</text><text transform="translate(19 2299.9) rotate(-90)" font-size="22.6" font-weight="bold" text-anchor="middle">Proportion of patients(%)</text><text x="97" y="2455.3" font-size="20" font-weight="bold" text-anchor="middle">3</text><text x="129.6" y="2455.3" font-size="20" font-weight="bold" text-anchor="middle">4</text><text x="162.2" y="2455.3" font-size="20" font-weight="bold" text-anchor="middle">5</text><text x="194.9" y="2455.3" font-size="20" font-weight="bold" text-anchor="middle">6</text><text x="227.5" y="2455.3" font-size="20" font-weight="bold" text-anchor="middle">7</text><text x="260.1" y="2455.3" font-size="20" font-weight="bold" text-anchor="middle">8</text><text x="292.7" y="2455.3" font-size="20" font-weight="bold" text-anchor="middle">9</text><text x="325.3" y="2455.3" font-size="20" font-weight="bold" text-anchor="middle">10</text><text x="358" y="2455.3" font-size="20" font-weight="bold" text-anchor="middle">11</text><text x="390.6" y="2455.3" font-size="20" font-weight="bold" text-anchor="middle">12</text><text x="423.2" y="2455.3" font-size="20" font-weight="bold" text-anchor="middle">13</text><text x="455.8" y="2455.3" font-size="20" font-weight="bold" text-anchor="middle">14</text><text x="276.4" y="2493" font-size="22.3" font-weight="bold" text-anchor="middle">log<tspan font-size="16.5" dy="5.8">2</tspan><tspan dy="-5.8"> titre</tspan></text><polyline points="97,2173 129.6,2173 162.2,2173 194.9,2190.5 227.5,2219.1 260.1,2299.9 292.7,2351.8 325.3,2391.9 358,2420 390.6,2424 423.2,2425.8 455.8,2425.8" fill="none" stroke="#006800" stroke-width="2.5" stroke-linejoin="round"/><circle cx="97" cy="2173" r="3.5999999999999996" fill="#008000" stroke="#006800" stroke-width="1"/><circle cx="129.6" cy="2173" r="3.5999999999999996" fill="#008000" stroke="#006800" stroke-width="1"/><circle cx="162.2" cy="2173" r="3.5999999999999996" fill="#008000" stroke="#006800" stroke-width="1"/><circle cx="194.9" cy="2190.5" r="3.5999999999999996" fill="#008000" stroke="#006800" stroke-width="1"/><circle cx="227.5" cy="2219.1" r="3.5999999999999996" fill="#008000" stroke="#006800" stroke-width="1"/><circle cx="260.1" cy="2299.9" r="3.5999999999999996" fill="#008000" stroke="#006800" stroke-width="1"/><circle cx="292.7" cy="2351.8" r="3.5999999999999996" fill="#008000" stroke="#006800" stroke-width="1"/><circle cx="325.3" cy="2391.9" r="3.5999999999999996" fill="#008000" stroke="#006800" stroke-width="1"/><circle cx="358" cy="2420" r="3.5999999999999996" fill="#008000" stroke="#006800" stroke-width="1"/><circle cx="390.6" cy="2424" r="3.5999999999999996" fill="#008000" stroke="#006800" stroke-width="1"/><circle cx="423.2" cy="2425.8" r="3.5999999999999996" fill="#008000" stroke="#006800" stroke-width="1"/><circle cx="455.8" cy="2425.8" r="3.5999999999999996" fill="#008000" stroke="#006800" stroke-width="1"/><polyline points="97,2173 129.6,2179.3 162.2,2184.9 194.9,2208 227.5,2236.6 260.1,2288 292.7,2334.1 325.3,2380.2 358,2420 390.6,2420 423.2,2425.8 455.8,2425.8" fill="none" stroke="#6e6e00" stroke-width="2.5" stroke-linejoin="round"/><circle cx="97" cy="2173" r="3.5999999999999996" fill="#808000" stroke="#6e6e00" stroke-width="1"/><circle cx="129.6" cy="2179.3" r="3.5999999999999996" fill="#808000" stroke="#6e6e00" stroke-width="1"/><circle cx="162.2" cy="2184.9" r="3.5999999999999996" fill="#808000" stroke="#6e6e00" stroke-width="1"/><circle cx="194.9" cy="2208" r="3.5999999999999996" fill="#808000" stroke="#6e6e00" stroke-width="1"/><circle cx="227.5" cy="2236.6" r="3.5999999999999996" fill="#808000" stroke="#6e6e00" stroke-width="1"/><circle cx="260.1" cy="2288" r="3.5999999999999996" fill="#808000" stroke="#6e6e00" stroke-width="1"/><circle cx="292.7" cy="2334.1" r="3.5999999999999996" fill="#808000" stroke="#6e6e00" stroke-width="1"/><circle cx="325.3" cy="2380.2" r="3.5999999999999996" fill="#808000" stroke="#6e6e00" stroke-width="1"/><circle cx="358" cy="2420" r="3.5999999999999996" fill="#808000" stroke="#6e6e00" stroke-width="1"/><circle cx="390.6" cy="2420" r="3.5999999999999996" fill="#808000" stroke="#6e6e00" stroke-width="1"/><circle cx="423.2" cy="2425.8" r="3.5999999999999996" fill="#808000" stroke="#6e6e00" stroke-width="1"/><circle cx="455.8" cy="2425.8" r="3.5999999999999996" fill="#808000" stroke="#6e6e00" stroke-width="1"/><polyline points="97,2173 129.6,2179.3 162.2,2179.3 194.9,2208 227.5,2224.9 260.1,2259.4 292.7,2334.1 325.3,2386.3 358,2403.8 390.6,2425.3 423.2,2425.8 455.8,2425.8" fill="none" stroke="#bcbc00" stroke-width="2.5" stroke-linejoin="round"/><circle cx="97" cy="2173" r="3.5999999999999996" fill="#c8c800" stroke="#bcbc00" stroke-width="1"/><circle cx="129.6" cy="2179.3" r="3.5999999999999996" fill="#c8c800" stroke="#bcbc00" stroke-width="1"/><circle cx="162.2" cy="2179.3" r="3.5999999999999996" fill="#c8c800" stroke="#bcbc00" stroke-width="1"/><circle cx="194.9" cy="2208" r="3.5999999999999996" fill="#c8c800" stroke="#bcbc00" stroke-width="1"/><circle cx="227.5" cy="2224.9" r="3.5999999999999996" fill="#c8c800" stroke="#bcbc00" stroke-width="1"/><circle cx="260.1" cy="2259.4" r="3.5999999999999996" fill="#c8c800" stroke="#bcbc00" stroke-width="1"/><circle cx="292.7" cy="2334.1" r="3.5999999999999996" fill="#c8c800" stroke="#bcbc00" stroke-width="1"/><circle cx="325.3" cy="2386.3" r="3.5999999999999996" fill="#c8c800" stroke="#bcbc00" stroke-width="1"/><circle cx="358" cy="2403.8" r="3.5999999999999996" fill="#c8c800" stroke="#bcbc00" stroke-width="1"/><circle cx="390.6" cy="2425.3" r="3.5999999999999996" fill="#c8c800" stroke="#bcbc00" stroke-width="1"/><circle cx="423.2" cy="2425.8" r="3.5999999999999996" fill="#c8c800" stroke="#bcbc00" stroke-width="1"/><circle cx="455.8" cy="2425.8" r="3.5999999999999996" fill="#c8c800" stroke="#bcbc00" stroke-width="1"/><polyline points="97,2173 129.6,2173 162.2,2173 194.9,2173 227.5,2173 260.1,2178.8 292.7,2190.2 325.3,2254.1 358,2323 390.6,2368.8 423.2,2414.9 455.8,2425.8" fill="none" stroke="#ff4400" stroke-width="2.5" stroke-linejoin="round"/><circle cx="97" cy="2173" r="3.8499999999999996" fill="#ff6200" stroke="#ff4400" stroke-width="1"/><circle cx="129.6" cy="2173" r="3.8499999999999996" fill="#ff6200" stroke="#ff4400" stroke-width="1"/><circle cx="162.2" cy="2173" r="3.8499999999999996" fill="#ff6200" stroke="#ff4400" stroke-width="1"/><circle cx="194.9" cy="2173" r="3.8499999999999996" fill="#ff6200" stroke="#ff4400" stroke-width="1"/><circle cx="227.5" cy="2173" r="3.8499999999999996" fill="#ff6200" stroke="#ff4400" stroke-width="1"/><circle cx="260.1" cy="2178.8" r="3.8499999999999996" fill="#ff6200" stroke="#ff4400" stroke-width="1"/><circle cx="292.7" cy="2190.2" r="3.8499999999999996" fill="#ff6200" stroke="#ff4400" stroke-width="1"/><circle cx="325.3" cy="2254.1" r="3.8499999999999996" fill="#ff6200" stroke="#ff4400" stroke-width="1"/><circle cx="358" cy="2323" r="3.8499999999999996" fill="#ff6200" stroke="#ff4400" stroke-width="1"/><circle cx="390.6" cy="2368.8" r="3.8499999999999996" fill="#ff6200" stroke="#ff4400" stroke-width="1"/><circle cx="423.2" cy="2414.9" r="3.8499999999999996" fill="#ff6200" stroke="#ff4400" stroke-width="1"/><circle cx="455.8" cy="2425.8" r="3.8499999999999996" fill="#ff6200" stroke="#ff4400" stroke-width="1"/><path d="M75.5 2172.4V2426.8M68 2426.8H478.3M68 2172.4H75.5M68 2236H75.5M68 2299.6H75.5M68 2363.2H75.5M97 2426.8V2434.3M129.6 2426.8V2434.3M162.2 2426.8V2434.3M194.9 2426.8V2434.3M227.5 2426.8V2434.3M260.1 2426.8V2434.3M292.7 2426.8V2434.3M325.3 2426.8V2434.3M358 2426.8V2434.3M390.6 2426.8V2434.3M423.2 2426.8V2434.3M455.8 2426.8V2434.3" stroke="#000" stroke-width="2.8" fill="none"/><circle cx="358" cy="2420" r="3.5999999999999996" fill="#008000" stroke="#006800" stroke-width="1"/><circle cx="390.6" cy="2424" r="3.5999999999999996" fill="#008000" stroke="#006800" stroke-width="1"/><circle cx="423.2" cy="2425.8" r="3.5999999999999996" fill="#008000" stroke="#006800" stroke-width="1"/><circle cx="455.8" cy="2425.8" r="3.5999999999999996" fill="#008000" stroke="#006800" stroke-width="1"/><circle cx="358" cy="2420" r="3.5999999999999996" fill="#808000" stroke="#6e6e00" stroke-width="1"/><circle cx="390.6" cy="2420" r="3.5999999999999996" fill="#808000" stroke="#6e6e00" stroke-width="1"/><circle cx="423.2" cy="2425.8" r="3.5999999999999996" fill="#808000" stroke="#6e6e00" stroke-width="1"/><circle cx="455.8" cy="2425.8" r="3.5999999999999996" fill="#808000" stroke="#6e6e00" stroke-width="1"/><circle cx="390.6" cy="2425.3" r="3.5999999999999996" fill="#c8c800" stroke="#bcbc00" stroke-width="1"/><circle cx="423.2" cy="2425.8" r="3.5999999999999996" fill="#c8c800" stroke="#bcbc00" stroke-width="1"/><circle cx="455.8" cy="2425.8" r="3.5999999999999996" fill="#c8c800" stroke="#bcbc00" stroke-width="1"/><circle cx="455.8" cy="2425.8" r="3.8499999999999996" fill="#ff6200" stroke="#ff4400" stroke-width="1"/></g>
<g><text x="760.5" y="2159.6" font-size="26.3" font-weight="bold" text-anchor="middle">sIPV-sIPV-bOPV</text><text x="572.7" y="2455.1" font-size="20" font-weight="bold" text-anchor="middle">3</text><text x="605.3" y="2455.1" font-size="20" font-weight="bold" text-anchor="middle">4</text><text x="637.9" y="2455.1" font-size="20" font-weight="bold" text-anchor="middle">5</text><text x="670.6" y="2455.1" font-size="20" font-weight="bold" text-anchor="middle">6</text><text x="703.2" y="2455.1" font-size="20" font-weight="bold" text-anchor="middle">7</text><text x="735.8" y="2455.1" font-size="20" font-weight="bold" text-anchor="middle">8</text><text x="768.4" y="2455.1" font-size="20" font-weight="bold" text-anchor="middle">9</text><text x="801" y="2455.1" font-size="20" font-weight="bold" text-anchor="middle">10</text><text x="833.7" y="2455.1" font-size="20" font-weight="bold" text-anchor="middle">11</text><text x="866.3" y="2455.1" font-size="20" font-weight="bold" text-anchor="middle">12</text><text x="898.9" y="2455.1" font-size="20" font-weight="bold" text-anchor="middle">13</text><text x="931.5" y="2455.1" font-size="20" font-weight="bold" text-anchor="middle">14</text><text x="752.1" y="2492.8" font-size="22.3" font-weight="bold" text-anchor="middle">log<tspan font-size="16.5" dy="5.8">2</tspan><tspan dy="-5.8"> titre</tspan></text><polyline points="572.7,2175.4 605.3,2175.4 637.9,2178.7 670.6,2179.2 703.2,2195.7 735.8,2250.8 768.4,2323 801,2383.2 833.7,2412.4 866.3,2423.3 898.9,2425.8 931.5,2425.8" fill="none" stroke="#006800" stroke-width="2.5" stroke-linejoin="round"/><circle cx="572.7" cy="2175.4" r="3.5999999999999996" fill="#008000" stroke="#006800" stroke-width="1"/><circle cx="605.3" cy="2175.4" r="3.5999999999999996" fill="#008000" stroke="#006800" stroke-width="1"/><circle cx="637.9" cy="2178.7" r="3.5999999999999996" fill="#008000" stroke="#006800" stroke-width="1"/><circle cx="670.6" cy="2179.2" r="3.5999999999999996" fill="#008000" stroke="#006800" stroke-width="1"/><circle cx="703.2" cy="2195.7" r="3.5999999999999996" fill="#008000" stroke="#006800" stroke-width="1"/><circle cx="735.8" cy="2250.8" r="3.5999999999999996" fill="#008000" stroke="#006800" stroke-width="1"/><circle cx="768.4" cy="2323" r="3.5999999999999996" fill="#008000" stroke="#006800" stroke-width="1"/><circle cx="801" cy="2383.2" r="3.5999999999999996" fill="#008000" stroke="#006800" stroke-width="1"/><circle cx="833.7" cy="2412.4" r="3.5999999999999996" fill="#008000" stroke="#006800" stroke-width="1"/><circle cx="866.3" cy="2423.3" r="3.5999999999999996" fill="#008000" stroke="#006800" stroke-width="1"/><circle cx="898.9" cy="2425.8" r="3.5999999999999996" fill="#008000" stroke="#006800" stroke-width="1"/><circle cx="931.5" cy="2425.8" r="3.5999999999999996" fill="#008000" stroke="#006800" stroke-width="1"/><polyline points="572.7,2175.4 605.3,2175.9 637.9,2178.7 670.6,2181.8 703.2,2200.8 735.8,2245 768.4,2330.3 801,2385.7 833.7,2412.4 866.3,2420 898.9,2425.8 931.5,2425.8" fill="none" stroke="#6e6e00" stroke-width="2.5" stroke-linejoin="round"/><circle cx="572.7" cy="2175.4" r="3.5999999999999996" fill="#808000" stroke="#6e6e00" stroke-width="1"/><circle cx="605.3" cy="2175.9" r="3.5999999999999996" fill="#808000" stroke="#6e6e00" stroke-width="1"/><circle cx="637.9" cy="2178.7" r="3.5999999999999996" fill="#808000" stroke="#6e6e00" stroke-width="1"/><circle cx="670.6" cy="2181.8" r="3.5999999999999996" fill="#808000" stroke="#6e6e00" stroke-width="1"/><circle cx="703.2" cy="2200.8" r="3.5999999999999996" fill="#808000" stroke="#6e6e00" stroke-width="1"/><circle cx="735.8" cy="2245" r="3.5999999999999996" fill="#808000" stroke="#6e6e00" stroke-width="1"/><circle cx="768.4" cy="2330.3" r="3.5999999999999996" fill="#808000" stroke="#6e6e00" stroke-width="1"/><circle cx="801" cy="2385.7" r="3.5999999999999996" fill="#808000" stroke="#6e6e00" stroke-width="1"/><circle cx="833.7" cy="2412.4" r="3.5999999999999996" fill="#808000" stroke="#6e6e00" stroke-width="1"/><circle cx="866.3" cy="2420" r="3.5999999999999996" fill="#808000" stroke="#6e6e00" stroke-width="1"/><circle cx="898.9" cy="2425.8" r="3.5999999999999996" fill="#808000" stroke="#6e6e00" stroke-width="1"/><circle cx="931.5" cy="2425.8" r="3.5999999999999996" fill="#808000" stroke="#6e6e00" stroke-width="1"/><polyline points="572.7,2175.9 605.3,2175.9 637.9,2179.2 670.6,2184.5 703.2,2202.1 735.8,2267.9 768.4,2337.2 801,2394.9 833.7,2425.8 866.3,2425.8 898.9,2425.8 931.5,2425.8" fill="none" stroke="#bcbc00" stroke-width="2.5" stroke-linejoin="round"/><circle cx="572.7" cy="2175.9" r="3.5999999999999996" fill="#c8c800" stroke="#bcbc00" stroke-width="1"/><circle cx="605.3" cy="2175.9" r="3.5999999999999996" fill="#c8c800" stroke="#bcbc00" stroke-width="1"/><circle cx="637.9" cy="2179.2" r="3.5999999999999996" fill="#c8c800" stroke="#bcbc00" stroke-width="1"/><circle cx="670.6" cy="2184.5" r="3.5999999999999996" fill="#c8c800" stroke="#bcbc00" stroke-width="1"/><circle cx="703.2" cy="2202.1" r="3.5999999999999996" fill="#c8c800" stroke="#bcbc00" stroke-width="1"/><circle cx="735.8" cy="2267.9" r="3.5999999999999996" fill="#c8c800" stroke="#bcbc00" stroke-width="1"/><circle cx="768.4" cy="2337.2" r="3.5999999999999996" fill="#c8c800" stroke="#bcbc00" stroke-width="1"/><circle cx="801" cy="2394.9" r="3.5999999999999996" fill="#c8c800" stroke="#bcbc00" stroke-width="1"/><circle cx="833.7" cy="2425.8" r="3.5999999999999996" fill="#c8c800" stroke="#bcbc00" stroke-width="1"/><circle cx="866.3" cy="2425.8" r="3.5999999999999996" fill="#c8c800" stroke="#bcbc00" stroke-width="1"/><circle cx="898.9" cy="2425.8" r="3.5999999999999996" fill="#c8c800" stroke="#bcbc00" stroke-width="1"/><circle cx="931.5" cy="2425.8" r="3.5999999999999996" fill="#c8c800" stroke="#bcbc00" stroke-width="1"/><polyline points="572.7,2172.1 605.3,2172.1 637.9,2172.1 670.6,2175.9 703.2,2175.9 735.8,2181.8 768.4,2181.8 801,2199.3 833.7,2236.6 866.3,2305.4 898.9,2365.9 931.5,2409.1" fill="none" stroke="#ff4400" stroke-width="2.5" stroke-linejoin="round"/><circle cx="572.7" cy="2172.1" r="3.8499999999999996" fill="#ff6200" stroke="#ff4400" stroke-width="1"/><circle cx="605.3" cy="2172.1" r="3.8499999999999996" fill="#ff6200" stroke="#ff4400" stroke-width="1"/><circle cx="637.9" cy="2172.1" r="3.8499999999999996" fill="#ff6200" stroke="#ff4400" stroke-width="1"/><circle cx="670.6" cy="2175.9" r="3.8499999999999996" fill="#ff6200" stroke="#ff4400" stroke-width="1"/><circle cx="703.2" cy="2175.9" r="3.8499999999999996" fill="#ff6200" stroke="#ff4400" stroke-width="1"/><circle cx="735.8" cy="2181.8" r="3.8499999999999996" fill="#ff6200" stroke="#ff4400" stroke-width="1"/><circle cx="768.4" cy="2181.8" r="3.8499999999999996" fill="#ff6200" stroke="#ff4400" stroke-width="1"/><circle cx="801" cy="2199.3" r="3.8499999999999996" fill="#ff6200" stroke="#ff4400" stroke-width="1"/><circle cx="833.7" cy="2236.6" r="3.8499999999999996" fill="#ff6200" stroke="#ff4400" stroke-width="1"/><circle cx="866.3" cy="2305.4" r="3.8499999999999996" fill="#ff6200" stroke="#ff4400" stroke-width="1"/><circle cx="898.9" cy="2365.9" r="3.8499999999999996" fill="#ff6200" stroke="#ff4400" stroke-width="1"/><circle cx="931.5" cy="2409.1" r="3.8499999999999996" fill="#ff6200" stroke="#ff4400" stroke-width="1"/><path d="M551.2 2171.5V2426.6M543.7 2426.6H954M543.7 2171.5H551.2M543.7 2235.3H551.2M543.7 2299.1H551.2M543.7 2362.8H551.2M572.7 2426.6V2434.1M605.3 2426.6V2434.1M637.9 2426.6V2434.1M670.6 2426.6V2434.1M703.2 2426.6V2434.1M735.8 2426.6V2434.1M768.4 2426.6V2434.1M801 2426.6V2434.1M833.7 2426.6V2434.1M866.3 2426.6V2434.1M898.9 2426.6V2434.1M931.5 2426.6V2434.1" stroke="#000" stroke-width="2.8" fill="none"/><circle cx="866.3" cy="2423.3" r="3.5999999999999996" fill="#008000" stroke="#006800" stroke-width="1"/><circle cx="898.9" cy="2425.8" r="3.5999999999999996" fill="#008000" stroke="#006800" stroke-width="1"/><circle cx="931.5" cy="2425.8" r="3.5999999999999996" fill="#008000" stroke="#006800" stroke-width="1"/><circle cx="866.3" cy="2420" r="3.5999999999999996" fill="#808000" stroke="#6e6e00" stroke-width="1"/><circle cx="898.9" cy="2425.8" r="3.5999999999999996" fill="#808000" stroke="#6e6e00" stroke-width="1"/><circle cx="931.5" cy="2425.8" r="3.5999999999999996" fill="#808000" stroke="#6e6e00" stroke-width="1"/><circle cx="833.7" cy="2425.8" r="3.5999999999999996" fill="#c8c800" stroke="#bcbc00" stroke-width="1"/><circle cx="866.3" cy="2425.8" r="3.5999999999999996" fill="#c8c800" stroke="#bcbc00" stroke-width="1"/><circle cx="898.9" cy="2425.8" r="3.5999999999999996" fill="#c8c800" stroke="#bcbc00" stroke-width="1"/><circle cx="931.5" cy="2425.8" r="3.5999999999999996" fill="#c8c800" stroke="#bcbc00" stroke-width="1"/></g>
<g><text x="1223.4" y="2157.9" font-size="26.3" font-weight="bold" text-anchor="middle">sIPV-sIPV-tOPV</text><text x="1035.7" y="2453.5" font-size="20" font-weight="bold" text-anchor="middle">3</text><text x="1068.3" y="2453.5" font-size="20" font-weight="bold" text-anchor="middle">4</text><text x="1100.9" y="2453.5" font-size="20" font-weight="bold" text-anchor="middle">5</text><text x="1133.6" y="2453.5" font-size="20" font-weight="bold" text-anchor="middle">6</text><text x="1166.2" y="2453.5" font-size="20" font-weight="bold" text-anchor="middle">7</text><text x="1198.8" y="2453.5" font-size="20" font-weight="bold" text-anchor="middle">8</text><text x="1231.4" y="2453.5" font-size="20" font-weight="bold" text-anchor="middle">9</text><text x="1264" y="2453.5" font-size="20" font-weight="bold" text-anchor="middle">10</text><text x="1296.7" y="2453.5" font-size="20" font-weight="bold" text-anchor="middle">11</text><text x="1329.3" y="2453.5" font-size="20" font-weight="bold" text-anchor="middle">12</text><text x="1361.9" y="2453.5" font-size="20" font-weight="bold" text-anchor="middle">13</text><text x="1394.5" y="2453.5" font-size="20" font-weight="bold" text-anchor="middle">14</text><text x="1215.1" y="2491.2" font-size="22.3" font-weight="bold" text-anchor="middle">log<tspan font-size="16.5" dy="5.8">2</tspan><tspan dy="-5.8"> titre</tspan></text><polyline points="1035.7,2172.2 1068.3,2178.5 1100.9,2192.7 1133.6,2200.6 1166.2,2233 1198.8,2285.8 1231.4,2345.4 1264,2390.3 1296.7,2412.3 1329.3,2418.7 1361.9,2424 1394.5,2424" fill="none" stroke="#006800" stroke-width="2.5" stroke-linejoin="round"/><circle cx="1035.7" cy="2172.2" r="3.5999999999999996" fill="#008000" stroke="#006800" stroke-width="1"/><circle cx="1068.3" cy="2178.5" r="3.5999999999999996" fill="#008000" stroke="#006800" stroke-width="1"/><circle cx="1100.9" cy="2192.7" r="3.5999999999999996" fill="#008000" stroke="#006800" stroke-width="1"/><circle cx="1133.6" cy="2200.6" r="3.5999999999999996" fill="#008000" stroke="#006800" stroke-width="1"/><circle cx="1166.2" cy="2233" r="3.5999999999999996" fill="#008000" stroke="#006800" stroke-width="1"/><circle cx="1198.8" cy="2285.8" r="3.5999999999999996" fill="#008000" stroke="#006800" stroke-width="1"/><circle cx="1231.4" cy="2345.4" r="3.5999999999999996" fill="#008000" stroke="#006800" stroke-width="1"/><circle cx="1264" cy="2390.3" r="3.5999999999999996" fill="#008000" stroke="#006800" stroke-width="1"/><circle cx="1296.7" cy="2412.3" r="3.5999999999999996" fill="#008000" stroke="#006800" stroke-width="1"/><circle cx="1329.3" cy="2418.7" r="3.5999999999999996" fill="#008000" stroke="#006800" stroke-width="1"/><circle cx="1361.9" cy="2424" r="3.5999999999999996" fill="#008000" stroke="#006800" stroke-width="1"/><circle cx="1394.5" cy="2424" r="3.5999999999999996" fill="#008000" stroke="#006800" stroke-width="1"/><polyline points="1035.7,2175.7 1068.3,2180.5 1100.9,2192.7 1133.6,2208.9 1166.2,2249.8 1198.8,2306.8 1231.4,2351 1264,2405 1296.7,2421.2 1329.3,2423.2 1361.9,2424 1394.5,2424" fill="none" stroke="#6e6e00" stroke-width="2.5" stroke-linejoin="round"/><circle cx="1035.7" cy="2175.7" r="3.5999999999999996" fill="#808000" stroke="#6e6e00" stroke-width="1"/><circle cx="1068.3" cy="2180.5" r="3.5999999999999996" fill="#808000" stroke="#6e6e00" stroke-width="1"/><circle cx="1100.9" cy="2192.7" r="3.5999999999999996" fill="#808000" stroke="#6e6e00" stroke-width="1"/><circle cx="1133.6" cy="2208.9" r="3.5999999999999996" fill="#808000" stroke="#6e6e00" stroke-width="1"/><circle cx="1166.2" cy="2249.8" r="3.5999999999999996" fill="#808000" stroke="#6e6e00" stroke-width="1"/><circle cx="1198.8" cy="2306.8" r="3.5999999999999996" fill="#808000" stroke="#6e6e00" stroke-width="1"/><circle cx="1231.4" cy="2351" r="3.5999999999999996" fill="#808000" stroke="#6e6e00" stroke-width="1"/><circle cx="1264" cy="2405" r="3.5999999999999996" fill="#808000" stroke="#6e6e00" stroke-width="1"/><circle cx="1296.7" cy="2421.2" r="3.5999999999999996" fill="#808000" stroke="#6e6e00" stroke-width="1"/><circle cx="1329.3" cy="2423.2" r="3.5999999999999996" fill="#808000" stroke="#6e6e00" stroke-width="1"/><circle cx="1361.9" cy="2424" r="3.5999999999999996" fill="#808000" stroke="#6e6e00" stroke-width="1"/><circle cx="1394.5" cy="2424" r="3.5999999999999996" fill="#808000" stroke="#6e6e00" stroke-width="1"/><polyline points="1035.7,2173.9 1068.3,2178.8 1100.9,2192.7 1133.6,2209.4 1166.2,2251.3 1198.8,2304.5 1231.4,2361.1 1264,2402.2 1296.7,2414.9 1329.3,2421.2 1361.9,2424 1394.5,2424" fill="none" stroke="#bcbc00" stroke-width="2.5" stroke-linejoin="round"/><circle cx="1035.7" cy="2173.9" r="3.5999999999999996" fill="#c8c800" stroke="#bcbc00" stroke-width="1"/><circle cx="1068.3" cy="2178.8" r="3.5999999999999996" fill="#c8c800" stroke="#bcbc00" stroke-width="1"/><circle cx="1100.9" cy="2192.7" r="3.5999999999999996" fill="#c8c800" stroke="#bcbc00" stroke-width="1"/><circle cx="1133.6" cy="2209.4" r="3.5999999999999996" fill="#c8c800" stroke="#bcbc00" stroke-width="1"/><circle cx="1166.2" cy="2251.3" r="3.5999999999999996" fill="#c8c800" stroke="#bcbc00" stroke-width="1"/><circle cx="1198.8" cy="2304.5" r="3.5999999999999996" fill="#c8c800" stroke="#bcbc00" stroke-width="1"/><circle cx="1231.4" cy="2361.1" r="3.5999999999999996" fill="#c8c800" stroke="#bcbc00" stroke-width="1"/><circle cx="1264" cy="2402.2" r="3.5999999999999996" fill="#c8c800" stroke="#bcbc00" stroke-width="1"/><circle cx="1296.7" cy="2414.9" r="3.5999999999999996" fill="#c8c800" stroke="#bcbc00" stroke-width="1"/><circle cx="1329.3" cy="2421.2" r="3.5999999999999996" fill="#c8c800" stroke="#bcbc00" stroke-width="1"/><circle cx="1361.9" cy="2424" r="3.5999999999999996" fill="#c8c800" stroke="#bcbc00" stroke-width="1"/><circle cx="1394.5" cy="2424" r="3.5999999999999996" fill="#c8c800" stroke="#bcbc00" stroke-width="1"/><polyline points="1035.7,2170.9 1068.3,2170.9 1100.9,2170.9 1133.6,2173.9 1166.2,2178.8 1198.8,2183.6 1231.4,2198.3 1264,2220.4 1296.7,2264.5 1329.3,2323.6 1361.9,2392.8 1394.5,2422" fill="none" stroke="#ff4400" stroke-width="2.5" stroke-linejoin="round"/><circle cx="1035.7" cy="2170.9" r="3.8499999999999996" fill="#ff6200" stroke="#ff4400" stroke-width="1"/><circle cx="1068.3" cy="2170.9" r="3.8499999999999996" fill="#ff6200" stroke="#ff4400" stroke-width="1"/><circle cx="1100.9" cy="2170.9" r="3.8499999999999996" fill="#ff6200" stroke="#ff4400" stroke-width="1"/><circle cx="1133.6" cy="2173.9" r="3.8499999999999996" fill="#ff6200" stroke="#ff4400" stroke-width="1"/><circle cx="1166.2" cy="2178.8" r="3.8499999999999996" fill="#ff6200" stroke="#ff4400" stroke-width="1"/><circle cx="1198.8" cy="2183.6" r="3.8499999999999996" fill="#ff6200" stroke="#ff4400" stroke-width="1"/><circle cx="1231.4" cy="2198.3" r="3.8499999999999996" fill="#ff6200" stroke="#ff4400" stroke-width="1"/><circle cx="1264" cy="2220.4" r="3.8499999999999996" fill="#ff6200" stroke="#ff4400" stroke-width="1"/><circle cx="1296.7" cy="2264.5" r="3.8499999999999996" fill="#ff6200" stroke="#ff4400" stroke-width="1"/><circle cx="1329.3" cy="2323.6" r="3.8499999999999996" fill="#ff6200" stroke="#ff4400" stroke-width="1"/><circle cx="1361.9" cy="2392.8" r="3.8499999999999996" fill="#ff6200" stroke="#ff4400" stroke-width="1"/><circle cx="1394.5" cy="2422" r="3.8499999999999996" fill="#ff6200" stroke="#ff4400" stroke-width="1"/><path d="M1014.2 2170.3V2425M1006.7 2425H1417M1006.7 2170.3H1014.2M1006.7 2234H1014.2M1006.7 2297.7H1014.2M1006.7 2361.3H1014.2M1035.7 2425V2432.5M1068.3 2425V2432.5M1100.9 2425V2432.5M1133.6 2425V2432.5M1166.2 2425V2432.5M1198.8 2425V2432.5M1231.4 2425V2432.5M1264 2425V2432.5M1296.7 2425V2432.5M1329.3 2425V2432.5M1361.9 2425V2432.5M1394.5 2425V2432.5" stroke="#000" stroke-width="2.8" fill="none"/><circle cx="1329.3" cy="2418.7" r="3.5999999999999996" fill="#008000" stroke="#006800" stroke-width="1"/><circle cx="1361.9" cy="2424" r="3.5999999999999996" fill="#008000" stroke="#006800" stroke-width="1"/><circle cx="1394.5" cy="2424" r="3.5999999999999996" fill="#008000" stroke="#006800" stroke-width="1"/><circle cx="1296.7" cy="2421.2" r="3.5999999999999996" fill="#808000" stroke="#6e6e00" stroke-width="1"/><circle cx="1329.3" cy="2423.2" r="3.5999999999999996" fill="#808000" stroke="#6e6e00" stroke-width="1"/><circle cx="1361.9" cy="2424" r="3.5999999999999996" fill="#808000" stroke="#6e6e00" stroke-width="1"/><circle cx="1394.5" cy="2424" r="3.5999999999999996" fill="#808000" stroke="#6e6e00" stroke-width="1"/><circle cx="1329.3" cy="2421.2" r="3.5999999999999996" fill="#c8c800" stroke="#bcbc00" stroke-width="1"/><circle cx="1361.9" cy="2424" r="3.5999999999999996" fill="#c8c800" stroke="#bcbc00" stroke-width="1"/><circle cx="1394.5" cy="2424" r="3.5999999999999996" fill="#c8c800" stroke="#bcbc00" stroke-width="1"/><circle cx="1394.5" cy="2422" r="3.8499999999999996" fill="#ff6200" stroke="#ff4400" stroke-width="1"/></g>
<text transform="translate(2.6 26.3) scale(0.92 1)" x="0" y="0" font-size="46" font-weight="bold">a</text>
<text transform="translate(-0.6 884) scale(0.93 1)" x="0" y="0" font-size="46" font-weight="bold">b</text>
<text transform="translate(-0.4 1742) scale(0.99 1)" x="0" y="0" font-size="46" font-weight="bold">c</text>
<text x="1427.2" y="150.7" font-size="27.6" stroke="#000" stroke-width="0.55">Poliovirus serotype 1</text>
<line x1="1423.3" y1="189.6" x2="1452" y2="189.6" stroke="#8a5000" stroke-width="2.4"/>
<circle cx="1437.6" cy="189.6" r="3.9" fill="#9a6622"/>
<text x="1467.2" y="196.2" font-size="22" font-weight="bold">month 5</text>
<line x1="1423.3" y1="227.1" x2="1452" y2="227.1" stroke="#8a0000" stroke-width="2.4"/>
<circle cx="1437.6" cy="227.1" r="3.9" fill="#a00000"/>
<text x="1467.2" y="233.9" font-size="22" font-weight="bold">month 24</text>
<line x1="1423.3" y1="263.2" x2="1452" y2="263.2" stroke="#ff0000" stroke-width="2.4"/>
<circle cx="1437.6" cy="263.2" r="3.9" fill="#ff0000"/>
<text x="1467.2" y="269.9" font-size="22" font-weight="bold">month 36</text>
<line x1="1423.3" y1="299.3" x2="1452" y2="299.3" stroke="#ff7272" stroke-width="2.4"/>
<circle cx="1437.6" cy="299.3" r="3.9" fill="#ff8888"/>
<text x="1467.2" y="306" font-size="22" font-weight="bold">month 48</text>
<text x="1418.7" y="1015.7" font-size="27.6" stroke="#000" stroke-width="0.55">Poliovirus serotype 2</text>
<line x1="1423.3" y1="1049" x2="1452" y2="1049" stroke="#2a0038" stroke-width="2.4"/>
<circle cx="1437.6" cy="1049" r="3.9" fill="#45005f"/>
<text x="1467.2" y="1055.7" font-size="22" font-weight="bold">month 5</text>
<line x1="1423.3" y1="1086.3" x2="1452" y2="1086.3" stroke="#0000ff" stroke-width="2.4"/>
<circle cx="1437.6" cy="1086.3" r="3.9" fill="#0000ff"/>
<text x="1467.2" y="1092.9" font-size="22" font-weight="bold">month 24</text>
<line x1="1423.3" y1="1122.8" x2="1452" y2="1122.8" stroke="#006e78" stroke-width="2.4"/>
<circle cx="1437.6" cy="1122.8" r="3.9" fill="#0a8595"/>
<text x="1467.2" y="1129.3" font-size="22" font-weight="bold">month 36</text>
<line x1="1423.3" y1="1159" x2="1452" y2="1159" stroke="#4a96ff" stroke-width="2.4"/>
<circle cx="1437.6" cy="1159" r="3.9" fill="#62a8ff"/>
<text x="1467.2" y="1165.6" font-size="22" font-weight="bold">month 48</text>
<text x="1423.4" y="1877" font-size="27.6" stroke="#000" stroke-width="0.55">Poliovirus serotype 3</text>
<line x1="1423.3" y1="1917" x2="1452" y2="1917" stroke="#ff4400" stroke-width="2.4"/>
<circle cx="1437.6" cy="1917" r="3.9" fill="#ff6200"/>
<text x="1467.2" y="1923.9" font-size="22" font-weight="bold">month 5</text>
<line x1="1423.3" y1="1953.3" x2="1452" y2="1953.3" stroke="#006800" stroke-width="2.4"/>
<circle cx="1437.6" cy="1953.3" r="3.9" fill="#008000"/>
<text x="1467.2" y="1960.4" font-size="22" font-weight="bold">month 24</text>
<line x1="1423.3" y1="1989.1" x2="1452" y2="1989.1" stroke="#6e6e00" stroke-width="2.4"/>
<circle cx="1437.6" cy="1989.1" r="3.9" fill="#808000"/>
<text x="1467.2" y="1996.3" font-size="22" font-weight="bold">month 36</text>
<line x1="1423.3" y1="2025.3" x2="1452" y2="2025.3" stroke="#bcbc00" stroke-width="2.4"/>
<circle cx="1437.6" cy="2025.3" r="3.9" fill="#c8c800"/>
<text x="1467.2" y="2032.6" font-size="22" font-weight="bold">month 48</text>
</svg></body></html>
